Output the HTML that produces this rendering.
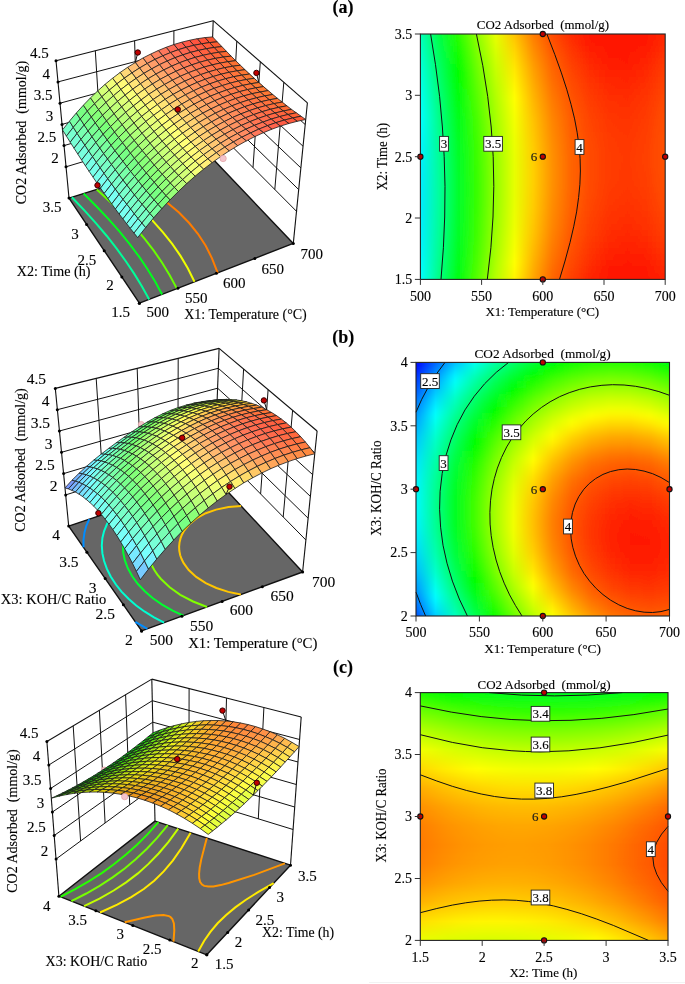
<!DOCTYPE html>
<html><head><meta charset="utf-8"><title>CO2 Adsorbed response surfaces</title>
<style>html,body{margin:0;padding:0;background:#fff}svg{display:block}text{stroke:#000;stroke-width:0.22px;stroke-opacity:0.55}</style></head>
<body><svg width="685" height="984" viewBox="0 0 685 984" font-family="'Liberation Serif', 'Times New Roman', serif" fill="#000">
<defs><clipPath id="clipa"><rect x="420.4" y="34.0" width="244.8" height="245.4"/></clipPath><clipPath id="clipb"><rect x="416.0" y="362.4" width="253.5" height="253.6"/></clipPath><clipPath id="clipc"><rect x="420.3" y="692.6" width="247.7" height="247.8"/></clipPath><filter id="blurr" x="-5%" y="-20%" width="110%" height="140%"><feGaussianBlur stdDeviation="0 3"/></filter><filter id="blurc" x="-20%" y="-5%" width="140%" height="110%"><feGaussianBlur stdDeviation="3 0"/></filter><linearGradient id="ga0"><stop offset="0" stop-color="#00ffaf"/><stop offset="0.077" stop-color="#00ff3a"/><stop offset="0.154" stop-color="#34ff00"/><stop offset="0.231" stop-color="#9aff00"/><stop offset="0.308" stop-color="#f3ff00"/><stop offset="0.385" stop-color="#ffb700"/><stop offset="0.462" stop-color="#ff7000"/><stop offset="0.538" stop-color="#ff4300"/><stop offset="0.615" stop-color="#ff2100"/><stop offset="0.692" stop-color="#ff1600"/><stop offset="0.769" stop-color="#ff1400"/><stop offset="0.846" stop-color="#ff1400"/><stop offset="0.923" stop-color="#ff1600"/><stop offset="1" stop-color="#ff1d00"/></linearGradient><linearGradient id="ga1"><stop offset="0" stop-color="#00ffb6"/><stop offset="0.077" stop-color="#00ff41"/><stop offset="0.154" stop-color="#2dff00"/><stop offset="0.231" stop-color="#93ff00"/><stop offset="0.308" stop-color="#ecff00"/><stop offset="0.385" stop-color="#ffbf00"/><stop offset="0.462" stop-color="#ff7800"/><stop offset="0.538" stop-color="#ff4900"/><stop offset="0.615" stop-color="#ff2700"/><stop offset="0.692" stop-color="#ff1800"/><stop offset="0.769" stop-color="#ff1500"/><stop offset="0.846" stop-color="#ff1500"/><stop offset="0.923" stop-color="#ff1700"/><stop offset="1" stop-color="#ff2200"/></linearGradient><linearGradient id="ga2"><stop offset="0" stop-color="#00ffbd"/><stop offset="0.077" stop-color="#00ff47"/><stop offset="0.154" stop-color="#26ff00"/><stop offset="0.231" stop-color="#8cff00"/><stop offset="0.308" stop-color="#e5ff00"/><stop offset="0.385" stop-color="#ffc600"/><stop offset="0.462" stop-color="#ff7f00"/><stop offset="0.538" stop-color="#ff4e00"/><stop offset="0.615" stop-color="#ff2c00"/><stop offset="0.692" stop-color="#ff1900"/><stop offset="0.769" stop-color="#ff1600"/><stop offset="0.846" stop-color="#ff1600"/><stop offset="0.923" stop-color="#ff1800"/><stop offset="1" stop-color="#ff2700"/></linearGradient><linearGradient id="ga3"><stop offset="0" stop-color="#00ffc3"/><stop offset="0.077" stop-color="#00ff4e"/><stop offset="0.154" stop-color="#1fff00"/><stop offset="0.231" stop-color="#85ff00"/><stop offset="0.308" stop-color="#dfff00"/><stop offset="0.385" stop-color="#ffcd00"/><stop offset="0.462" stop-color="#ff8600"/><stop offset="0.538" stop-color="#ff5300"/><stop offset="0.615" stop-color="#ff3100"/><stop offset="0.692" stop-color="#ff1a00"/><stop offset="0.769" stop-color="#ff1700"/><stop offset="0.846" stop-color="#ff1700"/><stop offset="0.923" stop-color="#ff1900"/><stop offset="1" stop-color="#ff2b00"/></linearGradient><linearGradient id="ga4"><stop offset="0" stop-color="#00ffc9"/><stop offset="0.077" stop-color="#00ff54"/><stop offset="0.154" stop-color="#18ff00"/><stop offset="0.231" stop-color="#7fff00"/><stop offset="0.308" stop-color="#d9ff00"/><stop offset="0.385" stop-color="#ffd400"/><stop offset="0.462" stop-color="#ff8c00"/><stop offset="0.538" stop-color="#ff5800"/><stop offset="0.615" stop-color="#ff3600"/><stop offset="0.692" stop-color="#ff1f00"/><stop offset="0.769" stop-color="#ff1800"/><stop offset="0.846" stop-color="#ff1800"/><stop offset="0.923" stop-color="#ff1b00"/><stop offset="1" stop-color="#ff2f00"/></linearGradient><linearGradient id="ga5"><stop offset="0" stop-color="#00ffcf"/><stop offset="0.077" stop-color="#00ff59"/><stop offset="0.154" stop-color="#12ff00"/><stop offset="0.231" stop-color="#79ff00"/><stop offset="0.308" stop-color="#d3ff00"/><stop offset="0.385" stop-color="#ffda00"/><stop offset="0.462" stop-color="#ff9200"/><stop offset="0.538" stop-color="#ff5d00"/><stop offset="0.615" stop-color="#ff3b00"/><stop offset="0.692" stop-color="#ff2300"/><stop offset="0.769" stop-color="#ff1900"/><stop offset="0.846" stop-color="#ff1900"/><stop offset="0.923" stop-color="#ff1f00"/><stop offset="1" stop-color="#ff3300"/></linearGradient><linearGradient id="ga6"><stop offset="0" stop-color="#00ffd5"/><stop offset="0.077" stop-color="#00ff5f"/><stop offset="0.154" stop-color="#0cff00"/><stop offset="0.231" stop-color="#73ff00"/><stop offset="0.308" stop-color="#cdff00"/><stop offset="0.385" stop-color="#ffe000"/><stop offset="0.462" stop-color="#ff9800"/><stop offset="0.538" stop-color="#ff6200"/><stop offset="0.615" stop-color="#ff3f00"/><stop offset="0.692" stop-color="#ff2700"/><stop offset="0.769" stop-color="#ff1b00"/><stop offset="0.846" stop-color="#ff1900"/><stop offset="0.923" stop-color="#ff2300"/><stop offset="1" stop-color="#ff3700"/></linearGradient><linearGradient id="ga7"><stop offset="0" stop-color="#00ffdb"/><stop offset="0.077" stop-color="#00ff64"/><stop offset="0.154" stop-color="#07ff00"/><stop offset="0.231" stop-color="#6eff00"/><stop offset="0.308" stop-color="#c8ff00"/><stop offset="0.385" stop-color="#ffe600"/><stop offset="0.462" stop-color="#ff9e00"/><stop offset="0.538" stop-color="#ff6600"/><stop offset="0.615" stop-color="#ff4300"/><stop offset="0.692" stop-color="#ff2b00"/><stop offset="0.769" stop-color="#ff1f00"/><stop offset="0.846" stop-color="#ff1d00"/><stop offset="0.923" stop-color="#ff2600"/><stop offset="1" stop-color="#ff3a00"/></linearGradient><linearGradient id="ga8"><stop offset="0" stop-color="#00ffe0"/><stop offset="0.077" stop-color="#00ff6a"/><stop offset="0.154" stop-color="#01ff00"/><stop offset="0.231" stop-color="#68ff00"/><stop offset="0.308" stop-color="#c3ff00"/><stop offset="0.385" stop-color="#ffeb00"/><stop offset="0.462" stop-color="#ffa300"/><stop offset="0.538" stop-color="#ff6a00"/><stop offset="0.615" stop-color="#ff4700"/><stop offset="0.692" stop-color="#ff2f00"/><stop offset="0.769" stop-color="#ff2200"/><stop offset="0.846" stop-color="#ff2000"/><stop offset="0.923" stop-color="#ff2a00"/><stop offset="1" stop-color="#ff3e00"/></linearGradient><linearGradient id="ga9"><stop offset="0" stop-color="#00ffe5"/><stop offset="0.077" stop-color="#00ff6e"/><stop offset="0.154" stop-color="#00ff04"/><stop offset="0.231" stop-color="#63ff00"/><stop offset="0.308" stop-color="#beff00"/><stop offset="0.385" stop-color="#fff100"/><stop offset="0.462" stop-color="#ffa800"/><stop offset="0.538" stop-color="#ff6e00"/><stop offset="0.615" stop-color="#ff4b00"/><stop offset="0.692" stop-color="#ff3300"/><stop offset="0.769" stop-color="#ff2600"/><stop offset="0.846" stop-color="#ff2400"/><stop offset="0.923" stop-color="#ff2d00"/><stop offset="1" stop-color="#ff4100"/></linearGradient><linearGradient id="ga10"><stop offset="0" stop-color="#00ffea"/><stop offset="0.077" stop-color="#00ff73"/><stop offset="0.154" stop-color="#00ff08"/><stop offset="0.231" stop-color="#5fff00"/><stop offset="0.308" stop-color="#b9ff00"/><stop offset="0.385" stop-color="#fff500"/><stop offset="0.462" stop-color="#ffad00"/><stop offset="0.538" stop-color="#ff7200"/><stop offset="0.615" stop-color="#ff4e00"/><stop offset="0.692" stop-color="#ff3600"/><stop offset="0.769" stop-color="#ff2900"/><stop offset="0.846" stop-color="#ff2700"/><stop offset="0.923" stop-color="#ff3000"/><stop offset="1" stop-color="#ff4300"/></linearGradient><linearGradient id="ga11"><stop offset="0" stop-color="#00ffee"/><stop offset="0.077" stop-color="#00ff77"/><stop offset="0.154" stop-color="#00ff0c"/><stop offset="0.231" stop-color="#5aff00"/><stop offset="0.308" stop-color="#b5ff00"/><stop offset="0.385" stop-color="#fffa00"/><stop offset="0.462" stop-color="#ffb100"/><stop offset="0.538" stop-color="#ff7600"/><stop offset="0.615" stop-color="#ff5100"/><stop offset="0.692" stop-color="#ff3900"/><stop offset="0.769" stop-color="#ff2c00"/><stop offset="0.846" stop-color="#ff2a00"/><stop offset="0.923" stop-color="#ff3200"/><stop offset="1" stop-color="#ff4600"/></linearGradient><linearGradient id="ga12"><stop offset="0" stop-color="#00fff2"/><stop offset="0.077" stop-color="#00ff7b"/><stop offset="0.154" stop-color="#00ff10"/><stop offset="0.231" stop-color="#56ff00"/><stop offset="0.308" stop-color="#b1ff00"/><stop offset="0.385" stop-color="#fffe00"/><stop offset="0.462" stop-color="#ffb500"/><stop offset="0.538" stop-color="#ff7a00"/><stop offset="0.615" stop-color="#ff5400"/><stop offset="0.692" stop-color="#ff3c00"/><stop offset="0.769" stop-color="#ff2f00"/><stop offset="0.846" stop-color="#ff2c00"/><stop offset="0.923" stop-color="#ff3500"/><stop offset="1" stop-color="#ff4800"/></linearGradient><linearGradient id="ga13"><stop offset="0" stop-color="#00fff6"/><stop offset="0.077" stop-color="#00ff7f"/><stop offset="0.154" stop-color="#00ff14"/><stop offset="0.231" stop-color="#52ff00"/><stop offset="0.308" stop-color="#adff00"/><stop offset="0.385" stop-color="#fcff00"/><stop offset="0.462" stop-color="#ffb900"/><stop offset="0.538" stop-color="#ff7e00"/><stop offset="0.615" stop-color="#ff5700"/><stop offset="0.692" stop-color="#ff3e00"/><stop offset="0.769" stop-color="#ff3100"/><stop offset="0.846" stop-color="#ff2e00"/><stop offset="0.923" stop-color="#ff3700"/><stop offset="1" stop-color="#ff4a00"/></linearGradient><linearGradient id="ga14"><stop offset="0" stop-color="#00fffa"/><stop offset="0.077" stop-color="#00ff83"/><stop offset="0.154" stop-color="#00ff17"/><stop offset="0.231" stop-color="#4fff00"/><stop offset="0.308" stop-color="#aaff00"/><stop offset="0.385" stop-color="#f9ff00"/><stop offset="0.462" stop-color="#ffbc00"/><stop offset="0.538" stop-color="#ff8100"/><stop offset="0.615" stop-color="#ff5900"/><stop offset="0.692" stop-color="#ff4100"/><stop offset="0.769" stop-color="#ff3300"/><stop offset="0.846" stop-color="#ff3000"/><stop offset="0.923" stop-color="#ff3900"/><stop offset="1" stop-color="#ff4c00"/></linearGradient><linearGradient id="ga15"><stop offset="0" stop-color="#00fffd"/><stop offset="0.077" stop-color="#00ff86"/><stop offset="0.154" stop-color="#00ff1b"/><stop offset="0.231" stop-color="#4bff00"/><stop offset="0.308" stop-color="#a7ff00"/><stop offset="0.385" stop-color="#f6ff00"/><stop offset="0.462" stop-color="#ffc000"/><stop offset="0.538" stop-color="#ff8400"/><stop offset="0.615" stop-color="#ff5c00"/><stop offset="0.692" stop-color="#ff4300"/><stop offset="0.769" stop-color="#ff3500"/><stop offset="0.846" stop-color="#ff3200"/><stop offset="0.923" stop-color="#ff3a00"/><stop offset="1" stop-color="#ff4e00"/></linearGradient><linearGradient id="ga16"><stop offset="0" stop-color="#00fdff"/><stop offset="0.077" stop-color="#00ff89"/><stop offset="0.154" stop-color="#00ff1e"/><stop offset="0.231" stop-color="#48ff00"/><stop offset="0.308" stop-color="#a4ff00"/><stop offset="0.385" stop-color="#f3ff00"/><stop offset="0.462" stop-color="#ffc300"/><stop offset="0.538" stop-color="#ff8700"/><stop offset="0.615" stop-color="#ff5e00"/><stop offset="0.692" stop-color="#ff4500"/><stop offset="0.769" stop-color="#ff3700"/><stop offset="0.846" stop-color="#ff3400"/><stop offset="0.923" stop-color="#ff3c00"/><stop offset="1" stop-color="#ff4f00"/></linearGradient><linearGradient id="ga17"><stop offset="0" stop-color="#00fbff"/><stop offset="0.077" stop-color="#00ff8c"/><stop offset="0.154" stop-color="#00ff20"/><stop offset="0.231" stop-color="#45ff00"/><stop offset="0.308" stop-color="#a1ff00"/><stop offset="0.385" stop-color="#f1ff00"/><stop offset="0.462" stop-color="#ffc500"/><stop offset="0.538" stop-color="#ff8900"/><stop offset="0.615" stop-color="#ff5f00"/><stop offset="0.692" stop-color="#ff4600"/><stop offset="0.769" stop-color="#ff3800"/><stop offset="0.846" stop-color="#ff3500"/><stop offset="0.923" stop-color="#ff3d00"/><stop offset="1" stop-color="#ff5000"/></linearGradient><linearGradient id="ga18"><stop offset="0" stop-color="#00f8ff"/><stop offset="0.077" stop-color="#00ff8f"/><stop offset="0.154" stop-color="#00ff23"/><stop offset="0.231" stop-color="#43ff00"/><stop offset="0.308" stop-color="#9fff00"/><stop offset="0.385" stop-color="#eeff00"/><stop offset="0.462" stop-color="#ffc700"/><stop offset="0.538" stop-color="#ff8b00"/><stop offset="0.615" stop-color="#ff6100"/><stop offset="0.692" stop-color="#ff4800"/><stop offset="0.769" stop-color="#ff3a00"/><stop offset="0.846" stop-color="#ff3600"/><stop offset="0.923" stop-color="#ff3e00"/><stop offset="1" stop-color="#ff5100"/></linearGradient><linearGradient id="ga19"><stop offset="0" stop-color="#00f6ff"/><stop offset="0.077" stop-color="#00ff91"/><stop offset="0.154" stop-color="#00ff25"/><stop offset="0.231" stop-color="#41ff00"/><stop offset="0.308" stop-color="#9dff00"/><stop offset="0.385" stop-color="#ecff00"/><stop offset="0.462" stop-color="#ffc900"/><stop offset="0.538" stop-color="#ff8d00"/><stop offset="0.615" stop-color="#ff6200"/><stop offset="0.692" stop-color="#ff4900"/><stop offset="0.769" stop-color="#ff3b00"/><stop offset="0.846" stop-color="#ff3700"/><stop offset="0.923" stop-color="#ff3f00"/><stop offset="1" stop-color="#ff5200"/></linearGradient><linearGradient id="ga20"><stop offset="0" stop-color="#00f3ff"/><stop offset="0.077" stop-color="#00ff93"/><stop offset="0.154" stop-color="#00ff27"/><stop offset="0.231" stop-color="#3fff00"/><stop offset="0.308" stop-color="#9bff00"/><stop offset="0.385" stop-color="#ebff00"/><stop offset="0.462" stop-color="#ffcb00"/><stop offset="0.538" stop-color="#ff8f00"/><stop offset="0.615" stop-color="#ff6300"/><stop offset="0.692" stop-color="#ff4a00"/><stop offset="0.769" stop-color="#ff3b00"/><stop offset="0.846" stop-color="#ff3800"/><stop offset="0.923" stop-color="#ff3f00"/><stop offset="1" stop-color="#ff5200"/></linearGradient><linearGradient id="ga21"><stop offset="0" stop-color="#00f2ff"/><stop offset="0.077" stop-color="#00ff95"/><stop offset="0.154" stop-color="#00ff28"/><stop offset="0.231" stop-color="#3dff00"/><stop offset="0.308" stop-color="#9aff00"/><stop offset="0.385" stop-color="#e9ff00"/><stop offset="0.462" stop-color="#ffcc00"/><stop offset="0.538" stop-color="#ff9000"/><stop offset="0.615" stop-color="#ff6400"/><stop offset="0.692" stop-color="#ff4b00"/><stop offset="0.769" stop-color="#ff3c00"/><stop offset="0.846" stop-color="#ff3800"/><stop offset="0.923" stop-color="#ff4000"/><stop offset="1" stop-color="#ff5200"/></linearGradient><linearGradient id="ga22"><stop offset="0" stop-color="#00f0ff"/><stop offset="0.077" stop-color="#00ff97"/><stop offset="0.154" stop-color="#00ff2a"/><stop offset="0.231" stop-color="#3cff00"/><stop offset="0.308" stop-color="#98ff00"/><stop offset="0.385" stop-color="#e8ff00"/><stop offset="0.462" stop-color="#ffcd00"/><stop offset="0.538" stop-color="#ff9100"/><stop offset="0.615" stop-color="#ff6500"/><stop offset="0.692" stop-color="#ff4b00"/><stop offset="0.769" stop-color="#ff3c00"/><stop offset="0.846" stop-color="#ff3900"/><stop offset="0.923" stop-color="#ff4000"/><stop offset="1" stop-color="#ff5200"/></linearGradient><linearGradient id="ga23"><stop offset="0" stop-color="#00eeff"/><stop offset="0.077" stop-color="#00ff98"/><stop offset="0.154" stop-color="#00ff2b"/><stop offset="0.231" stop-color="#3bff00"/><stop offset="0.308" stop-color="#97ff00"/><stop offset="0.385" stop-color="#e7ff00"/><stop offset="0.462" stop-color="#ffce00"/><stop offset="0.538" stop-color="#ff9100"/><stop offset="0.615" stop-color="#ff6500"/><stop offset="0.692" stop-color="#ff4b00"/><stop offset="0.769" stop-color="#ff3c00"/><stop offset="0.846" stop-color="#ff3800"/><stop offset="0.923" stop-color="#ff4000"/><stop offset="1" stop-color="#ff5200"/></linearGradient><linearGradient id="ga24"><stop offset="0" stop-color="#00edff"/><stop offset="0.077" stop-color="#00ff99"/><stop offset="0.154" stop-color="#00ff2c"/><stop offset="0.231" stop-color="#3aff00"/><stop offset="0.308" stop-color="#97ff00"/><stop offset="0.385" stop-color="#e7ff00"/><stop offset="0.462" stop-color="#ffcf00"/><stop offset="0.538" stop-color="#ff9200"/><stop offset="0.615" stop-color="#ff6500"/><stop offset="0.692" stop-color="#ff4b00"/><stop offset="0.769" stop-color="#ff3c00"/><stop offset="0.846" stop-color="#ff3800"/><stop offset="0.923" stop-color="#ff3f00"/><stop offset="1" stop-color="#ff5100"/></linearGradient><linearGradient id="ga25"><stop offset="0" stop-color="#00ecff"/><stop offset="0.077" stop-color="#00ff9a"/><stop offset="0.154" stop-color="#00ff2d"/><stop offset="0.231" stop-color="#39ff00"/><stop offset="0.308" stop-color="#96ff00"/><stop offset="0.385" stop-color="#e7ff00"/><stop offset="0.462" stop-color="#ffcf00"/><stop offset="0.538" stop-color="#ff9200"/><stop offset="0.615" stop-color="#ff6500"/><stop offset="0.692" stop-color="#ff4b00"/><stop offset="0.769" stop-color="#ff3c00"/><stop offset="0.846" stop-color="#ff3800"/><stop offset="0.923" stop-color="#ff3e00"/><stop offset="1" stop-color="#ff5000"/></linearGradient><linearGradient id="ga26"><stop offset="0" stop-color="#00ecff"/><stop offset="0.077" stop-color="#00ff9a"/><stop offset="0.154" stop-color="#00ff2d"/><stop offset="0.231" stop-color="#39ff00"/><stop offset="0.308" stop-color="#96ff00"/><stop offset="0.385" stop-color="#e7ff00"/><stop offset="0.462" stop-color="#ffcf00"/><stop offset="0.538" stop-color="#ff9100"/><stop offset="0.615" stop-color="#ff6500"/><stop offset="0.692" stop-color="#ff4a00"/><stop offset="0.769" stop-color="#ff3b00"/><stop offset="0.846" stop-color="#ff3700"/><stop offset="0.923" stop-color="#ff3e00"/><stop offset="1" stop-color="#ff4f00"/></linearGradient><linearGradient id="ga27"><stop offset="0" stop-color="#00ebff"/><stop offset="0.077" stop-color="#00ff9b"/><stop offset="0.154" stop-color="#00ff2d"/><stop offset="0.231" stop-color="#39ff00"/><stop offset="0.308" stop-color="#96ff00"/><stop offset="0.385" stop-color="#e7ff00"/><stop offset="0.462" stop-color="#ffce00"/><stop offset="0.538" stop-color="#ff9100"/><stop offset="0.615" stop-color="#ff6400"/><stop offset="0.692" stop-color="#ff4a00"/><stop offset="0.769" stop-color="#ff3a00"/><stop offset="0.846" stop-color="#ff3600"/><stop offset="0.923" stop-color="#ff3c00"/><stop offset="1" stop-color="#ff4e00"/></linearGradient><linearGradient id="ga28"><stop offset="0" stop-color="#00ebff"/><stop offset="0.077" stop-color="#00ff9b"/><stop offset="0.154" stop-color="#00ff2d"/><stop offset="0.231" stop-color="#39ff00"/><stop offset="0.308" stop-color="#96ff00"/><stop offset="0.385" stop-color="#e7ff00"/><stop offset="0.462" stop-color="#ffcd00"/><stop offset="0.538" stop-color="#ff9000"/><stop offset="0.615" stop-color="#ff6300"/><stop offset="0.692" stop-color="#ff4900"/><stop offset="0.769" stop-color="#ff3900"/><stop offset="0.846" stop-color="#ff3500"/><stop offset="0.923" stop-color="#ff3b00"/><stop offset="1" stop-color="#ff4c00"/></linearGradient><linearGradient id="ga29"><stop offset="0" stop-color="#00ebff"/><stop offset="0.077" stop-color="#00ff9b"/><stop offset="0.154" stop-color="#00ff2d"/><stop offset="0.231" stop-color="#39ff00"/><stop offset="0.308" stop-color="#97ff00"/><stop offset="0.385" stop-color="#e8ff00"/><stop offset="0.462" stop-color="#ffcc00"/><stop offset="0.538" stop-color="#ff8e00"/><stop offset="0.615" stop-color="#ff6200"/><stop offset="0.692" stop-color="#ff4700"/><stop offset="0.769" stop-color="#ff3800"/><stop offset="0.846" stop-color="#ff3300"/><stop offset="0.923" stop-color="#ff3900"/><stop offset="1" stop-color="#ff4b00"/></linearGradient><linearGradient id="ga30"><stop offset="0" stop-color="#00ebff"/><stop offset="0.077" stop-color="#00ff9a"/><stop offset="0.154" stop-color="#00ff2c"/><stop offset="0.231" stop-color="#3aff00"/><stop offset="0.308" stop-color="#98ff00"/><stop offset="0.385" stop-color="#e9ff00"/><stop offset="0.462" stop-color="#ffcb00"/><stop offset="0.538" stop-color="#ff8d00"/><stop offset="0.615" stop-color="#ff6100"/><stop offset="0.692" stop-color="#ff4600"/><stop offset="0.769" stop-color="#ff3600"/><stop offset="0.846" stop-color="#ff3100"/><stop offset="0.923" stop-color="#ff3800"/><stop offset="1" stop-color="#ff4900"/></linearGradient><linearGradient id="ga31"><stop offset="0" stop-color="#00ecff"/><stop offset="0.077" stop-color="#00ff99"/><stop offset="0.154" stop-color="#00ff2c"/><stop offset="0.231" stop-color="#3bff00"/><stop offset="0.308" stop-color="#99ff00"/><stop offset="0.385" stop-color="#ebff00"/><stop offset="0.462" stop-color="#ffc900"/><stop offset="0.538" stop-color="#ff8b00"/><stop offset="0.615" stop-color="#ff5f00"/><stop offset="0.692" stop-color="#ff4400"/><stop offset="0.769" stop-color="#ff3400"/><stop offset="0.846" stop-color="#ff2f00"/><stop offset="0.923" stop-color="#ff3500"/><stop offset="1" stop-color="#ff4600"/></linearGradient><linearGradient id="ga32"><stop offset="0" stop-color="#00edff"/><stop offset="0.077" stop-color="#00ff98"/><stop offset="0.154" stop-color="#00ff2a"/><stop offset="0.231" stop-color="#3dff00"/><stop offset="0.308" stop-color="#9bff00"/><stop offset="0.385" stop-color="#ecff00"/><stop offset="0.462" stop-color="#ffc700"/><stop offset="0.538" stop-color="#ff8900"/><stop offset="0.615" stop-color="#ff5d00"/><stop offset="0.692" stop-color="#ff4200"/><stop offset="0.769" stop-color="#ff3200"/><stop offset="0.846" stop-color="#ff2d00"/><stop offset="0.923" stop-color="#ff3300"/><stop offset="1" stop-color="#ff4400"/></linearGradient><linearGradient id="ga33"><stop offset="0" stop-color="#00eeff"/><stop offset="0.077" stop-color="#00ff97"/><stop offset="0.154" stop-color="#00ff29"/><stop offset="0.231" stop-color="#3eff00"/><stop offset="0.308" stop-color="#9cff00"/><stop offset="0.385" stop-color="#eeff00"/><stop offset="0.462" stop-color="#ffc500"/><stop offset="0.538" stop-color="#ff8700"/><stop offset="0.615" stop-color="#ff5b00"/><stop offset="0.692" stop-color="#ff4000"/><stop offset="0.769" stop-color="#ff3000"/><stop offset="0.846" stop-color="#ff2b00"/><stop offset="0.923" stop-color="#ff3100"/><stop offset="1" stop-color="#ff4100"/></linearGradient><linearGradient id="ga34"><stop offset="0" stop-color="#00efff"/><stop offset="0.077" stop-color="#00ff96"/><stop offset="0.154" stop-color="#00ff28"/><stop offset="0.231" stop-color="#40ff00"/><stop offset="0.308" stop-color="#9fff00"/><stop offset="0.385" stop-color="#f0ff00"/><stop offset="0.462" stop-color="#ffc300"/><stop offset="0.538" stop-color="#ff8400"/><stop offset="0.615" stop-color="#ff5900"/><stop offset="0.692" stop-color="#ff3e00"/><stop offset="0.769" stop-color="#ff2d00"/><stop offset="0.846" stop-color="#ff2800"/><stop offset="0.923" stop-color="#ff2e00"/><stop offset="1" stop-color="#ff3e00"/></linearGradient><linearGradient id="ga35"><stop offset="0" stop-color="#00f0ff"/><stop offset="0.077" stop-color="#00ff94"/><stop offset="0.154" stop-color="#00ff26"/><stop offset="0.231" stop-color="#42ff00"/><stop offset="0.308" stop-color="#a1ff00"/><stop offset="0.385" stop-color="#f3ff00"/><stop offset="0.462" stop-color="#ffc000"/><stop offset="0.538" stop-color="#ff8100"/><stop offset="0.615" stop-color="#ff5600"/><stop offset="0.692" stop-color="#ff3b00"/><stop offset="0.769" stop-color="#ff2b00"/><stop offset="0.846" stop-color="#ff2500"/><stop offset="0.923" stop-color="#ff2b00"/><stop offset="1" stop-color="#ff3b00"/></linearGradient><linearGradient id="ga36"><stop offset="0" stop-color="#00f2ff"/><stop offset="0.077" stop-color="#00ff92"/><stop offset="0.154" stop-color="#00ff24"/><stop offset="0.231" stop-color="#45ff00"/><stop offset="0.308" stop-color="#a3ff00"/><stop offset="0.385" stop-color="#f5ff00"/><stop offset="0.462" stop-color="#ffbc00"/><stop offset="0.538" stop-color="#ff7d00"/><stop offset="0.615" stop-color="#ff5400"/><stop offset="0.692" stop-color="#ff3800"/><stop offset="0.769" stop-color="#ff2800"/><stop offset="0.846" stop-color="#ff2200"/><stop offset="0.923" stop-color="#ff2700"/><stop offset="1" stop-color="#ff3800"/></linearGradient><linearGradient id="ga37"><stop offset="0" stop-color="#00f4ff"/><stop offset="0.077" stop-color="#00ff90"/><stop offset="0.154" stop-color="#00ff21"/><stop offset="0.231" stop-color="#47ff00"/><stop offset="0.308" stop-color="#a6ff00"/><stop offset="0.385" stop-color="#f8ff00"/><stop offset="0.462" stop-color="#ffb900"/><stop offset="0.538" stop-color="#ff7a00"/><stop offset="0.615" stop-color="#ff5100"/><stop offset="0.692" stop-color="#ff3500"/><stop offset="0.769" stop-color="#ff2400"/><stop offset="0.846" stop-color="#ff1f00"/><stop offset="0.923" stop-color="#ff2400"/><stop offset="1" stop-color="#ff3400"/></linearGradient><linearGradient id="ga38"><stop offset="0" stop-color="#00f6ff"/><stop offset="0.077" stop-color="#00ff8e"/><stop offset="0.154" stop-color="#00ff1f"/><stop offset="0.231" stop-color="#4aff00"/><stop offset="0.308" stop-color="#a9ff00"/><stop offset="0.385" stop-color="#fcff00"/><stop offset="0.462" stop-color="#ffb500"/><stop offset="0.538" stop-color="#ff7600"/><stop offset="0.615" stop-color="#ff4d00"/><stop offset="0.692" stop-color="#ff3200"/><stop offset="0.769" stop-color="#ff2100"/><stop offset="0.846" stop-color="#ff1b00"/><stop offset="0.923" stop-color="#ff2000"/><stop offset="1" stop-color="#ff3000"/></linearGradient><linearGradient id="ga39"><stop offset="0" stop-color="#00f9ff"/><stop offset="0.077" stop-color="#00ff8b"/><stop offset="0.154" stop-color="#00ff1c"/><stop offset="0.231" stop-color="#4eff00"/><stop offset="0.308" stop-color="#adff00"/><stop offset="0.385" stop-color="#ffff00"/><stop offset="0.462" stop-color="#ffb100"/><stop offset="0.538" stop-color="#ff7200"/><stop offset="0.615" stop-color="#ff4a00"/><stop offset="0.692" stop-color="#ff2e00"/><stop offset="0.769" stop-color="#ff1d00"/><stop offset="0.846" stop-color="#ff1900"/><stop offset="0.923" stop-color="#ff1c00"/><stop offset="1" stop-color="#ff2c00"/></linearGradient><linearGradient id="ga40"><stop offset="0" stop-color="#00fcff"/><stop offset="0.077" stop-color="#00ff88"/><stop offset="0.154" stop-color="#00ff19"/><stop offset="0.231" stop-color="#51ff00"/><stop offset="0.308" stop-color="#b0ff00"/><stop offset="0.385" stop-color="#fffb00"/><stop offset="0.462" stop-color="#ffad00"/><stop offset="0.538" stop-color="#ff6d00"/><stop offset="0.615" stop-color="#ff4600"/><stop offset="0.692" stop-color="#ff2a00"/><stop offset="0.769" stop-color="#ff1900"/><stop offset="0.846" stop-color="#ff1800"/><stop offset="0.923" stop-color="#ff1900"/><stop offset="1" stop-color="#ff2800"/></linearGradient><linearGradient id="ga41"><stop offset="0" stop-color="#00feff"/><stop offset="0.077" stop-color="#00ff85"/><stop offset="0.154" stop-color="#00ff15"/><stop offset="0.231" stop-color="#55ff00"/><stop offset="0.308" stop-color="#b4ff00"/><stop offset="0.385" stop-color="#fff600"/><stop offset="0.462" stop-color="#ffa800"/><stop offset="0.538" stop-color="#ff6900"/><stop offset="0.615" stop-color="#ff4200"/><stop offset="0.692" stop-color="#ff2600"/><stop offset="0.769" stop-color="#ff1900"/><stop offset="0.846" stop-color="#ff1700"/><stop offset="0.923" stop-color="#ff1800"/><stop offset="1" stop-color="#ff2300"/></linearGradient><linearGradient id="ga42"><stop offset="0" stop-color="#00fffc"/><stop offset="0.077" stop-color="#00ff81"/><stop offset="0.154" stop-color="#00ff12"/><stop offset="0.231" stop-color="#59ff00"/><stop offset="0.308" stop-color="#b8ff00"/><stop offset="0.385" stop-color="#fff100"/><stop offset="0.462" stop-color="#ffa300"/><stop offset="0.538" stop-color="#ff6500"/><stop offset="0.615" stop-color="#ff3e00"/><stop offset="0.692" stop-color="#ff2200"/><stop offset="0.769" stop-color="#ff1800"/><stop offset="0.846" stop-color="#ff1600"/><stop offset="0.923" stop-color="#ff1700"/><stop offset="1" stop-color="#ff1e00"/></linearGradient><linearGradient id="ga43"><stop offset="0" stop-color="#00fff9"/><stop offset="0.077" stop-color="#00ff7e"/><stop offset="0.154" stop-color="#00ff0e"/><stop offset="0.231" stop-color="#5dff00"/><stop offset="0.308" stop-color="#bdff00"/><stop offset="0.385" stop-color="#ffec00"/><stop offset="0.462" stop-color="#ff9e00"/><stop offset="0.538" stop-color="#ff6100"/><stop offset="0.615" stop-color="#ff3a00"/><stop offset="0.692" stop-color="#ff1d00"/><stop offset="0.769" stop-color="#ff1700"/><stop offset="0.846" stop-color="#ff1500"/><stop offset="0.923" stop-color="#ff1600"/><stop offset="1" stop-color="#ff1900"/></linearGradient><linearGradient id="gb0"><stop offset="0" stop-color="#0800ff"/><stop offset="0.077" stop-color="#0041ff"/><stop offset="0.154" stop-color="#009bff"/><stop offset="0.231" stop-color="#00ebff"/><stop offset="0.308" stop-color="#00ffcc"/><stop offset="0.385" stop-color="#00ff90"/><stop offset="0.462" stop-color="#00ff5f"/><stop offset="0.538" stop-color="#00ff39"/><stop offset="0.615" stop-color="#00ff1e"/><stop offset="0.692" stop-color="#00ff0e"/><stop offset="0.769" stop-color="#00ff09"/><stop offset="0.846" stop-color="#00ff0f"/><stop offset="0.923" stop-color="#00ff21"/><stop offset="1" stop-color="#00ff3e"/></linearGradient><linearGradient id="gb1"><stop offset="0" stop-color="#0300ff"/><stop offset="0.077" stop-color="#0059ff"/><stop offset="0.154" stop-color="#00b4ff"/><stop offset="0.231" stop-color="#00fffa"/><stop offset="0.308" stop-color="#00ffb1"/><stop offset="0.385" stop-color="#00ff74"/><stop offset="0.462" stop-color="#00ff43"/><stop offset="0.538" stop-color="#00ff1c"/><stop offset="0.615" stop-color="#00ff00"/><stop offset="0.692" stop-color="#11ff00"/><stop offset="0.769" stop-color="#17ff00"/><stop offset="0.846" stop-color="#11ff00"/><stop offset="0.923" stop-color="#00ff02"/><stop offset="1" stop-color="#00ff1e"/></linearGradient><linearGradient id="gb2"><stop offset="0" stop-color="#000bff"/><stop offset="0.077" stop-color="#0071ff"/><stop offset="0.154" stop-color="#00ccff"/><stop offset="0.231" stop-color="#00ffe0"/><stop offset="0.308" stop-color="#00ff98"/><stop offset="0.385" stop-color="#00ff5a"/><stop offset="0.462" stop-color="#00ff28"/><stop offset="0.538" stop-color="#00ff01"/><stop offset="0.615" stop-color="#1eff00"/><stop offset="0.692" stop-color="#30ff00"/><stop offset="0.769" stop-color="#37ff00"/><stop offset="0.846" stop-color="#31ff00"/><stop offset="0.923" stop-color="#1fff00"/><stop offset="1" stop-color="#01ff00"/></linearGradient><linearGradient id="gb3"><stop offset="0" stop-color="#0020ff"/><stop offset="0.077" stop-color="#0087ff"/><stop offset="0.154" stop-color="#00e3ff"/><stop offset="0.231" stop-color="#00ffc8"/><stop offset="0.308" stop-color="#00ff7f"/><stop offset="0.385" stop-color="#00ff41"/><stop offset="0.462" stop-color="#00ff0e"/><stop offset="0.538" stop-color="#1cff00"/><stop offset="0.615" stop-color="#3bff00"/><stop offset="0.692" stop-color="#4eff00"/><stop offset="0.769" stop-color="#55ff00"/><stop offset="0.846" stop-color="#50ff00"/><stop offset="0.923" stop-color="#3fff00"/><stop offset="1" stop-color="#22ff00"/></linearGradient><linearGradient id="gb4"><stop offset="0" stop-color="#0035ff"/><stop offset="0.077" stop-color="#009cff"/><stop offset="0.154" stop-color="#00f8ff"/><stop offset="0.231" stop-color="#00ffb1"/><stop offset="0.308" stop-color="#00ff67"/><stop offset="0.385" stop-color="#00ff29"/><stop offset="0.462" stop-color="#0cff00"/><stop offset="0.538" stop-color="#38ff00"/><stop offset="0.615" stop-color="#57ff00"/><stop offset="0.692" stop-color="#6bff00"/><stop offset="0.769" stop-color="#73ff00"/><stop offset="0.846" stop-color="#6eff00"/><stop offset="0.923" stop-color="#5dff00"/><stop offset="1" stop-color="#41ff00"/></linearGradient><linearGradient id="gb5"><stop offset="0" stop-color="#0048ff"/><stop offset="0.077" stop-color="#00b0ff"/><stop offset="0.154" stop-color="#00fff1"/><stop offset="0.231" stop-color="#00ff9b"/><stop offset="0.308" stop-color="#00ff51"/><stop offset="0.385" stop-color="#00ff12"/><stop offset="0.462" stop-color="#25ff00"/><stop offset="0.538" stop-color="#52ff00"/><stop offset="0.615" stop-color="#72ff00"/><stop offset="0.692" stop-color="#87ff00"/><stop offset="0.769" stop-color="#8fff00"/><stop offset="0.846" stop-color="#8bff00"/><stop offset="0.923" stop-color="#7bff00"/><stop offset="1" stop-color="#5fff00"/></linearGradient><linearGradient id="gb6"><stop offset="0" stop-color="#005bff"/><stop offset="0.077" stop-color="#00c3ff"/><stop offset="0.154" stop-color="#00ffdc"/><stop offset="0.231" stop-color="#00ff86"/><stop offset="0.308" stop-color="#00ff3b"/><stop offset="0.385" stop-color="#05ff00"/><stop offset="0.462" stop-color="#3eff00"/><stop offset="0.538" stop-color="#6bff00"/><stop offset="0.615" stop-color="#8cff00"/><stop offset="0.692" stop-color="#a1ff00"/><stop offset="0.769" stop-color="#aaff00"/><stop offset="0.846" stop-color="#a7ff00"/><stop offset="0.923" stop-color="#97ff00"/><stop offset="1" stop-color="#7cff00"/></linearGradient><linearGradient id="gb7"><stop offset="0" stop-color="#006cff"/><stop offset="0.077" stop-color="#00d5ff"/><stop offset="0.154" stop-color="#00ffc9"/><stop offset="0.231" stop-color="#00ff72"/><stop offset="0.308" stop-color="#00ff27"/><stop offset="0.385" stop-color="#1cff00"/><stop offset="0.462" stop-color="#55ff00"/><stop offset="0.538" stop-color="#83ff00"/><stop offset="0.615" stop-color="#a5ff00"/><stop offset="0.692" stop-color="#baff00"/><stop offset="0.769" stop-color="#c4ff00"/><stop offset="0.846" stop-color="#c1ff00"/><stop offset="0.923" stop-color="#b2ff00"/><stop offset="1" stop-color="#97ff00"/></linearGradient><linearGradient id="gb8"><stop offset="0" stop-color="#007dff"/><stop offset="0.077" stop-color="#00e6ff"/><stop offset="0.154" stop-color="#00ffb7"/><stop offset="0.231" stop-color="#00ff60"/><stop offset="0.308" stop-color="#00ff13"/><stop offset="0.385" stop-color="#31ff00"/><stop offset="0.462" stop-color="#6cff00"/><stop offset="0.538" stop-color="#9aff00"/><stop offset="0.615" stop-color="#bcff00"/><stop offset="0.692" stop-color="#d2ff00"/><stop offset="0.769" stop-color="#dcff00"/><stop offset="0.846" stop-color="#daff00"/><stop offset="0.923" stop-color="#ccff00"/><stop offset="1" stop-color="#b2ff00"/></linearGradient><linearGradient id="gb9"><stop offset="0" stop-color="#008cff"/><stop offset="0.077" stop-color="#00f6ff"/><stop offset="0.154" stop-color="#00ffa6"/><stop offset="0.231" stop-color="#00ff4e"/><stop offset="0.308" stop-color="#00ff01"/><stop offset="0.385" stop-color="#46ff00"/><stop offset="0.462" stop-color="#81ff00"/><stop offset="0.538" stop-color="#b0ff00"/><stop offset="0.615" stop-color="#d3ff00"/><stop offset="0.692" stop-color="#e9ff00"/><stop offset="0.769" stop-color="#f4ff00"/><stop offset="0.846" stop-color="#f3ff00"/><stop offset="0.923" stop-color="#e5ff00"/><stop offset="1" stop-color="#cbff00"/></linearGradient><linearGradient id="gb10"><stop offset="0" stop-color="#009aff"/><stop offset="0.077" stop-color="#00fff9"/><stop offset="0.154" stop-color="#00ff95"/><stop offset="0.231" stop-color="#00ff3d"/><stop offset="0.308" stop-color="#11ff00"/><stop offset="0.385" stop-color="#59ff00"/><stop offset="0.462" stop-color="#95ff00"/><stop offset="0.538" stop-color="#c4ff00"/><stop offset="0.615" stop-color="#e8ff00"/><stop offset="0.692" stop-color="#ffff00"/><stop offset="0.769" stop-color="#fff200"/><stop offset="0.846" stop-color="#fff300"/><stop offset="0.923" stop-color="#fdff00"/><stop offset="1" stop-color="#e4ff00"/></linearGradient><linearGradient id="gb11"><stop offset="0" stop-color="#00a8ff"/><stop offset="0.077" stop-color="#00ffea"/><stop offset="0.154" stop-color="#00ff86"/><stop offset="0.231" stop-color="#00ff2d"/><stop offset="0.308" stop-color="#23ff00"/><stop offset="0.385" stop-color="#6bff00"/><stop offset="0.462" stop-color="#a8ff00"/><stop offset="0.538" stop-color="#d8ff00"/><stop offset="0.615" stop-color="#fcff00"/><stop offset="0.692" stop-color="#ffe800"/><stop offset="0.769" stop-color="#ffdb00"/><stop offset="0.846" stop-color="#ffdb00"/><stop offset="0.923" stop-color="#ffe900"/><stop offset="1" stop-color="#fbff00"/></linearGradient><linearGradient id="gb12"><stop offset="0" stop-color="#00b4ff"/><stop offset="0.077" stop-color="#00ffdd"/><stop offset="0.154" stop-color="#00ff78"/><stop offset="0.231" stop-color="#00ff1f"/><stop offset="0.308" stop-color="#33ff00"/><stop offset="0.385" stop-color="#7cff00"/><stop offset="0.462" stop-color="#b9ff00"/><stop offset="0.538" stop-color="#eaff00"/><stop offset="0.615" stop-color="#ffee00"/><stop offset="0.692" stop-color="#ffd200"/><stop offset="0.769" stop-color="#ffc400"/><stop offset="0.846" stop-color="#ffc400"/><stop offset="0.923" stop-color="#ffd100"/><stop offset="1" stop-color="#ffeb00"/></linearGradient><linearGradient id="gb13"><stop offset="0" stop-color="#00c0ff"/><stop offset="0.077" stop-color="#00ffd1"/><stop offset="0.154" stop-color="#00ff6c"/><stop offset="0.231" stop-color="#00ff11"/><stop offset="0.308" stop-color="#43ff00"/><stop offset="0.385" stop-color="#8cff00"/><stop offset="0.462" stop-color="#caff00"/><stop offset="0.538" stop-color="#fbff00"/><stop offset="0.615" stop-color="#ffda00"/><stop offset="0.692" stop-color="#ffbe00"/><stop offset="0.769" stop-color="#ffaf00"/><stop offset="0.846" stop-color="#ffae00"/><stop offset="0.923" stop-color="#ffba00"/><stop offset="1" stop-color="#ffd400"/></linearGradient><linearGradient id="gb14"><stop offset="0" stop-color="#00caff"/><stop offset="0.077" stop-color="#00ffc5"/><stop offset="0.154" stop-color="#00ff60"/><stop offset="0.231" stop-color="#00ff05"/><stop offset="0.308" stop-color="#51ff00"/><stop offset="0.385" stop-color="#9bff00"/><stop offset="0.462" stop-color="#d9ff00"/><stop offset="0.538" stop-color="#fff200"/><stop offset="0.615" stop-color="#ffc800"/><stop offset="0.692" stop-color="#ffab00"/><stop offset="0.769" stop-color="#ff9c00"/><stop offset="0.846" stop-color="#ff9a00"/><stop offset="0.923" stop-color="#ffa500"/><stop offset="1" stop-color="#ffbe00"/></linearGradient><linearGradient id="gb15"><stop offset="0" stop-color="#00d3ff"/><stop offset="0.077" stop-color="#00ffbb"/><stop offset="0.154" stop-color="#00ff55"/><stop offset="0.231" stop-color="#07ff00"/><stop offset="0.308" stop-color="#5eff00"/><stop offset="0.385" stop-color="#a8ff00"/><stop offset="0.462" stop-color="#e7ff00"/><stop offset="0.538" stop-color="#ffe100"/><stop offset="0.615" stop-color="#ffb700"/><stop offset="0.692" stop-color="#ff9900"/><stop offset="0.769" stop-color="#ff8900"/><stop offset="0.846" stop-color="#ff8700"/><stop offset="0.923" stop-color="#ff9200"/><stop offset="1" stop-color="#ffaa00"/></linearGradient><linearGradient id="gb16"><stop offset="0" stop-color="#00dbff"/><stop offset="0.077" stop-color="#00ffb2"/><stop offset="0.154" stop-color="#00ff4b"/><stop offset="0.231" stop-color="#12ff00"/><stop offset="0.308" stop-color="#69ff00"/><stop offset="0.385" stop-color="#b5ff00"/><stop offset="0.462" stop-color="#f4ff00"/><stop offset="0.538" stop-color="#ffd200"/><stop offset="0.615" stop-color="#ffa700"/><stop offset="0.692" stop-color="#ff8900"/><stop offset="0.769" stop-color="#ff7800"/><stop offset="0.846" stop-color="#ff7500"/><stop offset="0.923" stop-color="#ff7f00"/><stop offset="1" stop-color="#ff9700"/></linearGradient><linearGradient id="gb17"><stop offset="0" stop-color="#00e3ff"/><stop offset="0.077" stop-color="#00ffaa"/><stop offset="0.154" stop-color="#00ff43"/><stop offset="0.231" stop-color="#1cff00"/><stop offset="0.308" stop-color="#74ff00"/><stop offset="0.385" stop-color="#c0ff00"/><stop offset="0.462" stop-color="#fffe00"/><stop offset="0.538" stop-color="#ffc400"/><stop offset="0.615" stop-color="#ff9800"/><stop offset="0.692" stop-color="#ff7900"/><stop offset="0.769" stop-color="#ff6a00"/><stop offset="0.846" stop-color="#ff6600"/><stop offset="0.923" stop-color="#ff6e00"/><stop offset="1" stop-color="#ff8500"/></linearGradient><linearGradient id="gb18"><stop offset="0" stop-color="#00e9ff"/><stop offset="0.077" stop-color="#00ffa3"/><stop offset="0.154" stop-color="#00ff3b"/><stop offset="0.231" stop-color="#25ff00"/><stop offset="0.308" stop-color="#7eff00"/><stop offset="0.385" stop-color="#caff00"/><stop offset="0.462" stop-color="#fff200"/><stop offset="0.538" stop-color="#ffb800"/><stop offset="0.615" stop-color="#ff8b00"/><stop offset="0.692" stop-color="#ff6c00"/><stop offset="0.769" stop-color="#ff5e00"/><stop offset="0.846" stop-color="#ff5a00"/><stop offset="0.923" stop-color="#ff6100"/><stop offset="1" stop-color="#ff7400"/></linearGradient><linearGradient id="gb19"><stop offset="0" stop-color="#00eeff"/><stop offset="0.077" stop-color="#00ff9d"/><stop offset="0.154" stop-color="#00ff34"/><stop offset="0.231" stop-color="#2dff00"/><stop offset="0.308" stop-color="#86ff00"/><stop offset="0.385" stop-color="#d3ff00"/><stop offset="0.462" stop-color="#ffe700"/><stop offset="0.538" stop-color="#ffac00"/><stop offset="0.615" stop-color="#ff7f00"/><stop offset="0.692" stop-color="#ff6200"/><stop offset="0.769" stop-color="#ff5400"/><stop offset="0.846" stop-color="#ff4f00"/><stop offset="0.923" stop-color="#ff5600"/><stop offset="1" stop-color="#ff6700"/></linearGradient><linearGradient id="gb20"><stop offset="0" stop-color="#00f2ff"/><stop offset="0.077" stop-color="#00ff98"/><stop offset="0.154" stop-color="#00ff2f"/><stop offset="0.231" stop-color="#33ff00"/><stop offset="0.308" stop-color="#8dff00"/><stop offset="0.385" stop-color="#dbff00"/><stop offset="0.462" stop-color="#ffde00"/><stop offset="0.538" stop-color="#ffa200"/><stop offset="0.615" stop-color="#ff7400"/><stop offset="0.692" stop-color="#ff5900"/><stop offset="0.769" stop-color="#ff4a00"/><stop offset="0.846" stop-color="#ff4500"/><stop offset="0.923" stop-color="#ff4b00"/><stop offset="1" stop-color="#ff5c00"/></linearGradient><linearGradient id="gb21"><stop offset="0" stop-color="#00f5ff"/><stop offset="0.077" stop-color="#00ff94"/><stop offset="0.154" stop-color="#00ff2b"/><stop offset="0.231" stop-color="#38ff00"/><stop offset="0.308" stop-color="#93ff00"/><stop offset="0.385" stop-color="#e2ff00"/><stop offset="0.462" stop-color="#ffd600"/><stop offset="0.538" stop-color="#ff9a00"/><stop offset="0.615" stop-color="#ff6c00"/><stop offset="0.692" stop-color="#ff5100"/><stop offset="0.769" stop-color="#ff4200"/><stop offset="0.846" stop-color="#ff3c00"/><stop offset="0.923" stop-color="#ff4200"/><stop offset="1" stop-color="#ff5200"/></linearGradient><linearGradient id="gb22"><stop offset="0" stop-color="#00f7ff"/><stop offset="0.077" stop-color="#00ff91"/><stop offset="0.154" stop-color="#00ff27"/><stop offset="0.231" stop-color="#3dff00"/><stop offset="0.308" stop-color="#98ff00"/><stop offset="0.385" stop-color="#e7ff00"/><stop offset="0.462" stop-color="#ffcf00"/><stop offset="0.538" stop-color="#ff9200"/><stop offset="0.615" stop-color="#ff6500"/><stop offset="0.692" stop-color="#ff4a00"/><stop offset="0.769" stop-color="#ff3a00"/><stop offset="0.846" stop-color="#ff3400"/><stop offset="0.923" stop-color="#ff3900"/><stop offset="1" stop-color="#ff4800"/></linearGradient><linearGradient id="gb23"><stop offset="0" stop-color="#00f8ff"/><stop offset="0.077" stop-color="#00ff90"/><stop offset="0.154" stop-color="#00ff25"/><stop offset="0.231" stop-color="#40ff00"/><stop offset="0.308" stop-color="#9cff00"/><stop offset="0.385" stop-color="#ebff00"/><stop offset="0.462" stop-color="#ffca00"/><stop offset="0.538" stop-color="#ff8c00"/><stop offset="0.615" stop-color="#ff6000"/><stop offset="0.692" stop-color="#ff4500"/><stop offset="0.769" stop-color="#ff3400"/><stop offset="0.846" stop-color="#ff2d00"/><stop offset="0.923" stop-color="#ff3200"/><stop offset="1" stop-color="#ff4000"/></linearGradient><linearGradient id="gb24"><stop offset="0" stop-color="#00f9ff"/><stop offset="0.077" stop-color="#00ff8f"/><stop offset="0.154" stop-color="#00ff24"/><stop offset="0.231" stop-color="#42ff00"/><stop offset="0.308" stop-color="#9eff00"/><stop offset="0.385" stop-color="#eeff00"/><stop offset="0.462" stop-color="#ffc600"/><stop offset="0.538" stop-color="#ff8700"/><stop offset="0.615" stop-color="#ff5c00"/><stop offset="0.692" stop-color="#ff4000"/><stop offset="0.769" stop-color="#ff2e00"/><stop offset="0.846" stop-color="#ff2800"/><stop offset="0.923" stop-color="#ff2b00"/><stop offset="1" stop-color="#ff3900"/></linearGradient><linearGradient id="gb25"><stop offset="0" stop-color="#00f8ff"/><stop offset="0.077" stop-color="#00ff90"/><stop offset="0.154" stop-color="#00ff24"/><stop offset="0.231" stop-color="#42ff00"/><stop offset="0.308" stop-color="#a0ff00"/><stop offset="0.385" stop-color="#f0ff00"/><stop offset="0.462" stop-color="#ffc300"/><stop offset="0.538" stop-color="#ff8400"/><stop offset="0.615" stop-color="#ff5800"/><stop offset="0.692" stop-color="#ff3c00"/><stop offset="0.769" stop-color="#ff2a00"/><stop offset="0.846" stop-color="#ff2300"/><stop offset="0.923" stop-color="#ff2600"/><stop offset="1" stop-color="#ff3300"/></linearGradient><linearGradient id="gb26"><stop offset="0" stop-color="#00f6ff"/><stop offset="0.077" stop-color="#00ff91"/><stop offset="0.154" stop-color="#00ff25"/><stop offset="0.231" stop-color="#42ff00"/><stop offset="0.308" stop-color="#a0ff00"/><stop offset="0.385" stop-color="#f1ff00"/><stop offset="0.462" stop-color="#ffc100"/><stop offset="0.538" stop-color="#ff8100"/><stop offset="0.615" stop-color="#ff5600"/><stop offset="0.692" stop-color="#ff3900"/><stop offset="0.769" stop-color="#ff2700"/><stop offset="0.846" stop-color="#ff1f00"/><stop offset="0.923" stop-color="#ff2100"/><stop offset="1" stop-color="#ff2e00"/></linearGradient><linearGradient id="gb27"><stop offset="0" stop-color="#00f3ff"/><stop offset="0.077" stop-color="#00ff94"/><stop offset="0.154" stop-color="#00ff27"/><stop offset="0.231" stop-color="#41ff00"/><stop offset="0.308" stop-color="#9fff00"/><stop offset="0.385" stop-color="#f1ff00"/><stop offset="0.462" stop-color="#ffc100"/><stop offset="0.538" stop-color="#ff8000"/><stop offset="0.615" stop-color="#ff5500"/><stop offset="0.692" stop-color="#ff3700"/><stop offset="0.769" stop-color="#ff2400"/><stop offset="0.846" stop-color="#ff1c00"/><stop offset="0.923" stop-color="#ff1e00"/><stop offset="1" stop-color="#ff2a00"/></linearGradient><linearGradient id="gb28"><stop offset="0" stop-color="#00efff"/><stop offset="0.077" stop-color="#00ff97"/><stop offset="0.154" stop-color="#00ff2a"/><stop offset="0.231" stop-color="#3eff00"/><stop offset="0.308" stop-color="#9dff00"/><stop offset="0.385" stop-color="#f0ff00"/><stop offset="0.462" stop-color="#ffc200"/><stop offset="0.538" stop-color="#ff8100"/><stop offset="0.615" stop-color="#ff5400"/><stop offset="0.692" stop-color="#ff3600"/><stop offset="0.769" stop-color="#ff2300"/><stop offset="0.846" stop-color="#ff1a00"/><stop offset="0.923" stop-color="#ff1b00"/><stop offset="1" stop-color="#ff2700"/></linearGradient><linearGradient id="gb29"><stop offset="0" stop-color="#00e9ff"/><stop offset="0.077" stop-color="#00ff9c"/><stop offset="0.154" stop-color="#00ff2e"/><stop offset="0.231" stop-color="#3aff00"/><stop offset="0.308" stop-color="#99ff00"/><stop offset="0.385" stop-color="#edff00"/><stop offset="0.462" stop-color="#ffc400"/><stop offset="0.538" stop-color="#ff8200"/><stop offset="0.615" stop-color="#ff5500"/><stop offset="0.692" stop-color="#ff3600"/><stop offset="0.769" stop-color="#ff2200"/><stop offset="0.846" stop-color="#ff1900"/><stop offset="0.923" stop-color="#ff1a00"/><stop offset="1" stop-color="#ff2500"/></linearGradient><linearGradient id="gb30"><stop offset="0" stop-color="#00e3ff"/><stop offset="0.077" stop-color="#00ffa2"/><stop offset="0.154" stop-color="#00ff33"/><stop offset="0.231" stop-color="#35ff00"/><stop offset="0.308" stop-color="#95ff00"/><stop offset="0.385" stop-color="#e9ff00"/><stop offset="0.462" stop-color="#ffc700"/><stop offset="0.538" stop-color="#ff8500"/><stop offset="0.615" stop-color="#ff5700"/><stop offset="0.692" stop-color="#ff3700"/><stop offset="0.769" stop-color="#ff2300"/><stop offset="0.846" stop-color="#ff1900"/><stop offset="0.923" stop-color="#ff1900"/><stop offset="1" stop-color="#ff2400"/></linearGradient><linearGradient id="gb31"><stop offset="0" stop-color="#00dcff"/><stop offset="0.077" stop-color="#00ffa9"/><stop offset="0.154" stop-color="#00ff39"/><stop offset="0.231" stop-color="#2fff00"/><stop offset="0.308" stop-color="#90ff00"/><stop offset="0.385" stop-color="#e4ff00"/><stop offset="0.462" stop-color="#ffcc00"/><stop offset="0.538" stop-color="#ff8900"/><stop offset="0.615" stop-color="#ff5900"/><stop offset="0.692" stop-color="#ff3a00"/><stop offset="0.769" stop-color="#ff2400"/><stop offset="0.846" stop-color="#ff1a00"/><stop offset="0.923" stop-color="#ff1a00"/><stop offset="1" stop-color="#ff2400"/></linearGradient><linearGradient id="gb32"><stop offset="0" stop-color="#00d4ff"/><stop offset="0.077" stop-color="#00ffb0"/><stop offset="0.154" stop-color="#00ff40"/><stop offset="0.231" stop-color="#27ff00"/><stop offset="0.308" stop-color="#89ff00"/><stop offset="0.385" stop-color="#deff00"/><stop offset="0.462" stop-color="#ffd200"/><stop offset="0.538" stop-color="#ff8e00"/><stop offset="0.615" stop-color="#ff5d00"/><stop offset="0.692" stop-color="#ff3d00"/><stop offset="0.769" stop-color="#ff2700"/><stop offset="0.846" stop-color="#ff1c00"/><stop offset="0.923" stop-color="#ff1b00"/><stop offset="1" stop-color="#ff2500"/></linearGradient><linearGradient id="gb33"><stop offset="0" stop-color="#00cbff"/><stop offset="0.077" stop-color="#00ffb9"/><stop offset="0.154" stop-color="#00ff49"/><stop offset="0.231" stop-color="#1fff00"/><stop offset="0.308" stop-color="#81ff00"/><stop offset="0.385" stop-color="#d7ff00"/><stop offset="0.462" stop-color="#ffda00"/><stop offset="0.538" stop-color="#ff9500"/><stop offset="0.615" stop-color="#ff6200"/><stop offset="0.692" stop-color="#ff4100"/><stop offset="0.769" stop-color="#ff2b00"/><stop offset="0.846" stop-color="#ff1f00"/><stop offset="0.923" stop-color="#ff1e00"/><stop offset="1" stop-color="#ff2700"/></linearGradient><linearGradient id="gb34"><stop offset="0" stop-color="#00c1ff"/><stop offset="0.077" stop-color="#00ffc3"/><stop offset="0.154" stop-color="#00ff52"/><stop offset="0.231" stop-color="#15ff00"/><stop offset="0.308" stop-color="#78ff00"/><stop offset="0.385" stop-color="#ceff00"/><stop offset="0.462" stop-color="#ffe200"/><stop offset="0.538" stop-color="#ff9d00"/><stop offset="0.615" stop-color="#ff6700"/><stop offset="0.692" stop-color="#ff4600"/><stop offset="0.769" stop-color="#ff2f00"/><stop offset="0.846" stop-color="#ff2300"/><stop offset="0.923" stop-color="#ff2100"/><stop offset="1" stop-color="#ff2a00"/></linearGradient><linearGradient id="gb35"><stop offset="0" stop-color="#00b6ff"/><stop offset="0.077" stop-color="#00ffce"/><stop offset="0.154" stop-color="#00ff5d"/><stop offset="0.231" stop-color="#0bff00"/><stop offset="0.308" stop-color="#6eff00"/><stop offset="0.385" stop-color="#c5ff00"/><stop offset="0.462" stop-color="#ffec00"/><stop offset="0.538" stop-color="#ffa600"/><stop offset="0.615" stop-color="#ff6e00"/><stop offset="0.692" stop-color="#ff4c00"/><stop offset="0.769" stop-color="#ff3500"/><stop offset="0.846" stop-color="#ff2800"/><stop offset="0.923" stop-color="#ff2600"/><stop offset="1" stop-color="#ff2e00"/></linearGradient><linearGradient id="gb36"><stop offset="0" stop-color="#00a9ff"/><stop offset="0.077" stop-color="#00ffdb"/><stop offset="0.154" stop-color="#00ff68"/><stop offset="0.231" stop-color="#00ff01"/><stop offset="0.308" stop-color="#62ff00"/><stop offset="0.385" stop-color="#baff00"/><stop offset="0.462" stop-color="#fff700"/><stop offset="0.538" stop-color="#ffb100"/><stop offset="0.615" stop-color="#ff7800"/><stop offset="0.692" stop-color="#ff5300"/><stop offset="0.769" stop-color="#ff3c00"/><stop offset="0.846" stop-color="#ff2e00"/><stop offset="0.923" stop-color="#ff2c00"/><stop offset="1" stop-color="#ff3300"/></linearGradient><linearGradient id="gb37"><stop offset="0" stop-color="#009cff"/><stop offset="0.077" stop-color="#00ffe8"/><stop offset="0.154" stop-color="#00ff75"/><stop offset="0.231" stop-color="#00ff0d"/><stop offset="0.308" stop-color="#56ff00"/><stop offset="0.385" stop-color="#aeff00"/><stop offset="0.462" stop-color="#fbff00"/><stop offset="0.538" stop-color="#ffbd00"/><stop offset="0.615" stop-color="#ff8300"/><stop offset="0.692" stop-color="#ff5c00"/><stop offset="0.769" stop-color="#ff4300"/><stop offset="0.846" stop-color="#ff3500"/><stop offset="0.923" stop-color="#ff3200"/><stop offset="1" stop-color="#ff3900"/></linearGradient><linearGradient id="gb38"><stop offset="0" stop-color="#008eff"/><stop offset="0.077" stop-color="#00fff6"/><stop offset="0.154" stop-color="#00ff83"/><stop offset="0.231" stop-color="#00ff1a"/><stop offset="0.308" stop-color="#48ff00"/><stop offset="0.385" stop-color="#a1ff00"/><stop offset="0.462" stop-color="#eeff00"/><stop offset="0.538" stop-color="#ffca00"/><stop offset="0.615" stop-color="#ff8f00"/><stop offset="0.692" stop-color="#ff6500"/><stop offset="0.769" stop-color="#ff4c00"/><stop offset="0.846" stop-color="#ff3e00"/><stop offset="0.923" stop-color="#ff3a00"/><stop offset="1" stop-color="#ff4000"/></linearGradient><linearGradient id="gb39"><stop offset="0" stop-color="#007eff"/><stop offset="0.077" stop-color="#00f9ff"/><stop offset="0.154" stop-color="#00ff92"/><stop offset="0.231" stop-color="#00ff29"/><stop offset="0.308" stop-color="#3aff00"/><stop offset="0.385" stop-color="#93ff00"/><stop offset="0.462" stop-color="#e1ff00"/><stop offset="0.538" stop-color="#ffd800"/><stop offset="0.615" stop-color="#ff9d00"/><stop offset="0.692" stop-color="#ff6f00"/><stop offset="0.769" stop-color="#ff5600"/><stop offset="0.846" stop-color="#ff4700"/><stop offset="0.923" stop-color="#ff4200"/><stop offset="1" stop-color="#ff4800"/></linearGradient><linearGradient id="gb40"><stop offset="0" stop-color="#006eff"/><stop offset="0.077" stop-color="#00e9ff"/><stop offset="0.154" stop-color="#00ffa1"/><stop offset="0.231" stop-color="#00ff38"/><stop offset="0.308" stop-color="#2aff00"/><stop offset="0.385" stop-color="#84ff00"/><stop offset="0.462" stop-color="#d2ff00"/><stop offset="0.538" stop-color="#ffe800"/><stop offset="0.615" stop-color="#ffac00"/><stop offset="0.692" stop-color="#ff7d00"/><stop offset="0.769" stop-color="#ff6000"/><stop offset="0.846" stop-color="#ff5100"/><stop offset="0.923" stop-color="#ff4c00"/><stop offset="1" stop-color="#ff5100"/></linearGradient><linearGradient id="gb41"><stop offset="0" stop-color="#005dff"/><stop offset="0.077" stop-color="#00d8ff"/><stop offset="0.154" stop-color="#00ffb2"/><stop offset="0.231" stop-color="#00ff48"/><stop offset="0.308" stop-color="#18ff00"/><stop offset="0.385" stop-color="#73ff00"/><stop offset="0.462" stop-color="#c2ff00"/><stop offset="0.538" stop-color="#fff900"/><stop offset="0.615" stop-color="#ffbc00"/><stop offset="0.692" stop-color="#ff8d00"/><stop offset="0.769" stop-color="#ff6c00"/><stop offset="0.846" stop-color="#ff5c00"/><stop offset="0.923" stop-color="#ff5600"/><stop offset="1" stop-color="#ff5b00"/></linearGradient><linearGradient id="gb42"><stop offset="0" stop-color="#004aff"/><stop offset="0.077" stop-color="#00c6ff"/><stop offset="0.154" stop-color="#00ffc4"/><stop offset="0.231" stop-color="#00ff5a"/><stop offset="0.308" stop-color="#06ff00"/><stop offset="0.385" stop-color="#62ff00"/><stop offset="0.462" stop-color="#b1ff00"/><stop offset="0.538" stop-color="#f4ff00"/><stop offset="0.615" stop-color="#ffce00"/><stop offset="0.692" stop-color="#ff9e00"/><stop offset="0.769" stop-color="#ff7b00"/><stop offset="0.846" stop-color="#ff6800"/><stop offset="0.923" stop-color="#ff6200"/><stop offset="1" stop-color="#ff6700"/></linearGradient><linearGradient id="gb43"><stop offset="0" stop-color="#0037ff"/><stop offset="0.077" stop-color="#00b3ff"/><stop offset="0.154" stop-color="#00ffd7"/><stop offset="0.231" stop-color="#00ff6c"/><stop offset="0.308" stop-color="#00ff0c"/><stop offset="0.385" stop-color="#4fff00"/><stop offset="0.462" stop-color="#9fff00"/><stop offset="0.538" stop-color="#e3ff00"/><stop offset="0.615" stop-color="#ffe000"/><stop offset="0.692" stop-color="#ffb000"/><stop offset="0.769" stop-color="#ff8d00"/><stop offset="0.846" stop-color="#ff7700"/><stop offset="0.923" stop-color="#ff6f00"/><stop offset="1" stop-color="#ff7400"/></linearGradient><linearGradient id="gc0" x2="0" y2="1"><stop offset="0" stop-color="#25ff00"/><stop offset="0.077" stop-color="#77ff00"/><stop offset="0.154" stop-color="#beff00"/><stop offset="0.231" stop-color="#faff00"/><stop offset="0.308" stop-color="#ffcf00"/><stop offset="0.385" stop-color="#ffa500"/><stop offset="0.462" stop-color="#ff8800"/><stop offset="0.538" stop-color="#ff7600"/><stop offset="0.615" stop-color="#ff7100"/><stop offset="0.692" stop-color="#ff7900"/><stop offset="0.769" stop-color="#ff8c00"/><stop offset="0.846" stop-color="#ffac00"/><stop offset="0.923" stop-color="#ffd800"/><stop offset="1" stop-color="#efff00"/></linearGradient><linearGradient id="gc1" x2="0" y2="1"><stop offset="0" stop-color="#1fff00"/><stop offset="0.077" stop-color="#71ff00"/><stop offset="0.154" stop-color="#b8ff00"/><stop offset="0.231" stop-color="#f4ff00"/><stop offset="0.308" stop-color="#ffd500"/><stop offset="0.385" stop-color="#ffab00"/><stop offset="0.462" stop-color="#ff8d00"/><stop offset="0.538" stop-color="#ff7c00"/><stop offset="0.615" stop-color="#ff7600"/><stop offset="0.692" stop-color="#ff7e00"/><stop offset="0.769" stop-color="#ff9100"/><stop offset="0.846" stop-color="#ffb100"/><stop offset="0.923" stop-color="#ffdd00"/><stop offset="1" stop-color="#ebff00"/></linearGradient><linearGradient id="gc2" x2="0" y2="1"><stop offset="0" stop-color="#19ff00"/><stop offset="0.077" stop-color="#6bff00"/><stop offset="0.154" stop-color="#b3ff00"/><stop offset="0.231" stop-color="#efff00"/><stop offset="0.308" stop-color="#ffda00"/><stop offset="0.385" stop-color="#ffb000"/><stop offset="0.462" stop-color="#ff9200"/><stop offset="0.538" stop-color="#ff8100"/><stop offset="0.615" stop-color="#ff7b00"/><stop offset="0.692" stop-color="#ff8200"/><stop offset="0.769" stop-color="#ff9500"/><stop offset="0.846" stop-color="#ffb500"/><stop offset="0.923" stop-color="#ffe000"/><stop offset="1" stop-color="#e8ff00"/></linearGradient><linearGradient id="gc3" x2="0" y2="1"><stop offset="0" stop-color="#13ff00"/><stop offset="0.077" stop-color="#66ff00"/><stop offset="0.154" stop-color="#adff00"/><stop offset="0.231" stop-color="#eaff00"/><stop offset="0.308" stop-color="#ffe000"/><stop offset="0.385" stop-color="#ffb500"/><stop offset="0.462" stop-color="#ff9700"/><stop offset="0.538" stop-color="#ff8500"/><stop offset="0.615" stop-color="#ff8000"/><stop offset="0.692" stop-color="#ff8600"/><stop offset="0.769" stop-color="#ff9900"/><stop offset="0.846" stop-color="#ffb800"/><stop offset="0.923" stop-color="#ffe400"/><stop offset="1" stop-color="#e5ff00"/></linearGradient><linearGradient id="gc4" x2="0" y2="1"><stop offset="0" stop-color="#0eff00"/><stop offset="0.077" stop-color="#61ff00"/><stop offset="0.154" stop-color="#a8ff00"/><stop offset="0.231" stop-color="#e5ff00"/><stop offset="0.308" stop-color="#ffe500"/><stop offset="0.385" stop-color="#ffba00"/><stop offset="0.462" stop-color="#ff9c00"/><stop offset="0.538" stop-color="#ff8a00"/><stop offset="0.615" stop-color="#ff8400"/><stop offset="0.692" stop-color="#ff8a00"/><stop offset="0.769" stop-color="#ff9d00"/><stop offset="0.846" stop-color="#ffbc00"/><stop offset="0.923" stop-color="#ffe700"/><stop offset="1" stop-color="#e3ff00"/></linearGradient><linearGradient id="gc5" x2="0" y2="1"><stop offset="0" stop-color="#09ff00"/><stop offset="0.077" stop-color="#5cff00"/><stop offset="0.154" stop-color="#a4ff00"/><stop offset="0.231" stop-color="#e0ff00"/><stop offset="0.308" stop-color="#ffea00"/><stop offset="0.385" stop-color="#ffbf00"/><stop offset="0.462" stop-color="#ffa000"/><stop offset="0.538" stop-color="#ff8e00"/><stop offset="0.615" stop-color="#ff8800"/><stop offset="0.692" stop-color="#ff8e00"/><stop offset="0.769" stop-color="#ffa000"/><stop offset="0.846" stop-color="#ffbf00"/><stop offset="0.923" stop-color="#ffea00"/><stop offset="1" stop-color="#e0ff00"/></linearGradient><linearGradient id="gc6" x2="0" y2="1"><stop offset="0" stop-color="#04ff00"/><stop offset="0.077" stop-color="#57ff00"/><stop offset="0.154" stop-color="#9fff00"/><stop offset="0.231" stop-color="#dcff00"/><stop offset="0.308" stop-color="#ffee00"/><stop offset="0.385" stop-color="#ffc300"/><stop offset="0.462" stop-color="#ffa400"/><stop offset="0.538" stop-color="#ff9200"/><stop offset="0.615" stop-color="#ff8b00"/><stop offset="0.692" stop-color="#ff9100"/><stop offset="0.769" stop-color="#ffa300"/><stop offset="0.846" stop-color="#ffc200"/><stop offset="0.923" stop-color="#ffec00"/><stop offset="1" stop-color="#deff00"/></linearGradient><linearGradient id="gc7" x2="0" y2="1"><stop offset="0" stop-color="#00ff01"/><stop offset="0.077" stop-color="#53ff00"/><stop offset="0.154" stop-color="#9bff00"/><stop offset="0.231" stop-color="#d8ff00"/><stop offset="0.308" stop-color="#fff200"/><stop offset="0.385" stop-color="#ffc700"/><stop offset="0.462" stop-color="#ffa800"/><stop offset="0.538" stop-color="#ff9500"/><stop offset="0.615" stop-color="#ff8e00"/><stop offset="0.692" stop-color="#ff9400"/><stop offset="0.769" stop-color="#ffa600"/><stop offset="0.846" stop-color="#ffc400"/><stop offset="0.923" stop-color="#ffef00"/><stop offset="1" stop-color="#dcff00"/></linearGradient><linearGradient id="gc8" x2="0" y2="1"><stop offset="0" stop-color="#00ff05"/><stop offset="0.077" stop-color="#4eff00"/><stop offset="0.154" stop-color="#97ff00"/><stop offset="0.231" stop-color="#d4ff00"/><stop offset="0.308" stop-color="#fff600"/><stop offset="0.385" stop-color="#ffcb00"/><stop offset="0.462" stop-color="#ffab00"/><stop offset="0.538" stop-color="#ff9800"/><stop offset="0.615" stop-color="#ff9100"/><stop offset="0.692" stop-color="#ff9700"/><stop offset="0.769" stop-color="#ffa800"/><stop offset="0.846" stop-color="#ffc600"/><stop offset="0.923" stop-color="#fff100"/><stop offset="1" stop-color="#dbff00"/></linearGradient><linearGradient id="gc9" x2="0" y2="1"><stop offset="0" stop-color="#00ff09"/><stop offset="0.077" stop-color="#4bff00"/><stop offset="0.154" stop-color="#93ff00"/><stop offset="0.231" stop-color="#d1ff00"/><stop offset="0.308" stop-color="#fffa00"/><stop offset="0.385" stop-color="#ffce00"/><stop offset="0.462" stop-color="#ffae00"/><stop offset="0.538" stop-color="#ff9b00"/><stop offset="0.615" stop-color="#ff9400"/><stop offset="0.692" stop-color="#ff9900"/><stop offset="0.769" stop-color="#ffaa00"/><stop offset="0.846" stop-color="#ffc800"/><stop offset="0.923" stop-color="#fff200"/><stop offset="1" stop-color="#daff00"/></linearGradient><linearGradient id="gc10" x2="0" y2="1"><stop offset="0" stop-color="#00ff0c"/><stop offset="0.077" stop-color="#47ff00"/><stop offset="0.154" stop-color="#90ff00"/><stop offset="0.231" stop-color="#ceff00"/><stop offset="0.308" stop-color="#fffd00"/><stop offset="0.385" stop-color="#ffd100"/><stop offset="0.462" stop-color="#ffb100"/><stop offset="0.538" stop-color="#ff9d00"/><stop offset="0.615" stop-color="#ff9600"/><stop offset="0.692" stop-color="#ff9b00"/><stop offset="0.769" stop-color="#ffac00"/><stop offset="0.846" stop-color="#ffca00"/><stop offset="0.923" stop-color="#fff400"/><stop offset="1" stop-color="#d9ff00"/></linearGradient><linearGradient id="gc11" x2="0" y2="1"><stop offset="0" stop-color="#00ff0f"/><stop offset="0.077" stop-color="#44ff00"/><stop offset="0.154" stop-color="#8dff00"/><stop offset="0.231" stop-color="#cbff00"/><stop offset="0.308" stop-color="#feff00"/><stop offset="0.385" stop-color="#ffd400"/><stop offset="0.462" stop-color="#ffb400"/><stop offset="0.538" stop-color="#ffa000"/><stop offset="0.615" stop-color="#ff9800"/><stop offset="0.692" stop-color="#ff9d00"/><stop offset="0.769" stop-color="#ffae00"/><stop offset="0.846" stop-color="#ffcb00"/><stop offset="0.923" stop-color="#fff500"/><stop offset="1" stop-color="#d8ff00"/></linearGradient><linearGradient id="gc12" x2="0" y2="1"><stop offset="0" stop-color="#00ff12"/><stop offset="0.077" stop-color="#41ff00"/><stop offset="0.154" stop-color="#8aff00"/><stop offset="0.231" stop-color="#c8ff00"/><stop offset="0.308" stop-color="#fcff00"/><stop offset="0.385" stop-color="#ffd600"/><stop offset="0.462" stop-color="#ffb600"/><stop offset="0.538" stop-color="#ffa200"/><stop offset="0.615" stop-color="#ff9a00"/><stop offset="0.692" stop-color="#ff9e00"/><stop offset="0.769" stop-color="#ffaf00"/><stop offset="0.846" stop-color="#ffcc00"/><stop offset="0.923" stop-color="#fff500"/><stop offset="1" stop-color="#d8ff00"/></linearGradient><linearGradient id="gc13" x2="0" y2="1"><stop offset="0" stop-color="#00ff15"/><stop offset="0.077" stop-color="#3eff00"/><stop offset="0.154" stop-color="#87ff00"/><stop offset="0.231" stop-color="#c6ff00"/><stop offset="0.308" stop-color="#f9ff00"/><stop offset="0.385" stop-color="#ffd800"/><stop offset="0.462" stop-color="#ffb800"/><stop offset="0.538" stop-color="#ffa300"/><stop offset="0.615" stop-color="#ff9b00"/><stop offset="0.692" stop-color="#ff9f00"/><stop offset="0.769" stop-color="#ffb000"/><stop offset="0.846" stop-color="#ffcd00"/><stop offset="0.923" stop-color="#fff600"/><stop offset="1" stop-color="#d7ff00"/></linearGradient><linearGradient id="gc14" x2="0" y2="1"><stop offset="0" stop-color="#00ff18"/><stop offset="0.077" stop-color="#3bff00"/><stop offset="0.154" stop-color="#85ff00"/><stop offset="0.231" stop-color="#c4ff00"/><stop offset="0.308" stop-color="#f8ff00"/><stop offset="0.385" stop-color="#ffda00"/><stop offset="0.462" stop-color="#ffb900"/><stop offset="0.538" stop-color="#ffa500"/><stop offset="0.615" stop-color="#ff9c00"/><stop offset="0.692" stop-color="#ffa000"/><stop offset="0.769" stop-color="#ffb000"/><stop offset="0.846" stop-color="#ffcd00"/><stop offset="0.923" stop-color="#fff600"/><stop offset="1" stop-color="#d8ff00"/></linearGradient><linearGradient id="gc15" x2="0" y2="1"><stop offset="0" stop-color="#00ff1a"/><stop offset="0.077" stop-color="#39ff00"/><stop offset="0.154" stop-color="#83ff00"/><stop offset="0.231" stop-color="#c2ff00"/><stop offset="0.308" stop-color="#f6ff00"/><stop offset="0.385" stop-color="#ffdc00"/><stop offset="0.462" stop-color="#ffba00"/><stop offset="0.538" stop-color="#ffa600"/><stop offset="0.615" stop-color="#ff9d00"/><stop offset="0.692" stop-color="#ffa100"/><stop offset="0.769" stop-color="#ffb100"/><stop offset="0.846" stop-color="#ffcd00"/><stop offset="0.923" stop-color="#fff600"/><stop offset="1" stop-color="#d8ff00"/></linearGradient><linearGradient id="gc16" x2="0" y2="1"><stop offset="0" stop-color="#00ff1c"/><stop offset="0.077" stop-color="#37ff00"/><stop offset="0.154" stop-color="#81ff00"/><stop offset="0.231" stop-color="#c1ff00"/><stop offset="0.308" stop-color="#f5ff00"/><stop offset="0.385" stop-color="#ffdd00"/><stop offset="0.462" stop-color="#ffbb00"/><stop offset="0.538" stop-color="#ffa600"/><stop offset="0.615" stop-color="#ff9e00"/><stop offset="0.692" stop-color="#ffa100"/><stop offset="0.769" stop-color="#ffb100"/><stop offset="0.846" stop-color="#ffcd00"/><stop offset="0.923" stop-color="#fff500"/><stop offset="1" stop-color="#d9ff00"/></linearGradient><linearGradient id="gc17" x2="0" y2="1"><stop offset="0" stop-color="#00ff1e"/><stop offset="0.077" stop-color="#35ff00"/><stop offset="0.154" stop-color="#80ff00"/><stop offset="0.231" stop-color="#bfff00"/><stop offset="0.308" stop-color="#f4ff00"/><stop offset="0.385" stop-color="#ffde00"/><stop offset="0.462" stop-color="#ffbc00"/><stop offset="0.538" stop-color="#ffa700"/><stop offset="0.615" stop-color="#ff9e00"/><stop offset="0.692" stop-color="#ffa100"/><stop offset="0.769" stop-color="#ffb000"/><stop offset="0.846" stop-color="#ffcc00"/><stop offset="0.923" stop-color="#fff400"/><stop offset="1" stop-color="#daff00"/></linearGradient><linearGradient id="gc18" x2="0" y2="1"><stop offset="0" stop-color="#00ff1f"/><stop offset="0.077" stop-color="#34ff00"/><stop offset="0.154" stop-color="#7fff00"/><stop offset="0.231" stop-color="#beff00"/><stop offset="0.308" stop-color="#f3ff00"/><stop offset="0.385" stop-color="#ffde00"/><stop offset="0.462" stop-color="#ffbc00"/><stop offset="0.538" stop-color="#ffa700"/><stop offset="0.615" stop-color="#ff9e00"/><stop offset="0.692" stop-color="#ffa100"/><stop offset="0.769" stop-color="#ffb000"/><stop offset="0.846" stop-color="#ffcb00"/><stop offset="0.923" stop-color="#fff300"/><stop offset="1" stop-color="#dbff00"/></linearGradient><linearGradient id="gc19" x2="0" y2="1"><stop offset="0" stop-color="#00ff20"/><stop offset="0.077" stop-color="#33ff00"/><stop offset="0.154" stop-color="#7eff00"/><stop offset="0.231" stop-color="#beff00"/><stop offset="0.308" stop-color="#f3ff00"/><stop offset="0.385" stop-color="#ffde00"/><stop offset="0.462" stop-color="#ffbc00"/><stop offset="0.538" stop-color="#ffa700"/><stop offset="0.615" stop-color="#ff9d00"/><stop offset="0.692" stop-color="#ffa000"/><stop offset="0.769" stop-color="#ffaf00"/><stop offset="0.846" stop-color="#ffca00"/><stop offset="0.923" stop-color="#fff200"/><stop offset="1" stop-color="#dcff00"/></linearGradient><linearGradient id="gc20" x2="0" y2="1"><stop offset="0" stop-color="#00ff21"/><stop offset="0.077" stop-color="#32ff00"/><stop offset="0.154" stop-color="#7dff00"/><stop offset="0.231" stop-color="#bdff00"/><stop offset="0.308" stop-color="#f2ff00"/><stop offset="0.385" stop-color="#ffde00"/><stop offset="0.462" stop-color="#ffbc00"/><stop offset="0.538" stop-color="#ffa600"/><stop offset="0.615" stop-color="#ff9c00"/><stop offset="0.692" stop-color="#ff9f00"/><stop offset="0.769" stop-color="#ffae00"/><stop offset="0.846" stop-color="#ffc900"/><stop offset="0.923" stop-color="#fff000"/><stop offset="1" stop-color="#deff00"/></linearGradient><linearGradient id="gc21" x2="0" y2="1"><stop offset="0" stop-color="#00ff22"/><stop offset="0.077" stop-color="#32ff00"/><stop offset="0.154" stop-color="#7dff00"/><stop offset="0.231" stop-color="#bdff00"/><stop offset="0.308" stop-color="#f2ff00"/><stop offset="0.385" stop-color="#ffde00"/><stop offset="0.462" stop-color="#ffbc00"/><stop offset="0.538" stop-color="#ffa500"/><stop offset="0.615" stop-color="#ff9b00"/><stop offset="0.692" stop-color="#ff9e00"/><stop offset="0.769" stop-color="#ffac00"/><stop offset="0.846" stop-color="#ffc700"/><stop offset="0.923" stop-color="#ffee00"/><stop offset="1" stop-color="#e0ff00"/></linearGradient><linearGradient id="gc22" x2="0" y2="1"><stop offset="0" stop-color="#00ff22"/><stop offset="0.077" stop-color="#31ff00"/><stop offset="0.154" stop-color="#7dff00"/><stop offset="0.231" stop-color="#bdff00"/><stop offset="0.308" stop-color="#f3ff00"/><stop offset="0.385" stop-color="#ffdd00"/><stop offset="0.462" stop-color="#ffbb00"/><stop offset="0.538" stop-color="#ffa400"/><stop offset="0.615" stop-color="#ff9a00"/><stop offset="0.692" stop-color="#ff9c00"/><stop offset="0.769" stop-color="#ffaa00"/><stop offset="0.846" stop-color="#ffc500"/><stop offset="0.923" stop-color="#ffec00"/><stop offset="1" stop-color="#e2ff00"/></linearGradient><linearGradient id="gc23" x2="0" y2="1"><stop offset="0" stop-color="#00ff23"/><stop offset="0.077" stop-color="#31ff00"/><stop offset="0.154" stop-color="#7dff00"/><stop offset="0.231" stop-color="#beff00"/><stop offset="0.308" stop-color="#f3ff00"/><stop offset="0.385" stop-color="#ffdd00"/><stop offset="0.462" stop-color="#ffb900"/><stop offset="0.538" stop-color="#ffa300"/><stop offset="0.615" stop-color="#ff9800"/><stop offset="0.692" stop-color="#ff9a00"/><stop offset="0.769" stop-color="#ffa800"/><stop offset="0.846" stop-color="#ffc200"/><stop offset="0.923" stop-color="#ffe900"/><stop offset="1" stop-color="#e5ff00"/></linearGradient><linearGradient id="gc24" x2="0" y2="1"><stop offset="0" stop-color="#00ff23"/><stop offset="0.077" stop-color="#31ff00"/><stop offset="0.154" stop-color="#7dff00"/><stop offset="0.231" stop-color="#beff00"/><stop offset="0.308" stop-color="#f4ff00"/><stop offset="0.385" stop-color="#ffdb00"/><stop offset="0.462" stop-color="#ffb800"/><stop offset="0.538" stop-color="#ffa100"/><stop offset="0.615" stop-color="#ff9600"/><stop offset="0.692" stop-color="#ff9800"/><stop offset="0.769" stop-color="#ffa600"/><stop offset="0.846" stop-color="#ffc000"/><stop offset="0.923" stop-color="#ffe600"/><stop offset="1" stop-color="#e8ff00"/></linearGradient><linearGradient id="gc25" x2="0" y2="1"><stop offset="0" stop-color="#00ff22"/><stop offset="0.077" stop-color="#32ff00"/><stop offset="0.154" stop-color="#7eff00"/><stop offset="0.231" stop-color="#bfff00"/><stop offset="0.308" stop-color="#f6ff00"/><stop offset="0.385" stop-color="#ffda00"/><stop offset="0.462" stop-color="#ffb600"/><stop offset="0.538" stop-color="#ff9f00"/><stop offset="0.615" stop-color="#ff9400"/><stop offset="0.692" stop-color="#ff9500"/><stop offset="0.769" stop-color="#ffa300"/><stop offset="0.846" stop-color="#ffbd00"/><stop offset="0.923" stop-color="#ffe300"/><stop offset="1" stop-color="#ebff00"/></linearGradient><linearGradient id="gc26" x2="0" y2="1"><stop offset="0" stop-color="#00ff22"/><stop offset="0.077" stop-color="#33ff00"/><stop offset="0.154" stop-color="#7fff00"/><stop offset="0.231" stop-color="#c1ff00"/><stop offset="0.308" stop-color="#f7ff00"/><stop offset="0.385" stop-color="#ffd800"/><stop offset="0.462" stop-color="#ffb400"/><stop offset="0.538" stop-color="#ff9d00"/><stop offset="0.615" stop-color="#ff9100"/><stop offset="0.692" stop-color="#ff9200"/><stop offset="0.769" stop-color="#ffa000"/><stop offset="0.846" stop-color="#ffb900"/><stop offset="0.923" stop-color="#ffdf00"/><stop offset="1" stop-color="#eeff00"/></linearGradient><linearGradient id="gc27" x2="0" y2="1"><stop offset="0" stop-color="#00ff21"/><stop offset="0.077" stop-color="#34ff00"/><stop offset="0.154" stop-color="#81ff00"/><stop offset="0.231" stop-color="#c2ff00"/><stop offset="0.308" stop-color="#f9ff00"/><stop offset="0.385" stop-color="#ffd600"/><stop offset="0.462" stop-color="#ffb200"/><stop offset="0.538" stop-color="#ff9a00"/><stop offset="0.615" stop-color="#ff8e00"/><stop offset="0.692" stop-color="#ff8f00"/><stop offset="0.769" stop-color="#ff9c00"/><stop offset="0.846" stop-color="#ffb600"/><stop offset="0.923" stop-color="#ffdb00"/><stop offset="1" stop-color="#f2ff00"/></linearGradient><linearGradient id="gc28" x2="0" y2="1"><stop offset="0" stop-color="#00ff20"/><stop offset="0.077" stop-color="#35ff00"/><stop offset="0.154" stop-color="#82ff00"/><stop offset="0.231" stop-color="#c4ff00"/><stop offset="0.308" stop-color="#fbff00"/><stop offset="0.385" stop-color="#ffd300"/><stop offset="0.462" stop-color="#ffaf00"/><stop offset="0.538" stop-color="#ff9700"/><stop offset="0.615" stop-color="#ff8b00"/><stop offset="0.692" stop-color="#ff8c00"/><stop offset="0.769" stop-color="#ff9900"/><stop offset="0.846" stop-color="#ffb200"/><stop offset="0.923" stop-color="#ffd700"/><stop offset="1" stop-color="#f6ff00"/></linearGradient><linearGradient id="gc29" x2="0" y2="1"><stop offset="0" stop-color="#00ff1f"/><stop offset="0.077" stop-color="#37ff00"/><stop offset="0.154" stop-color="#84ff00"/><stop offset="0.231" stop-color="#c6ff00"/><stop offset="0.308" stop-color="#fdff00"/><stop offset="0.385" stop-color="#ffd000"/><stop offset="0.462" stop-color="#ffac00"/><stop offset="0.538" stop-color="#ff9400"/><stop offset="0.615" stop-color="#ff8800"/><stop offset="0.692" stop-color="#ff8800"/><stop offset="0.769" stop-color="#ff9500"/><stop offset="0.846" stop-color="#ffae00"/><stop offset="0.923" stop-color="#ffd300"/><stop offset="1" stop-color="#faff00"/></linearGradient><linearGradient id="gc30" x2="0" y2="1"><stop offset="0" stop-color="#00ff1d"/><stop offset="0.077" stop-color="#39ff00"/><stop offset="0.154" stop-color="#86ff00"/><stop offset="0.231" stop-color="#c8ff00"/><stop offset="0.308" stop-color="#fffe00"/><stop offset="0.385" stop-color="#ffcd00"/><stop offset="0.462" stop-color="#ffa900"/><stop offset="0.538" stop-color="#ff9000"/><stop offset="0.615" stop-color="#ff8400"/><stop offset="0.692" stop-color="#ff8400"/><stop offset="0.769" stop-color="#ff9000"/><stop offset="0.846" stop-color="#ffa900"/><stop offset="0.923" stop-color="#ffce00"/><stop offset="1" stop-color="#ffff00"/></linearGradient><linearGradient id="gc31" x2="0" y2="1"><stop offset="0" stop-color="#00ff1b"/><stop offset="0.077" stop-color="#3bff00"/><stop offset="0.154" stop-color="#88ff00"/><stop offset="0.231" stop-color="#cbff00"/><stop offset="0.308" stop-color="#fffb00"/><stop offset="0.385" stop-color="#ffca00"/><stop offset="0.462" stop-color="#ffa500"/><stop offset="0.538" stop-color="#ff8c00"/><stop offset="0.615" stop-color="#ff8000"/><stop offset="0.692" stop-color="#ff8000"/><stop offset="0.769" stop-color="#ff8c00"/><stop offset="0.846" stop-color="#ffa400"/><stop offset="0.923" stop-color="#ffc900"/><stop offset="1" stop-color="#fffa00"/></linearGradient><linearGradient id="gc32" x2="0" y2="1"><stop offset="0" stop-color="#00ff19"/><stop offset="0.077" stop-color="#3dff00"/><stop offset="0.154" stop-color="#8bff00"/><stop offset="0.231" stop-color="#ceff00"/><stop offset="0.308" stop-color="#fff800"/><stop offset="0.385" stop-color="#ffc600"/><stop offset="0.462" stop-color="#ffa100"/><stop offset="0.538" stop-color="#ff8800"/><stop offset="0.615" stop-color="#ff7b00"/><stop offset="0.692" stop-color="#ff7b00"/><stop offset="0.769" stop-color="#ff8700"/><stop offset="0.846" stop-color="#ff9f00"/><stop offset="0.923" stop-color="#ffc300"/><stop offset="1" stop-color="#fff400"/></linearGradient><linearGradient id="gc33" x2="0" y2="1"><stop offset="0" stop-color="#00ff17"/><stop offset="0.077" stop-color="#40ff00"/><stop offset="0.154" stop-color="#8eff00"/><stop offset="0.231" stop-color="#d1ff00"/><stop offset="0.308" stop-color="#fff400"/><stop offset="0.385" stop-color="#ffc200"/><stop offset="0.462" stop-color="#ff9d00"/><stop offset="0.538" stop-color="#ff8400"/><stop offset="0.615" stop-color="#ff7700"/><stop offset="0.692" stop-color="#ff7600"/><stop offset="0.769" stop-color="#ff8200"/><stop offset="0.846" stop-color="#ff9a00"/><stop offset="0.923" stop-color="#ffbe00"/><stop offset="1" stop-color="#ffee00"/></linearGradient><linearGradient id="gc34" x2="0" y2="1"><stop offset="0" stop-color="#00ff14"/><stop offset="0.077" stop-color="#43ff00"/><stop offset="0.154" stop-color="#91ff00"/><stop offset="0.231" stop-color="#d4ff00"/><stop offset="0.308" stop-color="#fff000"/><stop offset="0.385" stop-color="#ffbe00"/><stop offset="0.462" stop-color="#ff9800"/><stop offset="0.538" stop-color="#ff7f00"/><stop offset="0.615" stop-color="#ff7200"/><stop offset="0.692" stop-color="#ff7100"/><stop offset="0.769" stop-color="#ff7c00"/><stop offset="0.846" stop-color="#ff9400"/><stop offset="0.923" stop-color="#ffb800"/><stop offset="1" stop-color="#ffe800"/></linearGradient><linearGradient id="gc35" x2="0" y2="1"><stop offset="0" stop-color="#00ff12"/><stop offset="0.077" stop-color="#46ff00"/><stop offset="0.154" stop-color="#95ff00"/><stop offset="0.231" stop-color="#d8ff00"/><stop offset="0.308" stop-color="#ffec00"/><stop offset="0.385" stop-color="#ffb900"/><stop offset="0.462" stop-color="#ff9300"/><stop offset="0.538" stop-color="#ff7a00"/><stop offset="0.615" stop-color="#ff6d00"/><stop offset="0.692" stop-color="#ff6c00"/><stop offset="0.769" stop-color="#ff7600"/><stop offset="0.846" stop-color="#ff8e00"/><stop offset="0.923" stop-color="#ffb100"/><stop offset="1" stop-color="#ffe100"/></linearGradient><linearGradient id="gc36" x2="0" y2="1"><stop offset="0" stop-color="#00ff0f"/><stop offset="0.077" stop-color="#4aff00"/><stop offset="0.154" stop-color="#99ff00"/><stop offset="0.231" stop-color="#dcff00"/><stop offset="0.308" stop-color="#ffe700"/><stop offset="0.385" stop-color="#ffb400"/><stop offset="0.462" stop-color="#ff8e00"/><stop offset="0.538" stop-color="#ff7400"/><stop offset="0.615" stop-color="#ff6800"/><stop offset="0.692" stop-color="#ff6700"/><stop offset="0.769" stop-color="#ff7000"/><stop offset="0.846" stop-color="#ff8700"/><stop offset="0.923" stop-color="#ffab00"/><stop offset="1" stop-color="#ffdb00"/></linearGradient><linearGradient id="gc37" x2="0" y2="1"><stop offset="0" stop-color="#00ff0b"/><stop offset="0.077" stop-color="#4eff00"/><stop offset="0.154" stop-color="#9dff00"/><stop offset="0.231" stop-color="#e0ff00"/><stop offset="0.308" stop-color="#ffe200"/><stop offset="0.385" stop-color="#ffaf00"/><stop offset="0.462" stop-color="#ff8900"/><stop offset="0.538" stop-color="#ff6f00"/><stop offset="0.615" stop-color="#ff6400"/><stop offset="0.692" stop-color="#ff6200"/><stop offset="0.769" stop-color="#ff6b00"/><stop offset="0.846" stop-color="#ff8100"/><stop offset="0.923" stop-color="#ffa400"/><stop offset="1" stop-color="#ffd300"/></linearGradient><linearGradient id="gc38" x2="0" y2="1"><stop offset="0" stop-color="#00ff08"/><stop offset="0.077" stop-color="#52ff00"/><stop offset="0.154" stop-color="#a1ff00"/><stop offset="0.231" stop-color="#e5ff00"/><stop offset="0.308" stop-color="#ffdd00"/><stop offset="0.385" stop-color="#ffaa00"/><stop offset="0.462" stop-color="#ff8300"/><stop offset="0.538" stop-color="#ff6a00"/><stop offset="0.615" stop-color="#ff5f00"/><stop offset="0.692" stop-color="#ff5d00"/><stop offset="0.769" stop-color="#ff6600"/><stop offset="0.846" stop-color="#ff7a00"/><stop offset="0.923" stop-color="#ff9d00"/><stop offset="1" stop-color="#ffcc00"/></linearGradient><linearGradient id="gc39" x2="0" y2="1"><stop offset="0" stop-color="#00ff04"/><stop offset="0.077" stop-color="#56ff00"/><stop offset="0.154" stop-color="#a6ff00"/><stop offset="0.231" stop-color="#eaff00"/><stop offset="0.308" stop-color="#ffd700"/><stop offset="0.385" stop-color="#ffa400"/><stop offset="0.462" stop-color="#ff7d00"/><stop offset="0.538" stop-color="#ff6500"/><stop offset="0.615" stop-color="#ff5a00"/><stop offset="0.692" stop-color="#ff5800"/><stop offset="0.769" stop-color="#ff6000"/><stop offset="0.846" stop-color="#ff7200"/><stop offset="0.923" stop-color="#ff9500"/><stop offset="1" stop-color="#ffc400"/></linearGradient><linearGradient id="gc40" x2="0" y2="1"><stop offset="0" stop-color="#00ff00"/><stop offset="0.077" stop-color="#5bff00"/><stop offset="0.154" stop-color="#aaff00"/><stop offset="0.231" stop-color="#efff00"/><stop offset="0.308" stop-color="#ffd100"/><stop offset="0.385" stop-color="#ff9e00"/><stop offset="0.462" stop-color="#ff7700"/><stop offset="0.538" stop-color="#ff6000"/><stop offset="0.615" stop-color="#ff5400"/><stop offset="0.692" stop-color="#ff5200"/><stop offset="0.769" stop-color="#ff5a00"/><stop offset="0.846" stop-color="#ff6c00"/><stop offset="0.923" stop-color="#ff8d00"/><stop offset="1" stop-color="#ffbc00"/></linearGradient><linearGradient id="gc41" x2="0" y2="1"><stop offset="0" stop-color="#05ff00"/><stop offset="0.077" stop-color="#60ff00"/><stop offset="0.154" stop-color="#b0ff00"/><stop offset="0.231" stop-color="#f4ff00"/><stop offset="0.308" stop-color="#ffcb00"/><stop offset="0.385" stop-color="#ff9700"/><stop offset="0.462" stop-color="#ff7000"/><stop offset="0.538" stop-color="#ff5a00"/><stop offset="0.615" stop-color="#ff4f00"/><stop offset="0.692" stop-color="#ff4d00"/><stop offset="0.769" stop-color="#ff5400"/><stop offset="0.846" stop-color="#ff6500"/><stop offset="0.923" stop-color="#ff8500"/><stop offset="1" stop-color="#ffb400"/></linearGradient><linearGradient id="gc42" x2="0" y2="1"><stop offset="0" stop-color="#0aff00"/><stop offset="0.077" stop-color="#65ff00"/><stop offset="0.154" stop-color="#b5ff00"/><stop offset="0.231" stop-color="#faff00"/><stop offset="0.308" stop-color="#ffc400"/><stop offset="0.385" stop-color="#ff9100"/><stop offset="0.462" stop-color="#ff6a00"/><stop offset="0.538" stop-color="#ff5500"/><stop offset="0.615" stop-color="#ff4900"/><stop offset="0.692" stop-color="#ff4700"/><stop offset="0.769" stop-color="#ff4e00"/><stop offset="0.846" stop-color="#ff5f00"/><stop offset="0.923" stop-color="#ff7d00"/><stop offset="1" stop-color="#ffab00"/></linearGradient><linearGradient id="gc43" x2="0" y2="1"><stop offset="0" stop-color="#0fff00"/><stop offset="0.077" stop-color="#6bff00"/><stop offset="0.154" stop-color="#bbff00"/><stop offset="0.231" stop-color="#fffe00"/><stop offset="0.308" stop-color="#ffbe00"/><stop offset="0.385" stop-color="#ff8a00"/><stop offset="0.462" stop-color="#ff6400"/><stop offset="0.538" stop-color="#ff4f00"/><stop offset="0.615" stop-color="#ff4300"/><stop offset="0.692" stop-color="#ff4000"/><stop offset="0.769" stop-color="#ff4800"/><stop offset="0.846" stop-color="#ff5800"/><stop offset="0.923" stop-color="#ff7400"/><stop offset="1" stop-color="#ffa200"/></linearGradient></defs>
<line x1="66.0" y1="166.8" x2="209.5" y2="123.8" stroke="#111" stroke-width="1.00"/>
<line x1="209.5" y1="123.8" x2="296.5" y2="211.3" stroke="#111" stroke-width="1.00"/>
<line x1="64.0" y1="145.6" x2="210.2" y2="103.2" stroke="#111" stroke-width="1.00"/>
<line x1="210.2" y1="103.2" x2="298.7" y2="189.6" stroke="#111" stroke-width="1.00"/>
<line x1="62.0" y1="124.4" x2="211.0" y2="82.6" stroke="#111" stroke-width="1.00"/>
<line x1="211.0" y1="82.6" x2="300.9" y2="167.9" stroke="#111" stroke-width="1.00"/>
<line x1="60.0" y1="103.2" x2="211.7" y2="61.9" stroke="#111" stroke-width="1.00"/>
<line x1="211.7" y1="61.9" x2="303.0" y2="146.2" stroke="#111" stroke-width="1.00"/>
<line x1="58.0" y1="81.9" x2="212.5" y2="41.3" stroke="#111" stroke-width="1.00"/>
<line x1="212.5" y1="41.3" x2="305.2" y2="124.5" stroke="#111" stroke-width="1.00"/>
<line x1="101.9" y1="156.0" x2="95.3" y2="50.7" stroke="#111" stroke-width="1.00"/>
<line x1="274.8" y1="189.5" x2="283.8" y2="82.3" stroke="#111" stroke-width="1.00"/>
<line x1="137.7" y1="145.3" x2="134.6" y2="40.7" stroke="#111" stroke-width="1.00"/>
<line x1="253.0" y1="167.6" x2="260.3" y2="61.8" stroke="#111" stroke-width="1.00"/>
<line x1="173.6" y1="134.6" x2="173.9" y2="30.7" stroke="#111" stroke-width="1.00"/>
<line x1="231.2" y1="145.7" x2="236.8" y2="41.2" stroke="#111" stroke-width="1.00"/>
<line x1="56.0" y1="60.7" x2="213.2" y2="20.7" stroke="#111" stroke-width="1.10"/>
<line x1="213.2" y1="20.7" x2="307.4" y2="102.8" stroke="#111" stroke-width="1.10"/>
<line x1="69.0" y1="198.1" x2="56.0" y2="60.7" stroke="#111" stroke-width="1.10"/>
<line x1="208.4" y1="154.3" x2="213.2" y2="20.7" stroke="#111" stroke-width="1.10"/>
<line x1="293.3" y1="243.4" x2="307.4" y2="102.8" stroke="#111" stroke-width="1.10"/>
<polygon points="139.4 303.2 293.3 243.4 208.4 154.3 69.0 198.1" fill="#666" stroke="#111" stroke-width="1.4" stroke-linejoin="round"/>
<path d="M71.9 197.2 84.6 210.6 96.3 223.6 106.8 236 116.7 248.7 126 261.5 134.3 273.9 142 286.6 149.2 299.4" fill="none" stroke="#00ff98" stroke-width="2"/>
<path d="M83.6 193.5 96.8 206.7 108.8 219.4 119.6 231.6 129.7 244.1 139.1 256.7 147.4 269 155.1 281.6 162.1 294.4" fill="none" stroke="#00ff1c" stroke-width="2"/>
<path d="M96.8 189.4 110.6 202.2 123.1 214.5 134.3 226.5 144.7 238.8 153.8 250.6 162.1 262.8 169.7 275.2 176.9 288.6" fill="none" stroke="#68ff00" stroke-width="2"/>
<path d="M112.6 184.4 128 197.3 141.2 209.3 152.8 220.9 163 232.3 172.2 243.9 180.5 255.9 187.8 268.3 194.5 281.8" fill="none" stroke="#eeff00" stroke-width="2"/>
<path d="M133.1 178 152 191 166.8 202.2 179 212.6 189.2 223 197.9 233.8 205.7 245.8 212 258.3 217.7 272.8" fill="none" stroke="#ff7c00" stroke-width="2"/>
<circle cx="139.4" cy="303.2" r="1.5" fill="#000"/>
<circle cx="139.4" cy="303.2" r="1.5" fill="#000"/>
<circle cx="177.9" cy="288.3" r="1.5" fill="#000"/>
<circle cx="121.8" cy="276.9" r="1.5" fill="#000"/>
<circle cx="216.4" cy="273.3" r="1.5" fill="#000"/>
<circle cx="104.2" cy="250.7" r="1.5" fill="#000"/>
<circle cx="254.8" cy="258.4" r="1.5" fill="#000"/>
<circle cx="86.6" cy="224.4" r="1.5" fill="#000"/>
<circle cx="293.3" cy="243.4" r="1.5" fill="#000"/>
<circle cx="69.0" cy="198.1" r="1.5" fill="#000"/>
<circle cx="66.0" cy="166.8" r="1.5" fill="#000"/>
<circle cx="64.0" cy="145.6" r="1.5" fill="#000"/>
<circle cx="62.0" cy="124.4" r="1.5" fill="#000"/>
<circle cx="60.0" cy="103.2" r="1.5" fill="#000"/>
<circle cx="58.0" cy="81.9" r="1.5" fill="#000"/>
<circle cx="56.0" cy="60.7" r="1.5" fill="#000"/>
<g stroke="#1c1c1c" stroke-width="0.8" stroke-linejoin="round">
<polygon points="209.5 42.6 217.2 41.8 212.6 36.9 204.9 37.6" fill="#fb552f"/>
<polygon points="201.7 43.8 209.5 42.6 204.9 37.6 197.2 38.7" fill="#ff5338"/>
<polygon points="214.1 47.5 221.9 46.6 217.2 41.8 209.5 42.6" fill="#fb5c2f"/>
<polygon points="193.9 45.3 201.7 43.8 197.2 38.7 189.4 40.3" fill="#ff543f"/>
<polygon points="206.3 48.7 214.1 47.5 209.5 42.6 201.7 43.8" fill="#ff5a38"/>
<polygon points="218.7 52.3 226.5 51.4 221.9 46.6 214.1 47.5" fill="#fc6230"/>
<polygon points="186.1 47.3 193.9 45.3 189.4 40.3 181.6 42.2" fill="#ff5947"/>
<polygon points="198.5 50.4 206.3 48.7 201.7 43.8 193.9 45.3" fill="#ff5b40"/>
<polygon points="210.9 53.6 218.7 52.3 214.1 47.5 206.3 48.7" fill="#ff6038"/>
<polygon points="178.3 49.7 186.1 47.3 181.6 42.2 173.9 44.5" fill="#ff604f"/>
<polygon points="223.3 57 231.1 56.1 226.5 51.4 218.7 52.3" fill="#fc6830"/>
<polygon points="190.6 52.4 198.5 50.4 193.9 45.3 186.1 47.3" fill="#ff5f47"/>
<polygon points="170.5 52.6 178.3 49.7 173.9 44.5 166.1 47.3" fill="#ff6b56"/>
<polygon points="203 55.3 210.9 53.6 206.3 48.7 198.5 50.4" fill="#ff6140"/>
<polygon points="215.4 58.4 223.3 57 218.7 52.3 210.9 53.6" fill="#ff6639"/>
<polygon points="182.8 54.9 190.6 52.4 186.1 47.3 178.3 49.7" fill="#ff674f"/>
<polygon points="227.9 61.7 235.7 60.7 231.1 56.1 223.3 57" fill="#fc6d31"/>
<polygon points="162.8 55.8 170.5 52.6 166.1 47.3 158.3 50.5" fill="#ff775c"/>
<polygon points="195.1 57.4 203 55.3 198.5 50.4 190.6 52.4" fill="#ff6548"/>
<polygon points="175 57.7 182.8 54.9 178.3 49.7 170.5 52.6" fill="#ff7156"/>
<polygon points="155 59.4 162.8 55.8 158.3 50.5 150.6 54.1" fill="#ff8663"/>
<polygon points="207.5 60.1 215.4 58.4 210.9 53.6 203 55.3" fill="#ff6640"/>
<polygon points="220 63.1 227.9 61.7 223.3 57 215.4 58.4" fill="#ff6b39"/>
<polygon points="147.2 63.5 155 59.4 150.6 54.1 142.9 58" fill="#ff9769"/>
<polygon points="187.3 59.9 195.1 57.4 190.6 52.4 182.8 54.9" fill="#ff6d4f"/>
<polygon points="167.2 61 175 57.7 170.5 52.6 162.8 55.8" fill="#ff7e5d"/>
<polygon points="232.5 66.3 240.3 65.2 235.7 60.7 227.9 61.7" fill="#fc7131"/>
<polygon points="66.4 136.1 73.3 127.3 69.4 121.2 62.5 129.9" fill="#78ffc9"/>
<polygon points="139.5 68 147.2 63.5 142.9 58 135.3 62.5" fill="#ffa86e"/>
<polygon points="199.6 62.3 207.5 60.1 203 55.3 195.1 57.4" fill="#ff6b48"/>
<polygon points="73.3 127.3 80.3 119 76.3 113 69.4 121.2" fill="#78ffa4"/>
<polygon points="159.4 64.7 167.2 61 162.8 55.8 155 59.4" fill="#ff8c63"/>
<polygon points="179.4 62.8 187.3 59.9 182.8 54.9 175 57.7" fill="#ff7756"/>
<polygon points="131.9 72.9 139.5 68 135.3 62.5 127.6 67.3" fill="#ffbf73"/>
<polygon points="212.1 64.9 220 63.1 215.4 58.4 207.5 60.1" fill="#ff6b41"/>
<polygon points="80.3 119 87.4 111.1 83.4 105.2 76.3 113" fill="#78ff82"/>
<polygon points="124.3 78.2 131.9 72.9 127.6 67.3 120.1 72.5" fill="#ffd878"/>
<polygon points="87.4 111.1 94.6 103.7 90.5 97.8 83.4 105.2" fill="#91ff78"/>
<polygon points="116.8 83.9 124.3 78.2 120.1 72.5 112.6 78.2" fill="#fff278"/>
<polygon points="224.5 67.7 232.5 66.3 227.9 61.7 220 63.1" fill="#ff6f39"/>
<polygon points="151.6 68.9 159.4 64.7 155 59.4 147.2 63.5" fill="#ff9d69"/>
<polygon points="191.7 64.9 199.6 62.3 195.1 57.4 187.3 59.9" fill="#ff7250"/>
<polygon points="94.6 103.7 101.9 96.7 97.8 90.8 90.5 97.8" fill="#b4ff78"/>
<polygon points="109.3 90.1 116.8 83.9 112.6 78.2 105.1 84.3" fill="#f1ff78"/>
<polygon points="101.9 96.7 109.3 90.1 105.1 84.3 97.8 90.8" fill="#d4ff78"/>
<polygon points="171.6 66.2 179.4 62.8 175 57.7 167.2 61" fill="#ff845d"/>
<polygon points="70.2 142.2 77.1 133.4 73.3 127.3 66.4 136.1" fill="#78ffcf"/>
<polygon points="237.1 70.8 245 69.7 240.3 65.2 232.5 66.3" fill="#fd7431"/>
<polygon points="143.8 73.4 151.6 68.9 147.2 63.5 139.5 68" fill="#ffaf6f"/>
<polygon points="204.1 67.1 212.1 64.9 207.5 60.1 199.6 62.3" fill="#ff6f48"/>
<polygon points="77.1 133.4 84.2 125 80.3 119 73.3 127.3" fill="#78ffaa"/>
<polygon points="163.7 70 171.6 66.2 167.2 61 159.4 64.7" fill="#ff9264"/>
<polygon points="136.1 78.4 143.8 73.4 139.5 68 131.9 72.9" fill="#ffc674"/>
<polygon points="183.8 67.9 191.7 64.9 187.3 59.9 179.4 62.8" fill="#ff7c57"/>
<polygon points="84.2 125 91.4 117 87.4 111.1 80.3 119" fill="#78ff88"/>
<polygon points="216.6 69.6 224.5 67.7 220 63.1 212.1 64.9" fill="#ff6f41"/>
<polygon points="128.5 83.7 136.1 78.4 131.9 72.9 124.3 78.2" fill="#ffdf78"/>
<polygon points="91.4 117 98.6 109.5 94.6 103.7 87.4 111.1" fill="#8aff78"/>
<polygon points="120.9 89.5 128.5 83.7 124.3 78.2 116.8 83.9" fill="#fff978"/>
<polygon points="155.9 74.1 163.7 70 159.4 64.7 151.6 68.9" fill="#ffa269"/>
<polygon points="98.6 109.5 106 102.4 101.9 96.7 94.6 103.7" fill="#adff78"/>
<polygon points="113.4 95.8 120.9 89.5 116.8 83.9 109.3 90.1" fill="#eaff78"/>
<polygon points="229.1 72.3 237.1 70.8 232.5 66.3 224.5 67.7" fill="#ff723a"/>
<polygon points="106 102.4 113.4 95.8 109.3 90.1 101.9 96.7" fill="#cdff78"/>
<polygon points="196.2 69.8 204.1 67.1 199.6 62.3 191.7 64.9" fill="#ff7750"/>
<polygon points="175.9 71.3 183.8 67.9 179.4 62.8 171.6 66.2" fill="#ff895e"/>
<polygon points="74 148.2 81 139.3 77.1 133.4 70.2 142.2" fill="#78ffd5"/>
<polygon points="241.7 75.2 249.6 74 245 69.7 237.1 70.8" fill="#fd7732"/>
<polygon points="148.1 78.7 155.9 74.1 151.6 68.9 143.8 73.4" fill="#ffb56f"/>
<polygon points="208.6 71.9 216.6 69.6 212.1 64.9 204.1 67.1" fill="#ff7349"/>
<polygon points="81 139.3 88.1 130.9 84.2 125 77.1 133.4" fill="#78ffb0"/>
<polygon points="140.4 83.8 148.1 78.7 143.8 73.4 136.1 78.4" fill="#ffcc74"/>
<polygon points="168.1 75.1 175.9 71.3 171.6 66.2 163.7 70" fill="#ff9764"/>
<polygon points="188.3 72.8 196.2 69.8 191.7 64.9 183.8 67.9" fill="#ff8157"/>
<polygon points="88.1 130.9 95.3 122.8 91.4 117 84.2 125" fill="#78ff8d"/>
<polygon points="132.7 89.2 140.4 83.8 136.1 78.4 128.5 83.7" fill="#ffe578"/>
<polygon points="221.1 74.2 229.1 72.3 224.5 67.7 216.6 69.6" fill="#ff7241"/>
<polygon points="95.3 122.8 102.6 115.2 98.6 109.5 91.4 117" fill="#84ff78"/>
<polygon points="125.1 95.1 132.7 89.2 128.5 83.7 120.9 89.5" fill="#ffff78"/>
<polygon points="102.6 115.2 110 108.1 106 102.4 98.6 109.5" fill="#a7ff78"/>
<polygon points="160.2 79.3 168.1 75.1 163.7 70 155.9 74.1" fill="#ffa76a"/>
<polygon points="117.5 101.4 125.1 95.1 120.9 89.5 113.4 95.8" fill="#e4ff78"/>
<polygon points="110 108.1 117.5 101.4 113.4 95.8 106 102.4" fill="#c7ff78"/>
<polygon points="200.7 74.6 208.6 71.9 204.1 67.1 196.2 69.8" fill="#ff7b50"/>
<polygon points="233.7 76.7 241.7 75.2 237.1 70.8 229.1 72.3" fill="#ff743a"/>
<polygon points="77.8 154.1 84.9 145.2 81 139.3 74 148.2" fill="#78ffda"/>
<polygon points="180.3 76.3 188.3 72.8 183.8 67.9 175.9 71.3" fill="#ff8d5e"/>
<polygon points="152.4 84 160.2 79.3 155.9 74.1 148.1 78.7" fill="#ffbb6f"/>
<polygon points="246.3 79.5 254.2 78.3 249.6 74 241.7 75.2" fill="#fd7932"/>
<polygon points="84.9 145.2 92 136.7 88.1 130.9 81 139.3" fill="#78ffb5"/>
<polygon points="213.1 76.5 221.1 74.2 216.6 69.6 208.6 71.9" fill="#ff7749"/>
<polygon points="144.6 89.1 152.4 84 148.1 78.7 140.4 83.8" fill="#ffd274"/>
<polygon points="172.4 80.2 180.3 76.3 175.9 71.3 168.1 75.1" fill="#ff9b64"/>
<polygon points="192.7 77.7 200.7 74.6 196.2 69.8 188.3 72.8" fill="#ff8557"/>
<polygon points="92 136.7 99.3 128.6 95.3 122.8 88.1 130.9" fill="#78ff92"/>
<polygon points="136.9 94.6 144.6 89.1 140.4 83.8 132.7 89.2" fill="#ffeb78"/>
<polygon points="99.3 128.6 106.6 120.9 102.6 115.2 95.3 122.8" fill="#7eff78"/>
<polygon points="225.7 78.7 233.7 76.7 229.1 72.3 221.1 74.2" fill="#ff7542"/>
<polygon points="129.2 100.5 136.9 94.6 132.7 89.2 125.1 95.1" fill="#f9ff78"/>
<polygon points="106.6 120.9 114.1 113.7 110 108.1 102.6 115.2" fill="#a1ff78"/>
<polygon points="164.5 84.5 172.4 80.2 168.1 75.1 160.2 79.3" fill="#ffab6a"/>
<polygon points="121.6 106.9 129.2 100.5 125.1 95.1 117.5 101.4" fill="#dfff78"/>
<polygon points="114.1 113.7 121.6 106.9 117.5 101.4 110 108.1" fill="#c1ff78"/>
<polygon points="81.6 160 88.7 151 84.9 145.2 77.8 154.1" fill="#78ffde"/>
<polygon points="205.1 79.3 213.1 76.5 208.6 71.9 200.7 74.6" fill="#ff7e51"/>
<polygon points="184.7 81.2 192.7 77.7 188.3 72.8 180.3 76.3" fill="#ff915e"/>
<polygon points="238.2 81.1 246.3 79.5 241.7 75.2 233.7 76.7" fill="#ff763a"/>
<polygon points="156.7 89.2 164.5 84.5 160.2 79.3 152.4 84" fill="#ffc170"/>
<polygon points="88.7 151 95.9 142.4 92 136.7 84.9 145.2" fill="#78ffb9"/>
<polygon points="250.9 83.7 258.9 82.5 254.2 78.3 246.3 79.5" fill="#fe7a32"/>
<polygon points="217.6 81.1 225.7 78.7 221.1 74.2 213.1 76.5" fill="#ff7949"/>
<polygon points="148.8 94.3 156.7 89.2 152.4 84 144.6 89.1" fill="#ffd774"/>
<polygon points="176.8 85.1 184.7 81.2 180.3 76.3 172.4 80.2" fill="#ff9f65"/>
<polygon points="95.9 142.4 103.2 134.2 99.3 128.6 92 136.7" fill="#78ff97"/>
<polygon points="197.1 82.4 205.1 79.3 200.7 74.6 192.7 77.7" fill="#ff8858"/>
<polygon points="141.1 99.9 148.8 94.3 144.6 89.1 136.9 94.6" fill="#fff078"/>
<polygon points="103.2 134.2 110.6 126.5 106.6 120.9 99.3 128.6" fill="#79ff78"/>
<polygon points="133.4 105.9 141.1 99.9 136.9 94.6 129.2 100.5" fill="#f5ff78"/>
<polygon points="230.2 83.1 238.2 81.1 233.7 76.7 225.7 78.7" fill="#ff7742"/>
<polygon points="110.6 126.5 118.1 119.2 114.1 113.7 106.6 120.9" fill="#9cff78"/>
<polygon points="125.7 112.3 133.4 105.9 129.2 100.5 121.6 106.9" fill="#daff78"/>
<polygon points="118.1 119.2 125.7 112.3 121.6 106.9 114.1 113.7" fill="#bcff78"/>
<polygon points="168.8 89.5 176.8 85.1 172.4 80.2 164.5 84.5" fill="#ffb06a"/>
<polygon points="85.4 165.8 92.6 156.7 88.7 151 81.6 160" fill="#78ffe2"/>
<polygon points="209.6 83.9 217.6 81.1 213.1 76.5 205.1 79.3" fill="#ff8051"/>
<polygon points="189.1 86 197.1 82.4 192.7 77.7 184.7 81.2" fill="#ff945e"/>
<polygon points="242.8 85.4 250.9 83.7 246.3 79.5 238.2 81.1" fill="#ff773b"/>
<polygon points="160.9 94.3 168.8 89.5 164.5 84.5 156.7 89.2" fill="#ffc570"/>
<polygon points="92.6 156.7 99.8 148 95.9 142.4 88.7 151" fill="#78ffbd"/>
<polygon points="255.5 87.9 263.5 86.6 258.9 82.5 250.9 83.7" fill="#fe7a33"/>
<polygon points="153.1 99.5 160.9 94.3 156.7 89.2 148.8 94.3" fill="#ffdc75"/>
<polygon points="222.1 85.6 230.2 83.1 225.7 78.7 217.6 81.1" fill="#ff7b4a"/>
<polygon points="181.1 90 189.1 86 184.7 81.2 176.8 85.1" fill="#ffa265"/>
<polygon points="99.8 148 107.2 139.8 103.2 134.2 95.9 142.4" fill="#78ff9b"/>
<polygon points="201.5 87.1 209.6 83.9 205.1 79.3 197.1 82.4" fill="#ff8a58"/>
<polygon points="145.3 105.1 153.1 99.5 148.8 94.3 141.1 99.9" fill="#fff478"/>
<polygon points="107.2 139.8 114.6 132 110.6 126.5 103.2 134.2" fill="#78ff7a"/>
<polygon points="137.5 111.2 145.3 105.1 141.1 99.9 133.4 105.9" fill="#f1ff78"/>
<polygon points="114.6 132 122.2 124.6 118.1 119.2 110.6 126.5" fill="#98ff78"/>
<polygon points="129.8 117.7 137.5 111.2 133.4 105.9 125.7 112.3" fill="#d6ff78"/>
<polygon points="122.2 124.6 129.8 117.7 125.7 112.3 118.1 119.2" fill="#b8ff78"/>
<polygon points="234.7 87.5 242.8 85.4 238.2 81.1 230.2 83.1" fill="#ff7842"/>
<polygon points="173.1 94.4 181.1 90 176.8 85.1 168.8 89.5" fill="#ffb46b"/>
<polygon points="89.2 171.5 96.4 162.3 92.6 156.7 85.4 165.8" fill="#78ffe6"/>
<polygon points="214 88.4 222.1 85.6 217.6 81.1 209.6 83.9" fill="#ff8251"/>
<polygon points="193.5 90.8 201.5 87.1 197.1 82.4 189.1 86" fill="#ff975f"/>
<polygon points="165.2 99.3 173.1 94.4 168.8 89.5 160.9 94.3" fill="#ffc970"/>
<polygon points="247.4 89.6 255.5 87.9 250.9 83.7 242.8 85.4" fill="#ff773b"/>
<polygon points="96.4 162.3 103.7 153.6 99.8 148 92.6 156.7" fill="#78ffc1"/>
<polygon points="157.3 104.6 165.2 99.3 160.9 94.3 153.1 99.5" fill="#ffe075"/>
<polygon points="103.7 153.6 111.1 145.3 107.2 139.8 99.8 148" fill="#78ff9e"/>
<polygon points="260.1 92 268.2 90.6 263.5 86.6 255.5 87.9" fill="#fe7933"/>
<polygon points="185.4 94.8 193.5 90.8 189.1 86 181.1 90" fill="#ffa565"/>
<polygon points="226.6 90 234.7 87.5 230.2 83.1 222.1 85.6" fill="#ff7c4a"/>
<polygon points="149.4 110.3 157.3 104.6 153.1 99.5 145.3 105.1" fill="#fff878"/>
<polygon points="205.9 91.7 214 88.4 209.6 83.9 201.5 87.1" fill="#ff8c58"/>
<polygon points="111.1 145.3 118.6 137.4 114.6 132 107.2 139.8" fill="#78ff7e"/>
<polygon points="141.6 116.4 149.4 110.3 145.3 105.1 137.5 111.2" fill="#edff78"/>
<polygon points="118.6 137.4 126.2 130 122.2 124.6 114.6 132" fill="#94ff78"/>
<polygon points="133.9 123 141.6 116.4 137.5 111.2 129.8 117.7" fill="#d2ff78"/>
<polygon points="126.2 130 133.9 123 129.8 117.7 122.2 124.6" fill="#b4ff78"/>
<polygon points="177.4 99.3 185.4 94.8 181.1 90 173.1 94.4" fill="#ffb76b"/>
<polygon points="239.3 91.7 247.4 89.6 242.8 85.4 234.7 87.5" fill="#ff7843"/>
<polygon points="93 177.1 100.2 167.8 96.4 162.3 89.2 171.5" fill="#78ffe9"/>
<polygon points="197.9 95.4 205.9 91.7 201.5 87.1 193.5 90.8" fill="#ff995f"/>
<polygon points="218.5 92.9 226.6 90 222.1 85.6 214 88.4" fill="#ff8451"/>
<polygon points="169.4 104.2 177.4 99.3 173.1 94.4 165.2 99.3" fill="#ffcc70"/>
<polygon points="100.2 167.8 107.6 159 103.7 153.6 96.4 162.3" fill="#78ffc4"/>
<polygon points="252 93.7 260.1 92 255.5 87.9 247.4 89.6" fill="#ff773b"/>
<polygon points="161.5 109.6 169.4 104.2 165.2 99.3 157.3 104.6" fill="#ffe375"/>
<polygon points="107.6 159 115 150.7 111.1 145.3 103.7 153.6" fill="#78ffa1"/>
<polygon points="189.8 99.5 197.9 95.4 193.5 90.8 185.4 94.8" fill="#ffa765"/>
<polygon points="231.1 94.3 239.3 91.7 234.7 87.5 226.6 90" fill="#ff7d4a"/>
<polygon points="264.7 95.9 272.8 94.5 268.2 90.6 260.1 92" fill="#fe7833"/>
<polygon points="153.6 115.3 161.5 109.6 157.3 104.6 149.4 110.3" fill="#fffb78"/>
<polygon points="115 150.7 122.6 142.7 118.6 137.4 111.1 145.3" fill="#78ff80"/>
<polygon points="210.4 96.2 218.5 92.9 214 88.4 205.9 91.7" fill="#ff8e59"/>
<polygon points="145.8 121.5 153.6 115.3 149.4 110.3 141.6 116.4" fill="#eaff78"/>
<polygon points="122.6 142.7 130.2 135.2 126.2 130 118.6 137.4" fill="#91ff78"/>
<polygon points="138 128.2 145.8 121.5 141.6 116.4 133.9 123" fill="#cfff78"/>
<polygon points="130.2 135.2 138 128.2 133.9 123 126.2 130" fill="#b1ff78"/>
<polygon points="181.7 104.1 189.8 99.5 185.4 94.8 177.4 99.3" fill="#ffba6b"/>
<polygon points="96.7 182.6 104 173.3 100.2 167.8 93 177.1" fill="#78ffec"/>
<polygon points="243.8 95.9 252 93.7 247.4 89.6 239.3 91.7" fill="#ff7843"/>
<polygon points="202.2 100 210.4 96.2 205.9 91.7 197.9 95.4" fill="#ff9a5f"/>
<polygon points="223 97.3 231.1 94.3 226.6 90 218.5 92.9" fill="#ff8452"/>
<polygon points="173.7 109.1 181.7 104.1 177.4 99.3 169.4 104.2" fill="#ffcf71"/>
<polygon points="104 173.3 111.5 164.4 107.6 159 100.2 167.8" fill="#78ffc6"/>
<polygon points="256.5 97.8 264.7 95.9 260.1 92 252 93.7" fill="#ff763b"/>
<polygon points="165.7 114.5 173.7 109.1 169.4 104.2 161.5 109.6" fill="#ffe575"/>
<polygon points="111.5 164.4 119 156 115 150.7 107.6 159" fill="#78ffa3"/>
<polygon points="194.1 104.2 202.2 100 197.9 95.4 189.8 99.5" fill="#ffa866"/>
<polygon points="157.8 120.3 165.7 114.5 161.5 109.6 153.6 115.3" fill="#fffe78"/>
<polygon points="235.6 98.5 243.8 95.9 239.3 91.7 231.1 94.3" fill="#ff7d4b"/>
<polygon points="119 156 126.6 148 122.6 142.7 115 150.7" fill="#78ff83"/>
<polygon points="269.3 99.8 277.5 98.4 272.8 94.5 264.7 95.9" fill="#ff7634"/>
<polygon points="214.8 100.7 223 97.3 218.5 92.9 210.4 96.2" fill="#ff8e59"/>
<polygon points="149.9 126.6 157.8 120.3 153.6 115.3 145.8 121.5" fill="#e8ff78"/>
<polygon points="126.6 148 134.3 140.4 130.2 135.2 122.6 142.7" fill="#8eff78"/>
<polygon points="142 133.3 149.9 126.6 145.8 121.5 138 128.2" fill="#cdff78"/>
<polygon points="134.3 140.4 142 133.3 138 128.2 130.2 135.2" fill="#afff78"/>
<polygon points="186 108.8 194.1 104.2 189.8 99.5 181.7 104.1" fill="#ffbb6b"/>
<polygon points="100.5 188.1 107.8 178.7 104 173.3 96.7 182.6" fill="#78ffee"/>
<polygon points="248.4 100 256.5 97.8 252 93.7 243.8 95.9" fill="#ff7743"/>
<polygon points="206.6 104.5 214.8 100.7 210.4 96.2 202.2 100" fill="#ff9b60"/>
<polygon points="178 113.8 186 108.8 181.7 104.1 173.7 109.1" fill="#ffd071"/>
<polygon points="107.8 178.7 115.3 169.7 111.5 164.4 104 173.3" fill="#78ffc8"/>
<polygon points="227.4 101.6 235.6 98.5 231.1 94.3 223 97.3" fill="#ff8452"/>
<polygon points="261.1 101.7 269.3 99.8 264.7 95.9 256.5 97.8" fill="#ff743c"/>
<polygon points="169.9 119.3 178 113.8 173.7 109.1 165.7 114.5" fill="#ffe776"/>
<polygon points="115.3 169.7 122.9 161.2 119 156 111.5 164.4" fill="#78ffa5"/>
<polygon points="198.5 108.7 206.6 104.5 202.2 100 194.1 104.2" fill="#ffa966"/>
<polygon points="161.9 125.2 169.9 119.3 165.7 114.5 157.8 120.3" fill="#ffff78"/>
<polygon points="122.9 161.2 130.5 153.1 126.6 148 119 156" fill="#78ff85"/>
<polygon points="240.1 102.7 248.4 100 243.8 95.9 235.6 98.5" fill="#ff7c4b"/>
<polygon points="154 131.5 161.9 125.2 157.8 120.3 149.9 126.6" fill="#e6ff78"/>
<polygon points="130.5 153.1 138.3 145.5 134.3 140.4 126.6 148" fill="#8cff78"/>
<polygon points="219.2 105 227.4 101.6 223 97.3 214.8 100.7" fill="#ff8e59"/>
<polygon points="274 103.6 282.2 102.1 277.5 98.4 269.3 99.8" fill="#ff7334"/>
<polygon points="146.1 138.3 154 131.5 149.9 126.6 142 133.3" fill="#cbff78"/>
<polygon points="138.3 145.5 146.1 138.3 142 133.3 134.3 140.4" fill="#adff78"/>
<polygon points="104.2 193.4 111.6 184 107.8 178.7 100.5 188.1" fill="#78ffef"/>
<polygon points="190.3 113.4 198.5 108.7 194.1 104.2 186 108.8" fill="#ffbc6c"/>
<polygon points="252.9 104 261.1 101.7 256.5 97.8 248.4 100" fill="#ff7543"/>
<polygon points="211 108.9 219.2 105 214.8 100.7 206.6 104.5" fill="#ff9b60"/>
<polygon points="111.6 184 119.2 174.9 115.3 169.7 107.8 178.7" fill="#78ffca"/>
<polygon points="182.2 118.5 190.3 113.4 186 108.8 178 113.8" fill="#ffd271"/>
<polygon points="231.9 105.8 240.1 102.7 235.6 98.5 227.4 101.6" fill="#ff8352"/>
<polygon points="119.2 174.9 126.8 166.3 122.9 161.2 115.3 169.7" fill="#78ffa7"/>
<polygon points="174.1 124 182.2 118.5 178 113.8 169.9 119.3" fill="#ffe876"/>
<polygon points="265.7 105.6 274 103.6 269.3 99.8 261.1 101.7" fill="#ff713c"/>
<polygon points="202.8 113.2 211 108.9 206.6 104.5 198.5 108.7" fill="#ffa966"/>
<polygon points="126.8 166.3 134.5 158.2 130.5 153.1 122.9 161.2" fill="#78ff86"/>
<polygon points="166.1 130 174.1 124 169.9 119.3 161.9 125.2" fill="#fdff78"/>
<polygon points="134.5 158.2 142.3 150.5 138.3 145.5 130.5 153.1" fill="#8aff78"/>
<polygon points="158.1 136.4 166.1 130 161.9 125.2 154 131.5" fill="#e5ff78"/>
<polygon points="244.6 106.7 252.9 104 248.4 100 240.1 102.7" fill="#ff7a4b"/>
<polygon points="223.6 109.3 231.9 105.8 227.4 101.6 219.2 105" fill="#ff8e59"/>
<polygon points="142.3 150.5 150.2 143.2 146.1 138.3 138.3 145.5" fill="#abff78"/>
<polygon points="150.2 143.2 158.1 136.4 154 131.5 146.1 138.3" fill="#caff78"/>
<polygon points="278.6 107.4 286.9 105.8 282.2 102.1 274 103.6" fill="#ff7034"/>
<polygon points="108 198.7 115.4 189.1 111.6 184 104.2 193.4" fill="#78fff1"/>
<polygon points="194.6 117.9 202.8 113.2 198.5 108.7 190.3 113.4" fill="#ffbd6c"/>
<polygon points="257.5 107.9 265.7 105.6 261.1 101.7 252.9 104" fill="#ff7344"/>
<polygon points="115.4 189.1 123 180 119.2 174.9 111.6 184" fill="#78ffcb"/>
<polygon points="186.5 123.1 194.6 117.9 190.3 113.4 182.2 118.5" fill="#ffd271"/>
<polygon points="215.4 113.2 223.6 109.3 219.2 105 211 108.9" fill="#ff9a60"/>
<polygon points="236.4 109.9 244.6 106.7 240.1 102.7 231.9 105.8" fill="#ff8253"/>
<polygon points="123 180 130.7 171.4 126.8 166.3 119.2 174.9" fill="#78ffa8"/>
<polygon points="178.3 128.7 186.5 123.1 182.2 118.5 174.1 124" fill="#ffe976"/>
<polygon points="270.4 109.3 278.6 107.4 274 103.6 265.7 105.6" fill="#ff6e3c"/>
<polygon points="130.7 171.4 138.5 163.2 134.5 158.2 126.8 166.3" fill="#78ff87"/>
<polygon points="170.2 134.7 178.3 128.7 174.1 124 166.1 130" fill="#fdff78"/>
<polygon points="207.2 117.6 215.4 113.2 211 108.9 202.8 113.2" fill="#ffa966"/>
<polygon points="138.5 163.2 146.3 155.4 142.3 150.5 134.5 158.2" fill="#89ff78"/>
<polygon points="162.2 141.2 170.2 134.7 166.1 130 158.1 136.4" fill="#e4ff78"/>
<polygon points="146.3 155.4 154.2 148.1 150.2 143.2 142.3 150.5" fill="#abff78"/>
<polygon points="154.2 148.1 162.2 141.2 158.1 136.4 150.2 143.2" fill="#c9ff78"/>
<polygon points="249.2 110.7 257.5 107.9 252.9 104 244.6 106.7" fill="#ff784b"/>
<polygon points="228.1 113.4 236.4 109.9 231.9 105.8 223.6 109.3" fill="#ff8d5a"/>
<polygon points="111.7 203.9 119.2 194.3 115.4 189.1 108 198.7" fill="#78fff1"/>
<polygon points="283.3 111 291.5 109.4 286.9 105.8 278.6 107.4" fill="#ff6b35"/>
<polygon points="198.9 122.4 207.2 117.6 202.8 113.2 194.6 117.9" fill="#ffbc6c"/>
<polygon points="119.2 194.3 126.9 185.1 123 180 115.4 189.1" fill="#78ffcb"/>
<polygon points="262 111.7 270.4 109.3 265.7 105.6 257.5 107.9" fill="#ff7044"/>
<polygon points="190.7 127.6 198.9 122.4 194.6 117.9 186.5 123.1" fill="#ffd271"/>
<polygon points="219.8 117.4 228.1 113.4 223.6 109.3 215.4 113.2" fill="#ff9960"/>
<polygon points="240.9 113.9 249.2 110.7 244.6 106.7 236.4 109.9" fill="#ff8053"/>
<polygon points="126.9 185.1 134.6 176.4 130.7 171.4 123 180" fill="#78ffa8"/>
<polygon points="182.5 133.2 190.7 127.6 186.5 123.1 178.3 128.7" fill="#ffe976"/>
<polygon points="134.6 176.4 142.4 168.1 138.5 163.2 130.7 171.4" fill="#78ff87"/>
<polygon points="174.4 139.3 182.5 133.2 178.3 128.7 170.2 134.7" fill="#fdff78"/>
<polygon points="275 113 283.3 111 278.6 107.4 270.4 109.3" fill="#ff693c"/>
<polygon points="211.5 121.9 219.8 117.4 215.4 113.2 207.2 117.6" fill="#ffa866"/>
<polygon points="142.4 168.1 150.3 160.2 146.3 155.4 138.5 163.2" fill="#89ff78"/>
<polygon points="166.3 145.9 174.4 139.3 170.2 134.7 162.2 141.2" fill="#e4ff78"/>
<polygon points="150.3 160.2 158.3 152.8 154.2 148.1 146.3 155.4" fill="#aaff78"/>
<polygon points="158.3 152.8 166.3 145.9 162.2 141.2 154.2 148.1" fill="#c9ff78"/>
<polygon points="253.7 114.6 262 111.7 257.5 107.9 249.2 110.7" fill="#ff754c"/>
<polygon points="232.5 117.5 240.9 113.9 236.4 109.9 228.1 113.4" fill="#ff8b5a"/>
<polygon points="115.4 209 123 199.3 119.2 194.3 111.7 203.9" fill="#78fff1"/>
<polygon points="203.2 126.7 211.5 121.9 207.2 117.6 198.9 122.4" fill="#ffbb6c"/>
<polygon points="288 114.5 296.3 112.8 291.5 109.4 283.3 111" fill="#ff6635"/>
<polygon points="123 199.3 130.7 190 126.9 185.1 119.2 194.3" fill="#78ffcc"/>
<polygon points="195 132 203.2 126.7 198.9 122.4 190.7 127.6" fill="#ffd172"/>
<polygon points="224.2 121.6 232.5 117.5 228.1 113.4 219.8 117.4" fill="#ff9860"/>
<polygon points="266.6 115.5 275 113 270.4 109.3 262 111.7" fill="#ff6c44"/>
<polygon points="245.3 117.8 253.7 114.6 249.2 110.7 240.9 113.9" fill="#ff7d53"/>
<polygon points="130.7 190 138.5 181.2 134.6 176.4 126.9 185.1" fill="#78ffa8"/>
<polygon points="186.8 137.7 195 132 190.7 127.6 182.5 133.2" fill="#ffe876"/>
<polygon points="138.5 181.2 146.4 172.9 142.4 168.1 134.6 176.4" fill="#78ff87"/>
<polygon points="178.6 143.9 186.8 137.7 182.5 133.2 174.4 139.3" fill="#feff78"/>
<polygon points="215.9 126.1 224.2 121.6 219.8 117.4 211.5 121.9" fill="#ffa667"/>
<polygon points="279.6 116.6 288 114.5 283.3 111 275 113" fill="#ff653d"/>
<polygon points="146.4 172.9 154.3 165 150.3 160.2 142.4 168.1" fill="#89ff78"/>
<polygon points="170.4 150.5 178.6 143.9 174.4 139.3 166.3 145.9" fill="#e5ff78"/>
<polygon points="154.3 165 162.3 157.5 158.3 152.8 150.3 160.2" fill="#abff78"/>
<polygon points="162.3 157.5 170.4 150.5 166.3 145.9 158.3 152.8" fill="#c9ff78"/>
<polygon points="237 121.5 245.3 117.8 240.9 113.9 232.5 117.5" fill="#ff885a"/>
<polygon points="119.1 214 126.8 204.2 123 199.3 115.4 209" fill="#78fff1"/>
<polygon points="258.2 118.4 266.6 115.5 262 111.7 253.7 114.6" fill="#ff714c"/>
<polygon points="207.5 131 215.9 126.1 211.5 121.9 203.2 126.7" fill="#ffb96c"/>
<polygon points="292.6 118 301 116.2 296.3 112.8 288 114.5" fill="#ff6035"/>
<polygon points="126.8 204.2 134.5 194.9 130.7 190 123 199.3" fill="#78ffcb"/>
<polygon points="199.2 136.3 207.5 131 203.2 126.7 195 132" fill="#ffcf72"/>
<polygon points="228.6 125.6 237 121.5 232.5 117.5 224.2 121.6" fill="#ff9561"/>
<polygon points="271.2 119.1 279.6 116.6 275 113 266.6 115.5" fill="#ff6744"/>
<polygon points="134.5 194.9 142.4 186 138.5 181.2 130.7 190" fill="#78ffa8"/>
<polygon points="249.8 121.7 258.2 118.4 253.7 114.6 245.3 117.8" fill="#ff7a53"/>
<polygon points="191 142.1 199.2 136.3 195 132 186.8 137.7" fill="#ffe676"/>
<polygon points="142.4 186 150.3 177.6 146.4 172.9 138.5 181.2" fill="#78ff86"/>
<polygon points="182.7 148.3 191 142.1 186.8 137.7 178.6 143.9" fill="#ffff78"/>
<polygon points="220.2 130.2 228.6 125.6 224.2 121.6 215.9 126.1" fill="#ffa467"/>
<polygon points="150.3 177.6 158.3 169.6 154.3 165 146.4 172.9" fill="#8aff78"/>
<polygon points="174.5 155 182.7 148.3 178.6 143.9 170.4 150.5" fill="#e6ff78"/>
<polygon points="158.3 169.6 166.4 162.1 162.3 157.5 154.3 165" fill="#acff78"/>
<polygon points="284.2 120.1 292.6 118 288 114.5 279.6 116.6" fill="#ff5f3d"/>
<polygon points="166.4 162.1 174.5 155 170.4 150.5 162.3 157.5" fill="#caff78"/>
<polygon points="122.9 218.9 130.6 209 126.8 204.2 119.1 214" fill="#78fff0"/>
<polygon points="241.4 125.4 249.8 121.7 245.3 117.8 237 121.5" fill="#ff855a"/>
<polygon points="262.8 122.1 271.2 119.1 266.6 115.5 258.2 118.4" fill="#ff6d4c"/>
<polygon points="211.8 135.2 220.2 130.2 215.9 126.1 207.5 131" fill="#ffb76d"/>
<polygon points="297.3 121.3 305.7 119.5 301 116.2 292.6 118" fill="#ff5935"/>
<polygon points="130.6 209 138.4 199.7 134.5 194.9 126.8 204.2" fill="#78ffca"/>
<polygon points="203.5 140.6 211.8 135.2 207.5 131 199.2 136.3" fill="#ffcd72"/>
<polygon points="233 129.6 241.4 125.4 237 121.5 228.6 125.6" fill="#ff9361"/>
<polygon points="138.4 199.7 146.3 190.7 142.4 186 134.5 194.9" fill="#78ffa7"/>
<polygon points="275.8 122.7 284.2 120.1 279.6 116.6 271.2 119.1" fill="#ff6245"/>
<polygon points="254.3 125.4 262.8 122.1 258.2 118.4 249.8 121.7" fill="#ff7653"/>
<polygon points="195.2 146.4 203.5 140.6 199.2 136.3 191 142.1" fill="#ffe477"/>
<polygon points="146.3 190.7 154.3 182.2 150.3 177.6 142.4 186" fill="#78ff85"/>
<polygon points="186.9 152.7 195.2 146.4 191 142.1 182.7 148.3" fill="#fffd78"/>
<polygon points="154.3 182.2 162.3 174.2 158.3 169.6 150.3 177.6" fill="#8bff78"/>
<polygon points="224.6 134.2 233 129.6 228.6 125.6 220.2 130.2" fill="#ffa267"/>
<polygon points="178.7 159.4 186.9 152.7 182.7 148.3 174.5 155" fill="#e8ff78"/>
<polygon points="162.3 174.2 170.5 166.6 166.4 162.1 158.3 169.6" fill="#adff78"/>
<polygon points="170.5 166.6 178.7 159.4 174.5 155 166.4 162.1" fill="#ccff78"/>
<polygon points="288.9 123.5 297.3 121.3 292.6 118 284.2 120.1" fill="#ff593d"/>
<polygon points="126.6 223.7 134.3 213.8 130.6 209 122.9 218.9" fill="#78ffef"/>
<polygon points="245.9 129.2 254.3 125.4 249.8 121.7 241.4 125.4" fill="#ff825a"/>
<polygon points="267.4 125.7 275.8 122.7 271.2 119.1 262.8 122.1" fill="#ff684c"/>
<polygon points="216.2 139.2 224.6 134.2 220.2 130.2 211.8 135.2" fill="#ffb46d"/>
<polygon points="134.3 213.8 142.2 204.3 138.4 199.7 130.6 209" fill="#78ffc9"/>
<polygon points="207.8 144.7 216.2 139.2 211.8 135.2 203.5 140.6" fill="#ffca72"/>
<polygon points="237.4 133.5 245.9 129.2 241.4 125.4 233 129.6" fill="#ff8f61"/>
<polygon points="142.2 204.3 150.2 195.3 146.3 190.7 138.4 199.7" fill="#78ffa5"/>
<polygon points="280.4 126.1 288.9 123.5 284.2 120.1 275.8 122.7" fill="#ff5c45"/>
<polygon points="199.4 150.6 207.8 144.7 203.5 140.6 195.2 146.4" fill="#ffe177"/>
<polygon points="258.9 129.1 267.4 125.7 262.8 122.1 254.3 125.4" fill="#ff7254"/>
<polygon points="150.2 195.3 158.2 186.8 154.3 182.2 146.3 190.7" fill="#78ff84"/>
<polygon points="191.1 157 199.4 150.6 195.2 146.4 186.9 152.7" fill="#fffa78"/>
<polygon points="158.2 186.8 166.3 178.6 162.3 174.2 154.3 182.2" fill="#8dff78"/>
<polygon points="182.8 163.7 191.1 157 186.9 152.7 178.7 159.4" fill="#eaff78"/>
<polygon points="228.9 138.1 237.4 133.5 233 129.6 224.6 134.2" fill="#ff9e67"/>
<polygon points="166.3 178.6 174.5 171 170.5 166.6 162.3 174.2" fill="#afff78"/>
<polygon points="174.5 171 182.8 163.7 178.7 159.4 170.5 166.6" fill="#ceff78"/>
<polygon points="130.3 228.4 138.1 218.5 134.3 213.8 126.6 223.7" fill="#78ffed"/>
<polygon points="250.4 133 258.9 129.1 254.3 125.4 245.9 129.2" fill="#ff7d5b"/>
<polygon points="271.9 129.2 280.4 126.1 275.8 122.7 267.4 125.7" fill="#ff634c"/>
<polygon points="220.5 143.2 228.9 138.1 224.6 134.2 216.2 139.2" fill="#ffb06d"/>
<polygon points="138.1 218.5 146.1 208.9 142.2 204.3 134.3 213.8" fill="#78ffc7"/>
<polygon points="212 148.8 220.5 143.2 216.2 139.2 207.8 144.7" fill="#ffc672"/>
<polygon points="146.1 208.9 154.1 199.8 150.2 195.3 142.2 204.3" fill="#78ffa3"/>
<polygon points="241.8 137.2 250.4 133 245.9 129.2 237.4 133.5" fill="#ff8b61"/>
<polygon points="203.6 154.7 212 148.8 207.8 144.7 199.4 150.6" fill="#ffde77"/>
<polygon points="263.4 132.7 271.9 129.2 267.4 125.7 258.9 129.1" fill="#ff6c54"/>
<polygon points="154.1 199.8 162.2 191.2 158.2 186.8 150.2 195.3" fill="#78ff82"/>
<polygon points="195.2 161.1 203.6 154.7 199.4 150.6 191.1 157" fill="#fff778"/>
<polygon points="162.2 191.2 170.4 183 166.3 178.6 158.2 186.8" fill="#90ff78"/>
<polygon points="186.9 168 195.2 161.1 191.1 157 182.8 163.7" fill="#edff78"/>
<polygon points="170.4 183 178.6 175.3 174.5 171 166.3 178.6" fill="#b2ff78"/>
<polygon points="233.3 142 241.8 137.2 237.4 133.5 228.9 138.1" fill="#ff9b67"/>
<polygon points="178.6 175.3 186.9 168 182.8 163.7 174.5 171" fill="#d1ff78"/>
<polygon points="134 233.1 141.9 223 138.1 218.5 130.3 228.4" fill="#78ffeb"/>
<polygon points="254.8 136.6 263.4 132.7 258.9 129.1 250.4 133" fill="#ff785b"/>
<polygon points="224.8 147.1 233.3 142 228.9 138.1 220.5 143.2" fill="#ffac6d"/>
<polygon points="141.9 223 149.9 213.4 146.1 208.9 138.1 218.5" fill="#78ffc5"/>
<polygon points="216.3 152.7 224.8 147.1 220.5 143.2 212 148.8" fill="#ffc272"/>
<polygon points="149.9 213.4 158 204.3 154.1 199.8 146.1 208.9" fill="#78ffa1"/>
<polygon points="246.3 140.9 254.8 136.6 250.4 133 241.8 137.2" fill="#ff8661"/>
<polygon points="207.8 158.8 216.3 152.7 212 148.8 203.6 154.7" fill="#ffda77"/>
<polygon points="158 204.3 166.1 195.6 162.2 191.2 154.1 199.8" fill="#78ff7f"/>
<polygon points="199.4 165.2 207.8 158.8 203.6 154.7 195.2 161.1" fill="#fff378"/>
<polygon points="166.1 195.6 174.4 187.3 170.4 183 162.2 191.2" fill="#93ff78"/>
<polygon points="191 172.1 199.4 165.2 195.2 161.1 186.9 168" fill="#f0ff78"/>
<polygon points="174.4 187.3 182.7 179.5 178.6 175.3 170.4 183" fill="#b5ff78"/>
<polygon points="182.7 179.5 191 172.1 186.9 168 178.6 175.3" fill="#d4ff78"/>
<polygon points="237.7 145.7 246.3 140.9 241.8 137.2 233.3 142" fill="#ff9667"/>
<polygon points="137.7 237.6 145.7 227.5 141.9 223 134 233.1" fill="#78ffe8"/>
<polygon points="229.2 150.9 237.7 145.7 233.3 142 224.8 147.1" fill="#ffa76d"/>
<polygon points="145.7 227.5 153.7 217.8 149.9 213.4 141.9 223" fill="#78ffc2"/>
<polygon points="220.6 156.6 229.2 150.9 224.8 147.1 216.3 152.7" fill="#ffbd72"/>
<polygon points="153.7 217.8 161.9 208.6 158 204.3 149.9 213.4" fill="#78ff9e"/>
<polygon points="212.1 162.7 220.6 156.6 216.3 152.7 207.8 158.8" fill="#ffd577"/>
<polygon points="161.9 208.6 170.1 199.8 166.1 195.6 158 204.3" fill="#78ff7c"/>
<polygon points="203.6 169.2 212.1 162.7 207.8 158.8 199.4 165.2" fill="#ffef78"/>
<polygon points="170.1 199.8 178.4 191.5 174.4 187.3 166.1 195.6" fill="#97ff78"/>
<polygon points="195.1 176.2 203.6 169.2 199.4 165.2 191 172.1" fill="#f4ff78"/>
<polygon points="178.4 191.5 186.7 183.6 182.7 179.5 174.4 187.3" fill="#b9ff78"/>
<polygon points="186.7 183.6 195.1 176.2 191 172.1 182.7 179.5" fill="#d8ff78"/>
</g>
<line x1="137.8" y1="52.5" x2="135.3" y2="62.5" stroke="#111" stroke-width="1.00"/>
<circle cx="137.8" cy="52.5" r="2.7" fill="#c00000" stroke="#300" stroke-width="1"/>
<line x1="256.4" y1="72.9" x2="258.9" y2="82.5" stroke="#111" stroke-width="1.00"/>
<circle cx="256.4" cy="72.9" r="2.7" fill="#c00000" stroke="#300" stroke-width="1"/>
<line x1="177.8" y1="109.4" x2="178.0" y2="113.8" stroke="#111" stroke-width="1.00"/>
<circle cx="177.8" cy="109.4" r="2.7" fill="#c00000" stroke="#300" stroke-width="1"/>
<circle cx="97.5" cy="185.3" r="2.7" fill="#c00000" stroke="#300" stroke-width="1"/>
<circle cx="223.1" cy="158.5" r="3.2" fill="#f4c4cc" stroke="#d99" stroke-width="0.6"/>
<text x="146.5" y="317.1" font-size="15">500</text>
<text x="185.1" y="302.7" font-size="15">550</text>
<text x="223.0" y="288.1" font-size="15">600</text>
<text x="261.6" y="273.8" font-size="15">650</text>
<text x="300.4" y="258.7" font-size="15">700</text>
<text x="130.1" y="317.1" font-size="15" text-anchor="end">1.5</text>
<text x="113.7" y="290.3" font-size="15" text-anchor="end">2</text>
<text x="96.2" y="264.6" font-size="15" text-anchor="end">2.5</text>
<text x="78.7" y="238.8" font-size="15" text-anchor="end">3</text>
<text x="61.6" y="212.0" font-size="15" text-anchor="end">3.5</text>
<text x="58.7" y="163.4" font-size="15" text-anchor="end">2</text>
<text x="56.2" y="142.3" font-size="15" text-anchor="end">2.5</text>
<text x="53.3" y="121.2" font-size="15" text-anchor="end">3</text>
<text x="52.5" y="100.1" font-size="15" text-anchor="end">3.5</text>
<text x="50.0" y="79.0" font-size="15" text-anchor="end">4</text>
<text x="48.8" y="58.1" font-size="15" text-anchor="end">4.5</text>
<text transform="translate(25.5 132.5) rotate(-90)" font-size="14" text-anchor="middle">CO2 Adsorbed&#160; (mmol/g)</text>
<text x="184.2" y="319.3" font-size="14" textLength="122.6" lengthAdjust="spacingAndGlyphs">X1: Temperature (°C)</text>
<text x="16.8" y="276.0" font-size="14" textLength="73.6" lengthAdjust="spacingAndGlyphs">X2: Time (h)</text>
<line x1="65.7" y1="494.9" x2="215.3" y2="447.9" stroke="#111" stroke-width="1.00"/>
<line x1="215.3" y1="447.9" x2="305.9" y2="540.0" stroke="#111" stroke-width="1.00"/>
<line x1="63.6" y1="473.6" x2="216.0" y2="428.0" stroke="#111" stroke-width="1.00"/>
<line x1="216.0" y1="428.0" x2="308.1" y2="518.2" stroke="#111" stroke-width="1.00"/>
<line x1="61.5" y1="452.3" x2="216.8" y2="408.1" stroke="#111" stroke-width="1.00"/>
<line x1="216.8" y1="408.1" x2="310.4" y2="496.4" stroke="#111" stroke-width="1.00"/>
<line x1="59.4" y1="431.0" x2="217.6" y2="388.2" stroke="#111" stroke-width="1.00"/>
<line x1="217.6" y1="388.2" x2="312.6" y2="474.6" stroke="#111" stroke-width="1.00"/>
<line x1="57.3" y1="409.7" x2="218.3" y2="368.3" stroke="#111" stroke-width="1.00"/>
<line x1="218.3" y1="368.3" x2="314.8" y2="452.8" stroke="#111" stroke-width="1.00"/>
<line x1="103.1" y1="483.1" x2="96.2" y2="378.4" stroke="#111" stroke-width="1.00"/>
<line x1="283.2" y1="517.0" x2="292.6" y2="410.4" stroke="#111" stroke-width="1.00"/>
<line x1="140.5" y1="471.4" x2="137.2" y2="368.4" stroke="#111" stroke-width="1.00"/>
<line x1="260.6" y1="494.0" x2="268.1" y2="389.7" stroke="#111" stroke-width="1.00"/>
<line x1="177.9" y1="459.7" x2="178.2" y2="358.4" stroke="#111" stroke-width="1.00"/>
<line x1="237.9" y1="471.0" x2="243.6" y2="369.1" stroke="#111" stroke-width="1.00"/>
<line x1="55.3" y1="388.4" x2="219.1" y2="348.4" stroke="#111" stroke-width="1.10"/>
<line x1="219.1" y1="348.4" x2="317.1" y2="431.0" stroke="#111" stroke-width="1.10"/>
<line x1="68.7" y1="526.1" x2="55.3" y2="388.4" stroke="#111" stroke-width="1.10"/>
<line x1="214.2" y1="477.1" x2="219.1" y2="348.4" stroke="#111" stroke-width="1.10"/>
<line x1="302.6" y1="572.0" x2="317.1" y2="431.0" stroke="#111" stroke-width="1.10"/>
<polygon points="141.6 630.9 302.6 572.0 214.2 477.1 68.7 526.1" fill="#666" stroke="#111" stroke-width="1.4" stroke-linejoin="round"/>
<path d="M135.3 621.8 147.3 628.8" fill="none" stroke="#008cff" stroke-width="2"/>
<path d="M89.3 519.1 86.4 525.6 84.5 532.4 83.5 539.7 83.5 547.3" fill="none" stroke="#008cff" stroke-width="2"/>
<path d="M116.3 510 111 517.1 107 524 104.1 531 102.4 538 101.8 545.5 102.4 553.4 104.1 561 106.9 568.9 110.7 576.5 115.9 584.5 121.5 591.6 128.5 598.8 136.2 605.5 144.8 611.7 154 617.4 164.1 622.7" fill="none" stroke="#00ffd2" stroke-width="2"/>
<path d="M149.9 498.7 142.6 505.9 135.9 513.8 130.3 522.1 126.4 529.8 124.1 537.1 123 544.7 123.2 552.7 124.8 560.2 127.7 568.1 132.2 576.3 137.9 584 144.8 591.3 152.9 598.2 162.1 604.6 172.6 610.6 183.4 615.6" fill="none" stroke="#00ff2e" stroke-width="2"/>
<path d="M224.7 488.4 209.5 490.3 195.7 493.6 189.3 495.8 183.3 498.4 173.3 504.3 168.7 507.7 164 512.1 159.7 516.8 156.3 521.4 153.4 526.2 151 531.2 149.1 536.4 148 541.6 147.6 546.6 147.8 551.4 148.5 556 149.7 560.5 151.7 565.3 154.3 570.1 157.4 574.6 161 579 169.7 587.3 180.3 594.8 193.1 601.5 207 607" fill="none" stroke="#81ff00" stroke-width="2"/>
<path d="M241.1 506.1 228.5 507.1 216.1 509.6 205.8 513.2 196.7 518.1 189.5 523.9 184 530.8 181.9 534.7 180.5 538.4 179.5 542.6 179.1 546.8 179.3 550.8 180.2 555.3 181.5 558.8 183.5 562.9 188.7 570 196.2 576.9 205.8 583.1 216.4 588 228.3 591.9 240.9 594.6" fill="none" stroke="#ffc600" stroke-width="2"/>
<circle cx="141.6" cy="630.9" r="1.5" fill="#000"/>
<circle cx="141.6" cy="630.9" r="1.5" fill="#000"/>
<circle cx="181.9" cy="616.2" r="1.5" fill="#000"/>
<circle cx="123.4" cy="604.7" r="1.5" fill="#000"/>
<circle cx="222.1" cy="601.4" r="1.5" fill="#000"/>
<circle cx="105.2" cy="578.5" r="1.5" fill="#000"/>
<circle cx="262.3" cy="586.7" r="1.5" fill="#000"/>
<circle cx="86.9" cy="552.3" r="1.5" fill="#000"/>
<circle cx="302.6" cy="572.0" r="1.5" fill="#000"/>
<circle cx="68.7" cy="526.1" r="1.5" fill="#000"/>
<circle cx="65.7" cy="494.9" r="1.5" fill="#000"/>
<circle cx="63.6" cy="473.6" r="1.5" fill="#000"/>
<circle cx="61.5" cy="452.3" r="1.5" fill="#000"/>
<circle cx="59.4" cy="431.0" r="1.5" fill="#000"/>
<circle cx="57.3" cy="409.7" r="1.5" fill="#000"/>
<circle cx="55.3" cy="388.4" r="1.5" fill="#000"/>
<circle cx="141.3" cy="424.4" r="3" fill="#f4c4cc" stroke="#d99" stroke-width="0.6"/>
<g stroke="#1c1c1c" stroke-width="0.8" stroke-linejoin="round">
<polygon points="214.2 400.3 222 399.5 217.1 400 209.4 400.7" fill="#29f123"/>
<polygon points="206.3 401.4 214.2 400.3 209.4 400.7 201.5 401.7" fill="#3ef72a"/>
<polygon points="198.4 402.9 206.3 401.4 201.5 401.7 193.7 403.2" fill="#4ffe32"/>
<polygon points="219.1 400.2 227 399.4 222 399.5 214.2 400.3" fill="#5df325"/>
<polygon points="190.5 404.9 198.4 402.9 193.7 403.2 185.9 405.2" fill="#5aff3a"/>
<polygon points="211.1 401.4 219.1 400.2 214.2 400.3 206.3 401.4" fill="#72f92c"/>
<polygon points="182.6 407.4 190.5 404.9 185.9 405.2 178 407.6" fill="#60ff41"/>
<polygon points="203.1 403 211.1 401.4 206.3 401.4 198.4 402.9" fill="#82ff34"/>
<polygon points="174.7 410.3 182.6 407.4 178 407.6 170.2 410.5" fill="#61ff49"/>
<polygon points="223.9 400.4 231.9 399.6 227 399.4 219.1 400.2" fill="#8df426"/>
<polygon points="166.8 413.8 174.7 410.3 170.2 410.5 162.3 414" fill="#5eff50"/>
<polygon points="195.2 405 203.1 403 198.4 402.9 190.5 404.9" fill="#8aff3c"/>
<polygon points="215.9 401.7 223.9 400.4 219.1 400.2 211.1 401.4" fill="#a1fa2e"/>
<polygon points="158.9 417.7 166.8 413.8 162.3 414 154.5 417.9" fill="#58ff56"/>
<polygon points="187.2 407.5 195.2 405 190.5 404.9 182.6 407.4" fill="#8eff43"/>
<polygon points="151 422 158.9 417.7 154.5 417.9 146.8 422.3" fill="#5bff68"/>
<polygon points="143.2 426.8 151 422 146.8 422.3 139.1 427" fill="#60ff7c"/>
<polygon points="207.9 403.3 215.9 401.7 211.1 401.4 203.1 403" fill="#b0ff36"/>
<polygon points="228.8 401 236.9 400 231.9 399.6 223.9 400.4" fill="#baf528"/>
<polygon points="135.5 431.8 143.2 426.8 139.1 427 131.4 432.1" fill="#63ff91"/>
<polygon points="179.2 410.4 187.2 407.5 182.6 407.4 174.7 410.3" fill="#8eff4a"/>
<polygon points="127.8 437.1 135.5 431.8 131.4 432.1 123.8 437.4" fill="#65ffa7"/>
<polygon points="120.1 442.6 127.8 437.1 123.8 437.4 116.2 442.8" fill="#67ffbd"/>
<polygon points="112.5 448.3 120.1 442.6 116.2 442.8 108.7 448.4" fill="#68ffd3"/>
<polygon points="171.2 413.9 179.2 410.4 174.7 410.3 166.8 413.8" fill="#89ff51"/>
<polygon points="199.8 405.4 207.9 403.3 203.1 403 195.2 405" fill="#b6ff3d"/>
<polygon points="68.4 488.9 75.5 481.1 72 480.2 65 487.9" fill="#7898ff"/>
<polygon points="104.9 454.2 112.5 448.3 108.7 448.4 101.2 454.1" fill="#6bffea"/>
<polygon points="97.4 460.4 104.9 454.2 101.2 454.1 93.8 460.1" fill="#6dfdff"/>
<polygon points="75.5 481.1 82.7 473.7 79.2 473.1 72 480.2" fill="#78b5ff"/>
<polygon points="90 466.8 97.4 460.4 93.8 460.1 86.4 466.4" fill="#71e6ff"/>
<polygon points="82.7 473.7 90 466.8 86.4 466.4 79.2 473.1" fill="#75ceff"/>
<polygon points="220.8 402.2 228.8 401 223.9 400.4 215.9 401.7" fill="#cdfc30"/>
<polygon points="163.2 417.8 171.2 413.9 166.8 413.8 158.9 417.7" fill="#80ff58"/>
<polygon points="191.8 407.9 199.8 405.4 195.2 405 187.2 407.5" fill="#b8ff45"/>
<polygon points="155.3 422.1 163.2 417.8 158.9 417.7 151 422" fill="#74ff5d"/>
<polygon points="147.4 426.9 155.3 422.1 151 422 143.2 426.8" fill="#66ff62"/>
<polygon points="212.7 404 220.8 402.2 215.9 401.7 207.9 403.3" fill="#d9ff38"/>
<polygon points="233.7 401.8 241.8 400.8 236.9 400 228.8 401" fill="#e3f72a"/>
<polygon points="183.7 410.9 191.8 407.9 187.2 407.5 179.2 410.4" fill="#b6ff4c"/>
<polygon points="139.6 432 147.4 426.9 143.2 426.8 135.5 431.8" fill="#65ff73"/>
<polygon points="131.8 437.3 139.6 432 135.5 431.8 127.8 437.1" fill="#67ff89"/>
<polygon points="124.1 442.9 131.8 437.3 127.8 437.1 120.1 442.6" fill="#6aff9f"/>
<polygon points="175.7 414.3 183.7 410.9 179.2 410.4 171.2 413.9" fill="#afff53"/>
<polygon points="204.5 406.1 212.7 404 207.9 403.3 199.8 405.4" fill="#ddff3f"/>
<polygon points="71.8 490.3 79 482.2 75.5 481.1 68.4 488.9" fill="#78aeff"/>
<polygon points="116.4 448.7 124.1 442.9 120.1 442.6 112.5 448.3" fill="#6cffb6"/>
<polygon points="108.7 454.7 116.4 448.7 112.5 448.3 104.9 454.2" fill="#6effce"/>
<polygon points="79 482.2 86.3 474.7 82.7 473.7 75.5 481.1" fill="#78cbff"/>
<polygon points="225.6 403.2 233.7 401.8 228.8 401 220.8 402.2" fill="#f5fd32"/>
<polygon points="101.2 461 108.7 454.7 104.9 454.2 97.4 460.4" fill="#71ffe6"/>
<polygon points="86.3 474.7 93.7 467.6 90 466.8 82.7 473.7" fill="#78e6ff"/>
<polygon points="93.7 467.6 101.2 461 97.4 460.4 90 466.8" fill="#75ffff"/>
<polygon points="167.6 418.3 175.7 414.3 171.2 413.9 163.2 417.8" fill="#a6ff59"/>
<polygon points="196.4 408.7 204.5 406.1 199.8 405.4 191.8 407.9" fill="#ddff47"/>
<polygon points="159.6 422.6 167.6 418.3 163.2 417.8 155.3 422.1" fill="#99ff5f"/>
<polygon points="217.4 404.9 225.6 403.2 220.8 402.2 212.7 404" fill="#feff3a"/>
<polygon points="238.6 403 246.8 401.9 241.8 400.8 233.7 401.8" fill="#f9e82c"/>
<polygon points="151.7 427.4 159.6 422.6 155.3 422.1 147.4 426.9" fill="#89ff63"/>
<polygon points="188.3 411.7 196.4 408.7 191.8 407.9 183.7 410.9" fill="#daff4e"/>
<polygon points="143.8 432.4 151.7 427.4 147.4 426.9 139.6 432" fill="#77ff67"/>
<polygon points="135.9 437.8 143.8 432.4 139.6 432 131.8 437.3" fill="#6aff6f"/>
<polygon points="209.2 407.1 217.4 404.9 212.7 404 204.5 406.1" fill="#fffe41"/>
<polygon points="75.4 492 82.6 483.8 79 482.2 71.8 490.3" fill="#78c1ff"/>
<polygon points="128.1 443.5 135.9 437.8 131.8 437.3 124.1 442.9" fill="#6cff86"/>
<polygon points="180.2 415.2 188.3 411.7 183.7 410.9 175.7 414.3" fill="#d2ff55"/>
<polygon points="120.3 449.4 128.1 443.5 124.1 442.9 116.4 448.7" fill="#6fff9d"/>
<polygon points="230.4 404.4 238.6 403 233.7 401.8 225.6 403.2" fill="#ffe334"/>
<polygon points="82.6 483.8 90 476.1 86.3 474.7 79 482.2" fill="#78e0ff"/>
<polygon points="112.6 455.5 120.3 449.4 116.4 448.7 108.7 454.7" fill="#71ffb6"/>
<polygon points="90 476.1 97.4 468.8 93.7 467.6 86.3 474.7" fill="#78fbff"/>
<polygon points="105 462 112.6 455.5 108.7 454.7 101.2 461" fill="#75ffcf"/>
<polygon points="97.4 468.8 105 462 101.2 461 93.7 467.6" fill="#78ffe8"/>
<polygon points="172.1 419.1 180.2 415.2 175.7 414.3 167.6 418.3" fill="#c7ff5b"/>
<polygon points="201.1 409.7 209.2 407.1 204.5 406.1 196.4 408.7" fill="#ffff49"/>
<polygon points="164 423.4 172.1 419.1 167.6 418.3 159.6 422.6" fill="#baff61"/>
<polygon points="222.2 406.2 230.4 404.4 225.6 403.2 217.4 404.9" fill="#ffdc3c"/>
<polygon points="243.6 404.5 251.8 403.4 246.8 401.9 238.6 403" fill="#fac72e"/>
<polygon points="156 428.2 164 423.4 159.6 422.6 151.7 427.4" fill="#a9ff65"/>
<polygon points="192.9 412.8 201.1 409.7 196.4 408.7 188.3 411.7" fill="#f9ff50"/>
<polygon points="148 433.3 156 428.2 151.7 427.4 143.8 432.4" fill="#97ff69"/>
<polygon points="140 438.8 148 433.3 143.8 432.4 135.9 437.8" fill="#83ff6c"/>
<polygon points="78.9 494.1 86.3 485.7 82.6 483.8 75.4 492" fill="#78d3ff"/>
<polygon points="214 408.5 222.2 406.2 217.4 404.9 209.2 407.1" fill="#ffdb43"/>
<polygon points="184.7 416.3 192.9 412.8 188.3 411.7 180.2 415.2" fill="#f1ff57"/>
<polygon points="132.1 444.5 140 438.8 135.9 437.8 128.1 443.5" fill="#6fff70"/>
<polygon points="235.3 406 243.6 404.5 238.6 403 230.4 404.4" fill="#ffc136"/>
<polygon points="86.3 485.7 93.7 477.8 90 476.1 82.6 483.8" fill="#78f2ff"/>
<polygon points="124.3 450.5 132.1 444.5 128.1 443.5 120.3 449.4" fill="#72ff88"/>
<polygon points="93.7 477.8 101.2 470.4 97.4 468.8 90 476.1" fill="#78ffef"/>
<polygon points="116.5 456.8 124.3 450.5 120.3 449.4 112.6 455.5" fill="#75ffa1"/>
<polygon points="101.2 470.4 108.8 463.4 105 462 97.4 468.8" fill="#78ffd4"/>
<polygon points="108.8 463.4 116.5 456.8 112.6 455.5 105 462" fill="#78ffbb"/>
<polygon points="176.5 420.3 184.7 416.3 180.2 415.2 172.1 419.1" fill="#e5ff5d"/>
<polygon points="205.7 411.2 214 408.5 209.2 407.1 201.1 409.7" fill="#ffdf4a"/>
<polygon points="248.5 406.3 256.7 405.1 251.8 403.4 243.6 404.5" fill="#fcaa30"/>
<polygon points="168.4 424.6 176.5 420.3 172.1 419.1 164 423.4" fill="#d6ff63"/>
<polygon points="227 407.9 235.3 406 230.4 404.4 222.2 406.2" fill="#ffbd3e"/>
<polygon points="160.3 429.4 168.4 424.6 164 423.4 156 428.2" fill="#c6ff67"/>
<polygon points="197.5 414.3 205.7 411.2 201.1 409.7 192.9 412.8" fill="#ffe652"/>
<polygon points="152.2 434.6 160.3 429.4 156 428.2 148 433.3" fill="#b3ff6b"/>
<polygon points="82.6 496.5 89.9 488 86.3 485.7 78.9 494.1" fill="#78e2ff"/>
<polygon points="218.7 410.2 227 407.9 222.2 406.2 214 408.5" fill="#ffbe45"/>
<polygon points="144.2 440.1 152.2 434.6 148 433.3 140 438.8" fill="#9fff6f"/>
<polygon points="240.2 407.9 248.5 406.3 243.6 404.5 235.3 406" fill="#ffa438"/>
<polygon points="189.2 417.8 197.5 414.3 192.9 412.8 184.7 416.3" fill="#fff159"/>
<polygon points="89.9 488 97.4 479.9 93.7 477.8 86.3 485.7" fill="#78fffc"/>
<polygon points="136.2 445.9 144.2 440.1 140 438.8 132.1 444.5" fill="#89ff72"/>
<polygon points="97.4 479.9 105 472.3 101.2 470.4 93.7 477.8" fill="#78ffde"/>
<polygon points="128.3 452 136.2 445.9 132.1 444.5 124.3 450.5" fill="#75ff76"/>
<polygon points="120.5 458.4 128.3 452 124.3 450.5 116.5 456.8" fill="#78ff90"/>
<polygon points="105 472.3 112.7 465.2 108.8 463.4 101.2 470.4" fill="#78ffc2"/>
<polygon points="112.7 465.2 120.5 458.4 116.5 456.8 108.8 463.4" fill="#78ffa8"/>
<polygon points="181 421.8 189.2 417.8 184.7 416.3 176.5 420.3" fill="#ffff5f"/>
<polygon points="210.4 412.9 218.7 410.2 214 408.5 205.7 411.2" fill="#ffc34c"/>
<polygon points="253.4 408.5 261.7 407.2 256.7 405.1 248.5 406.3" fill="#fd9132"/>
<polygon points="231.8 409.8 240.2 407.9 235.3 406 227 407.9" fill="#ffa23f"/>
<polygon points="172.8 426.2 181 421.8 176.5 420.3 168.4 424.6" fill="#efff64"/>
<polygon points="202.1 416.1 210.4 412.9 205.7 411.2 197.5 414.3" fill="#ffcb54"/>
<polygon points="164.6 431 172.8 426.2 168.4 424.6 160.3 429.4" fill="#deff69"/>
<polygon points="86.2 499.4 93.7 490.7 89.9 488 82.6 496.5" fill="#78efff"/>
<polygon points="156.5 436.2 164.6 431 160.3 429.4 152.2 434.6" fill="#cbff6e"/>
<polygon points="223.5 412.2 231.8 409.8 227 407.9 218.7 410.2" fill="#ffa447"/>
<polygon points="245 410.1 253.4 408.5 248.5 406.3 240.2 407.9" fill="#ff8d3a"/>
<polygon points="148.4 441.8 156.5 436.2 152.2 434.6 144.2 440.1" fill="#b6ff71"/>
<polygon points="193.8 419.7 202.1 416.1 197.5 414.3 189.2 417.8" fill="#ffd85a"/>
<polygon points="93.7 490.7 101.2 482.4 97.4 479.9 89.9 488" fill="#78ffee"/>
<polygon points="140.4 447.7 148.4 441.8 144.2 440.1 136.2 445.9" fill="#a0ff74"/>
<polygon points="101.2 482.4 108.9 474.7 105 472.3 97.4 479.9" fill="#78ffcf"/>
<polygon points="132.4 453.9 140.4 447.7 136.2 445.9 128.3 452" fill="#89ff77"/>
<polygon points="108.9 474.7 116.7 467.4 112.7 465.2 105 472.3" fill="#78ffb2"/>
<polygon points="124.5 460.4 132.4 453.9 128.3 452 120.5 458.4" fill="#78ff7f"/>
<polygon points="116.7 467.4 124.5 460.4 120.5 458.4 112.7 465.2" fill="#78ff98"/>
<polygon points="185.5 423.7 193.8 419.7 189.2 417.8 181 421.8" fill="#ffe761"/>
<polygon points="215.1 415 223.5 412.2 218.7 410.2 210.4 412.9" fill="#ffab4e"/>
<polygon points="258.3 411 266.7 409.7 261.7 407.2 253.4 408.5" fill="#ff8034"/>
<polygon points="236.6 412.2 245 410.1 240.2 407.9 231.8 409.8" fill="#ff8d41"/>
<polygon points="177.2 428.2 185.5 423.7 181 421.8 172.8 426.2" fill="#fff966"/>
<polygon points="206.7 418.2 215.1 415 210.4 412.9 202.1 416.1" fill="#ffb555"/>
<polygon points="169 433 177.2 428.2 172.8 426.2 164.6 431" fill="#f3ff6b"/>
<polygon points="89.9 502.5 97.5 493.7 93.7 490.7 86.2 499.4" fill="#78faff"/>
<polygon points="228.2 414.6 236.6 412.2 231.8 409.8 223.5 412.2" fill="#ff9149"/>
<polygon points="249.9 412.7 258.3 411 253.4 408.5 245 410.1" fill="#ff7e3c"/>
<polygon points="160.8 438.3 169 433 164.6 431 156.5 436.2" fill="#e0ff70"/>
<polygon points="97.5 493.7 105.1 485.3 101.2 482.4 93.7 490.7" fill="#78ffe2"/>
<polygon points="198.4 421.9 206.7 418.2 202.1 416.1 193.8 419.7" fill="#ffc25c"/>
<polygon points="152.6 443.9 160.8 438.3 156.5 436.2 148.4 441.8" fill="#cbff73"/>
<polygon points="105.1 485.3 112.8 477.4 108.9 474.7 101.2 482.4" fill="#78ffc2"/>
<polygon points="144.5 449.9 152.6 443.9 148.4 441.8 140.4 447.7" fill="#b4ff77"/>
<polygon points="112.8 477.4 120.6 469.9 116.7 467.4 108.9 474.7" fill="#78ffa5"/>
<polygon points="136.5 456.2 144.5 449.9 140.4 447.7 132.4 453.9" fill="#9cff78"/>
<polygon points="120.6 469.9 128.5 462.9 124.5 460.4 116.7 467.4" fill="#78ff8a"/>
<polygon points="128.5 462.9 136.5 456.2 132.4 453.9 124.5 460.4" fill="#80ff78"/>
<polygon points="263.2 413.9 271.6 412.5 266.7 409.7 258.3 411" fill="#ff7336"/>
<polygon points="219.8 417.5 228.2 414.6 223.5 412.2 215.1 415" fill="#ff9850"/>
<polygon points="190 426 198.4 421.9 193.8 419.7 185.5 423.7" fill="#ffd262"/>
<polygon points="241.4 414.8 249.9 412.7 245 410.1 236.6 412.2" fill="#ff7f43"/>
<polygon points="181.7 430.5 190 426 185.5 423.7 177.2 428.2" fill="#ffe568"/>
<polygon points="211.4 420.8 219.8 417.5 215.1 415 206.7 418.2" fill="#ffa257"/>
<polygon points="173.4 435.4 181.7 430.5 177.2 428.2 169 433" fill="#fff96d"/>
<polygon points="93.7 506.1 101.3 497.1 97.5 493.7 89.9 502.5" fill="#78fffb"/>
<polygon points="254.7 415.7 263.2 413.9 258.3 411 249.9 412.7" fill="#ff723d"/>
<polygon points="232.9 417.3 241.4 414.8 236.6 412.2 228.2 414.6" fill="#ff844a"/>
<polygon points="165.1 440.7 173.4 435.4 169 433 160.8 438.3" fill="#f1ff71"/>
<polygon points="101.3 497.1 109 488.6 105.1 485.3 97.5 493.7" fill="#78ffd8"/>
<polygon points="202.9 424.5 211.4 420.8 206.7 418.2 198.4 421.9" fill="#ffb15e"/>
<polygon points="156.9 446.4 165.1 440.7 160.8 438.3 152.6 443.9" fill="#dbff75"/>
<polygon points="109 488.6 116.7 480.5 112.8 477.4 105.1 485.3" fill="#78ffb8"/>
<polygon points="148.7 452.4 156.9 446.4 152.6 443.9 144.5 449.9" fill="#c4ff78"/>
<polygon points="116.7 480.5 124.6 472.9 120.6 469.9 112.8 477.4" fill="#78ff9a"/>
<polygon points="268 417.1 276.5 415.6 271.6 412.5 263.2 413.9" fill="#ff6937"/>
<polygon points="140.6 458.9 148.7 452.4 144.5 449.9 136.5 456.2" fill="#aaff78"/>
<polygon points="124.6 472.9 132.6 465.7 128.5 462.9 120.6 469.9" fill="#78ff7e"/>
<polygon points="132.6 465.7 140.6 458.9 136.5 456.2 128.5 462.9" fill="#8eff78"/>
<polygon points="224.5 420.3 232.9 417.3 228.2 414.6 219.8 417.5" fill="#ff8c52"/>
<polygon points="194.5 428.6 202.9 424.5 198.4 421.9 190 426" fill="#ffc164"/>
<polygon points="246.2 417.8 254.7 415.7 249.9 412.7 241.4 414.8" fill="#ff7445"/>
<polygon points="186.1 433.2 194.5 428.6 190 426 181.7 430.5" fill="#ffd46a"/>
<polygon points="216 423.6 224.5 420.3 219.8 417.5 211.4 420.8" fill="#ff9659"/>
<polygon points="97.5 510.1 105.1 500.9 101.3 497.1 93.7 506.1" fill="#78fff4"/>
<polygon points="259.5 418.9 268 417.1 263.2 413.9 254.7 415.7" fill="#ff693f"/>
<polygon points="177.8 438.1 186.1 433.2 181.7 430.5 173.4 435.4" fill="#ffe96f"/>
<polygon points="237.7 420.4 246.2 417.8 241.4 414.8 232.9 417.3" fill="#ff7a4c"/>
<polygon points="105.1 500.9 112.9 492.2 109 488.6 101.3 497.1" fill="#78ffd1"/>
<polygon points="169.4 443.5 177.8 438.1 173.4 435.4 165.1 440.7" fill="#feff73"/>
<polygon points="207.5 427.4 216 423.6 211.4 420.8 202.9 424.5" fill="#ffa35f"/>
<polygon points="112.9 492.2 120.7 484 116.7 480.5 109 488.6" fill="#78ffb0"/>
<polygon points="161.2 449.3 169.4 443.5 165.1 440.7 156.9 446.4" fill="#e9ff77"/>
<polygon points="272.9 420.6 281.4 419.1 276.5 415.6 268 417.1" fill="#ff6339"/>
<polygon points="120.7 484 128.7 476.3 124.6 472.9 116.7 480.5" fill="#78ff91"/>
<polygon points="152.9 455.4 161.2 449.3 156.9 446.4 148.7 452.4" fill="#d1ff78"/>
<polygon points="128.7 476.3 136.7 468.9 132.6 465.7 124.6 472.9" fill="#7bff78"/>
<polygon points="144.8 462 152.9 455.4 148.7 452.4 140.6 458.9" fill="#b7ff78"/>
<polygon points="229.2 423.5 237.7 420.4 232.9 417.3 224.5 420.3" fill="#ff8353"/>
<polygon points="136.7 468.9 144.8 462 140.6 458.9 132.6 465.7" fill="#9aff78"/>
<polygon points="251 421.2 259.5 418.9 254.7 415.7 246.2 417.8" fill="#ff6c46"/>
<polygon points="199 431.6 207.5 427.4 202.9 424.5 194.5 428.6" fill="#ffb466"/>
<polygon points="190.6 436.2 199 431.6 194.5 428.6 186.1 433.2" fill="#ffc86b"/>
<polygon points="101.3 514.4 109 505.1 105.1 500.9 97.5 510.1" fill="#78ffef"/>
<polygon points="220.6 426.9 229.2 423.5 224.5 420.3 216 423.6" fill="#ff8e5a"/>
<polygon points="264.3 422.6 272.9 420.6 268 417.1 259.5 418.9" fill="#ff6340"/>
<polygon points="242.4 423.9 251 421.2 246.2 417.8 237.7 420.4" fill="#ff734e"/>
<polygon points="182.2 441.3 190.6 436.2 186.1 433.2 177.8 438.1" fill="#ffdd70"/>
<polygon points="109 505.1 116.8 496.3 112.9 492.2 105.1 500.9" fill="#78ffcb"/>
<polygon points="173.8 446.7 182.2 441.3 177.8 438.1 169.4 443.5" fill="#fff475"/>
<polygon points="212.1 430.7 220.6 426.9 216 423.6 207.5 427.4" fill="#ff9b61"/>
<polygon points="116.8 496.3 124.7 487.9 120.7 484 112.9 492.2" fill="#78ffaa"/>
<polygon points="277.7 424.6 286.3 422.9 281.4 419.1 272.9 420.6" fill="#ff5f3a"/>
<polygon points="165.5 452.6 173.8 446.7 169.4 443.5 161.2 449.3" fill="#f3ff78"/>
<polygon points="124.7 487.9 132.7 480 128.7 476.3 120.7 484" fill="#78ff8b"/>
<polygon points="157.2 458.8 165.5 452.6 161.2 449.3 152.9 455.4" fill="#dbff78"/>
<polygon points="233.8 427 242.4 423.9 237.7 420.4 229.2 423.5" fill="#ff7c55"/>
<polygon points="132.7 480 140.8 472.5 136.7 468.9 128.7 476.3" fill="#83ff78"/>
<polygon points="255.7 425 264.3 422.6 259.5 418.9 251 421.2" fill="#ff6748"/>
<polygon points="149 465.5 157.2 458.8 152.9 455.4 144.8 462" fill="#c0ff78"/>
<polygon points="140.8 472.5 149 465.5 144.8 462 136.7 468.9" fill="#a3ff78"/>
<polygon points="203.6 435 212.1 430.7 207.5 427.4 199 431.6" fill="#ffaa67"/>
<polygon points="105.1 519.1 112.9 509.7 109 505.1 101.3 514.4" fill="#78ffed"/>
<polygon points="195.1 439.7 203.6 435 199 431.6 190.6 436.2" fill="#ffbe6c"/>
<polygon points="269.1 426.6 277.7 424.6 272.9 420.6 264.3 422.6" fill="#ff6142"/>
<polygon points="225.2 430.5 233.8 427 229.2 423.5 220.6 426.9" fill="#ff885c"/>
<polygon points="247.1 427.7 255.7 425 251 421.2 242.4 423.9" fill="#ff6f4f"/>
<polygon points="112.9 509.7 120.8 500.7 116.8 496.3 109 505.1" fill="#78ffc8"/>
<polygon points="186.6 444.8 195.1 439.7 190.6 436.2 182.2 441.3" fill="#ffd471"/>
<polygon points="282.5 428.9 291.1 427.1 286.3 422.9 277.7 424.6" fill="#ff5f3b"/>
<polygon points="120.8 500.7 128.7 492.2 124.7 487.9 116.8 496.3" fill="#78ffa6"/>
<polygon points="178.2 450.3 186.6 444.8 182.2 441.3 173.8 446.7" fill="#ffeb76"/>
<polygon points="216.7 434.4 225.2 430.5 220.6 426.9 212.1 430.7" fill="#ff9662"/>
<polygon points="128.7 492.2 136.8 484.2 132.7 480 124.7 487.9" fill="#78ff86"/>
<polygon points="169.8 456.3 178.2 450.3 173.8 446.7 165.5 452.6" fill="#faff78"/>
<polygon points="260.5 429.1 269.1 426.6 264.3 422.6 255.7 425" fill="#ff6549"/>
<polygon points="238.5 430.9 247.1 427.7 242.4 423.9 233.8 427" fill="#ff7856"/>
<polygon points="136.8 484.2 144.9 476.6 140.8 472.5 132.7 480" fill="#89ff78"/>
<polygon points="161.4 462.6 169.8 456.3 165.5 452.6 157.2 458.8" fill="#e2ff78"/>
<polygon points="144.9 476.6 153.1 469.4 149 465.5 140.8 472.5" fill="#a9ff78"/>
<polygon points="153.1 469.4 161.4 462.6 157.2 458.8 149 465.5" fill="#c6ff78"/>
<polygon points="208.1 438.8 216.7 434.4 212.1 430.7 203.6 435" fill="#ffa568"/>
<polygon points="109 524.2 116.8 514.7 112.9 509.7 105.1 519.1" fill="#78ffec"/>
<polygon points="273.9 431 282.5 428.9 277.7 424.6 269.1 426.6" fill="#ff6143"/>
<polygon points="199.5 443.5 208.1 438.8 203.6 435 195.1 439.7" fill="#ffb86e"/>
<polygon points="229.9 434.5 238.5 430.9 233.8 427 225.2 430.5" fill="#ff855d"/>
<polygon points="251.8 431.9 260.5 429.1 255.7 425 247.1 427.7" fill="#ff6d50"/>
<polygon points="116.8 514.7 124.7 505.6 120.8 500.7 112.9 509.7" fill="#78ffc7"/>
<polygon points="287.3 433.5 295.9 431.7 291.1 427.1 282.5 428.9" fill="#ff623c"/>
<polygon points="191 448.7 199.5 443.5 195.1 439.7 186.6 444.8" fill="#ffce72"/>
<polygon points="124.7 505.6 132.8 496.9 128.7 492.2 120.8 500.7" fill="#78ffa5"/>
<polygon points="221.2 438.5 229.9 434.5 225.2 430.5 216.7 434.4" fill="#ff9363"/>
<polygon points="182.5 454.3 191 448.7 186.6 444.8 178.2 450.3" fill="#ffe677"/>
<polygon points="132.8 496.9 140.9 488.7 136.8 484.2 128.7 492.2" fill="#78ff85"/>
<polygon points="265.2 433.5 273.9 431 269.1 426.6 260.5 429.1" fill="#ff664a"/>
<polygon points="174.1 460.4 182.5 454.3 178.2 450.3 169.8 456.3" fill="#ffff78"/>
<polygon points="243.1 435.2 251.8 431.9 247.1 427.7 238.5 430.9" fill="#ff7757"/>
<polygon points="140.9 488.7 149.1 481 144.9 476.6 136.8 484.2" fill="#8cff78"/>
<polygon points="165.7 466.8 174.1 460.4 169.8 456.3 161.4 462.6" fill="#e6ff78"/>
<polygon points="149.1 481 157.3 473.7 153.1 469.4 144.9 476.6" fill="#acff78"/>
<polygon points="157.3 473.7 165.7 466.8 161.4 462.6 153.1 469.4" fill="#caff78"/>
<polygon points="212.6 442.9 221.2 438.5 216.7 434.4 208.1 438.8" fill="#ffa269"/>
<polygon points="112.9 529.7 120.8 520 116.8 514.7 109 524.2" fill="#78ffee"/>
<polygon points="278.6 435.7 287.3 433.5 282.5 428.9 273.9 431" fill="#ff6444"/>
<polygon points="234.5 438.8 243.1 435.2 238.5 430.9 229.9 434.5" fill="#ff845e"/>
<polygon points="204 447.8 212.6 442.9 208.1 438.8 199.5 443.5" fill="#ffb56e"/>
<polygon points="256.5 436.5 265.2 433.5 260.5 429.1 251.8 431.9" fill="#ff6e51"/>
<polygon points="120.8 520 128.7 510.8 124.7 505.6 116.8 514.7" fill="#78ffc8"/>
<polygon points="292 438.6 300.7 436.7 295.9 431.7 287.3 433.5" fill="#ff683d"/>
<polygon points="195.4 453 204 447.8 199.5 443.5 191 448.7" fill="#ffcc73"/>
<polygon points="128.7 510.8 136.8 502 132.8 496.9 124.7 505.6" fill="#78ffa5"/>
<polygon points="225.8 442.9 234.5 438.8 229.9 434.5 221.2 438.5" fill="#ff9264"/>
<polygon points="269.9 438.4 278.6 435.7 273.9 431 265.2 433.5" fill="#ff6a4b"/>
<polygon points="186.9 458.8 195.4 453 191 448.7 182.5 454.3" fill="#ffe478"/>
<polygon points="136.8 502 145 493.7 140.9 488.7 132.8 496.9" fill="#78ff85"/>
<polygon points="247.8 439.8 256.5 436.5 251.8 431.9 243.1 435.2" fill="#ff7958"/>
<polygon points="178.4 464.9 186.9 458.8 182.5 454.3 174.1 460.4" fill="#fffd78"/>
<polygon points="145 493.7 153.2 485.9 149.1 481 140.9 488.7" fill="#8cff78"/>
<polygon points="169.9 471.4 178.4 464.9 174.1 460.4 165.7 466.8" fill="#e8ff78"/>
<polygon points="153.2 485.9 161.6 478.4 157.3 473.7 149.1 481" fill="#adff78"/>
<polygon points="116.8 535.6 124.7 525.8 120.8 520 112.9 529.7" fill="#78fff2"/>
<polygon points="161.6 478.4 169.9 471.4 165.7 466.8 157.3 473.7" fill="#ccff78"/>
<polygon points="217.1 447.4 225.8 442.9 221.2 438.5 212.6 442.9" fill="#ffa26a"/>
<polygon points="283.3 440.9 292 438.6 287.3 433.5 278.6 435.7" fill="#ff6a45"/>
<polygon points="239 443.6 247.8 439.8 243.1 435.2 234.5 438.8" fill="#ff865f"/>
<polygon points="261.1 441.4 269.9 438.4 265.2 433.5 256.5 436.5" fill="#ff7252"/>
<polygon points="124.7 525.8 132.7 516.4 128.7 510.8 120.8 520" fill="#78ffcc"/>
<polygon points="296.7 444 305.4 442 300.7 436.7 292 438.6" fill="#ff703e"/>
<polygon points="208.5 452.4 217.1 447.4 212.6 442.9 204 447.8" fill="#ffb56f"/>
<polygon points="132.7 516.4 140.9 507.5 136.8 502 128.7 510.8" fill="#78ffa8"/>
<polygon points="199.8 457.8 208.5 452.4 204 447.8 195.4 453" fill="#ffcc74"/>
<polygon points="274.5 443.6 283.3 440.9 278.6 435.7 269.9 438.4" fill="#ff704c"/>
<polygon points="230.3 447.8 239 443.6 234.5 438.8 225.8 442.9" fill="#ff9465"/>
<polygon points="140.9 507.5 149.1 499.1 145 493.7 136.8 502" fill="#78ff87"/>
<polygon points="191.3 463.6 199.8 457.8 195.4 453 186.9 458.8" fill="#ffe478"/>
<polygon points="252.4 444.8 261.1 441.4 256.5 436.5 247.8 439.8" fill="#ff7d59"/>
<polygon points="149.1 499.1 157.4 491.1 153.2 485.9 145 493.7" fill="#89ff78"/>
<polygon points="120.7 542 128.7 532 124.7 525.8 116.8 535.6" fill="#78fff8"/>
<polygon points="182.7 469.8 191.3 463.6 186.9 458.8 178.4 464.9" fill="#fffe78"/>
<polygon points="287.9 446.4 296.7 444 292 438.6 283.3 440.9" fill="#ff7345"/>
<polygon points="157.4 491.1 165.8 483.6 161.6 478.4 153.2 485.9" fill="#abff78"/>
<polygon points="174.2 476.5 182.7 469.8 178.4 464.9 169.9 471.4" fill="#e7ff78"/>
<polygon points="165.8 483.6 174.2 476.5 169.9 471.4 161.6 478.4" fill="#caff78"/>
<polygon points="221.6 452.4 230.3 447.8 225.8 442.9 217.1 447.4" fill="#ffa46a"/>
<polygon points="301.3 449.8 310.1 447.7 305.4 442 296.7 444" fill="#ff7c3f"/>
<polygon points="128.7 532 136.8 522.5 132.7 516.4 124.7 525.8" fill="#78ffd1"/>
<polygon points="265.7 446.7 274.5 443.6 269.9 438.4 261.1 441.4" fill="#ff7853"/>
<polygon points="243.6 448.7 252.4 444.8 247.8 439.8 239 443.6" fill="#ff8a5f"/>
<polygon points="212.9 457.4 221.6 452.4 217.1 447.4 208.5 452.4" fill="#ffb870"/>
<polygon points="136.8 522.5 144.9 513.5 140.9 507.5 132.7 516.4" fill="#78ffae"/>
<polygon points="279.1 449.2 287.9 446.4 283.3 440.9 274.5 443.6" fill="#ff794c"/>
<polygon points="204.2 462.9 212.9 457.4 208.5 452.4 199.8 457.8" fill="#ffcf74"/>
<polygon points="234.8 453 243.6 448.7 239 443.6 230.3 447.8" fill="#ff9865"/>
<polygon points="144.9 513.5 153.2 504.9 149.1 499.1 140.9 507.5" fill="#78ff8c"/>
<polygon points="257 450.3 265.7 446.7 261.1 441.4 252.4 444.8" fill="#ff8359"/>
<polygon points="124.6 548.7 132.6 538.6 128.7 532 120.7 542" fill="#78feff"/>
<polygon points="195.6 468.8 204.2 462.9 199.8 457.8 191.3 463.6" fill="#ffe778"/>
<polygon points="292.6 452.3 301.3 449.8 296.7 444 287.9 446.4" fill="#ff7e46"/>
<polygon points="153.2 504.9 161.6 496.8 157.4 491.1 149.1 499.1" fill="#84ff78"/>
<polygon points="187 475.1 195.6 468.8 191.3 463.6 182.7 469.8" fill="#fdff78"/>
<polygon points="161.6 496.8 170 489.1 165.8 483.6 157.4 491.1" fill="#a6ff78"/>
<polygon points="178.5 481.9 187 475.1 182.7 469.8 174.2 476.5" fill="#e3ff78"/>
<polygon points="170 489.1 178.5 481.9 174.2 476.5 165.8 483.6" fill="#c6ff78"/>
<polygon points="306 456 314.7 453.8 310.1 447.7 301.3 449.8" fill="#ff8a3f"/>
<polygon points="226.1 457.7 234.8 453 230.3 447.8 221.6 452.4" fill="#ffa96b"/>
<polygon points="132.6 538.6 140.8 529 136.8 522.5 128.7 532" fill="#78ffd9"/>
<polygon points="270.3 452.4 279.1 449.2 274.5 443.6 265.7 446.7" fill="#ff8153"/>
<polygon points="248.1 454.2 257 450.3 252.4 444.8 243.6 448.7" fill="#ff9060"/>
<polygon points="217.4 462.8 226.1 457.7 221.6 452.4 212.9 457.4" fill="#ffbd70"/>
<polygon points="140.8 529 149 519.8 144.9 513.5 136.8 522.5" fill="#78ffb5"/>
<polygon points="283.7 455.2 292.6 452.3 287.9 446.4 279.1 449.2" fill="#ff844d"/>
<polygon points="208.6 468.4 217.4 462.8 212.9 457.4 204.2 462.9" fill="#ffd574"/>
<polygon points="128.5 555.8 136.6 545.6 132.6 538.6 124.6 548.7" fill="#78f5ff"/>
<polygon points="149 519.8 157.3 511.1 153.2 504.9 144.9 513.5" fill="#78ff93"/>
<polygon points="239.3 458.6 248.1 454.2 243.6 448.7 234.8 453" fill="#ff9f65"/>
<polygon points="261.5 456.1 270.3 452.4 265.7 446.7 257 450.3" fill="#ff8c5a"/>
<polygon points="297.1 458.6 306 456 301.3 449.8 292.6 452.3" fill="#ff8d46"/>
<polygon points="200 474.4 208.6 468.4 204.2 462.9 195.6 468.8" fill="#ffed78"/>
<polygon points="157.3 511.1 165.7 502.9 161.6 496.8 153.2 504.9" fill="#7dff78"/>
<polygon points="191.3 480.8 200 474.4 195.6 468.8 187 475.1" fill="#f7ff78"/>
<polygon points="165.7 502.9 174.2 495.1 170 489.1 161.6 496.8" fill="#9fff78"/>
<polygon points="182.7 487.7 191.3 480.8 187 475.1 178.5 481.9" fill="#ddff78"/>
<polygon points="174.2 495.1 182.7 487.7 178.5 481.9 170 489.1" fill="#bfff78"/>
<polygon points="136.6 545.6 144.8 535.8 140.8 529 132.6 538.6" fill="#78ffe3"/>
<polygon points="230.5 463.4 239.3 458.6 234.8 453 226.1 457.7" fill="#ffb06b"/>
<polygon points="274.9 458.5 283.7 455.2 279.1 449.2 270.3 452.4" fill="#ff8d53"/>
<polygon points="252.7 460.1 261.5 456.1 257 450.3 248.1 454.2" fill="#ff9960"/>
<polygon points="144.8 535.8 153.1 526.5 149 519.8 140.8 529" fill="#78ffbe"/>
<polygon points="221.8 468.6 230.5 463.4 226.1 457.7 217.4 462.8" fill="#ffc670"/>
<polygon points="288.3 461.6 297.1 458.6 292.6 452.3 283.7 455.2" fill="#ff924d"/>
<polygon points="132.5 563.4 140.6 553 136.6 545.6 128.5 555.8" fill="#78e9ff"/>
<polygon points="153.1 526.5 161.4 517.7 157.3 511.1 149 519.8" fill="#78ff9c"/>
<polygon points="213 474.3 221.8 468.6 217.4 462.8 208.6 468.4" fill="#ffdd74"/>
<polygon points="243.8 464.6 252.7 460.1 248.1 454.2 239.3 458.6" fill="#ffa865"/>
<polygon points="266 462.3 274.9 458.5 270.3 452.4 261.5 456.1" fill="#ff975a"/>
<polygon points="161.4 517.7 169.9 509.3 165.7 502.9 157.3 511.1" fill="#78ff7c"/>
<polygon points="204.3 480.4 213 474.3 208.6 468.4 200 474.4" fill="#fff678"/>
<polygon points="140.6 553 148.8 543.1 144.8 535.8 136.6 545.6" fill="#78ffef"/>
<polygon points="169.9 509.3 178.4 501.4 174.2 495.1 165.7 502.9" fill="#96ff78"/>
<polygon points="195.6 487 204.3 480.4 200 474.4 191.3 480.8" fill="#efff78"/>
<polygon points="178.4 501.4 187 494 182.7 487.7 174.2 495.1" fill="#b6ff78"/>
<polygon points="187 494 195.6 487 191.3 480.8 182.7 487.7" fill="#d4ff78"/>
<polygon points="279.4 465 288.3 461.6 283.7 455.2 274.9 458.5" fill="#ff9b54"/>
<polygon points="235 469.5 243.8 464.6 239.3 458.6 230.5 463.4" fill="#ffbc6b"/>
<polygon points="257.1 466.4 266 462.3 261.5 456.1 252.7 460.1" fill="#ffa460"/>
<polygon points="148.8 543.1 157.1 533.7 153.1 526.5 144.8 535.8" fill="#78ffca"/>
<polygon points="136.4 571.4 144.5 560.9 140.6 553 132.5 563.4" fill="#78dbff"/>
<polygon points="226.2 474.9 235 469.5 230.5 463.4 221.8 468.6" fill="#ffd16f"/>
<polygon points="157.1 533.7 165.5 524.7 161.4 517.7 153.1 526.5" fill="#78ffa7"/>
<polygon points="270.5 468.8 279.4 465 274.9 458.5 266 462.3" fill="#ffa65a"/>
<polygon points="217.4 480.6 226.2 474.9 221.8 468.6 213 474.3" fill="#ffe974"/>
<polygon points="248.3 471 257.1 466.4 252.7 460.1 243.8 464.6" fill="#ffb665"/>
<polygon points="144.5 560.9 152.8 550.8 148.8 543.1 140.6 553" fill="#78fffd"/>
<polygon points="165.5 524.7 174 516.3 169.9 509.3 161.4 517.7" fill="#78ff87"/>
<polygon points="208.6 486.9 217.4 480.6 213 474.3 204.3 480.4" fill="#fcff78"/>
<polygon points="174 516.3 182.6 508.2 178.4 501.4 169.9 509.3" fill="#89ff78"/>
<polygon points="199.9 493.5 208.6 486.9 204.3 480.4 195.6 487" fill="#e4ff78"/>
<polygon points="182.6 508.2 191.2 500.7 187 494 178.4 501.4" fill="#aaff78"/>
<polygon points="191.2 500.7 199.9 493.5 195.6 487 187 494" fill="#c8ff78"/>
<polygon points="239.4 476 248.3 471 243.8 464.6 235 469.5" fill="#ffca6a"/>
<polygon points="140.3 579.8 148.5 569.1 144.5 560.9 136.4 571.4" fill="#78cbff"/>
<polygon points="152.8 550.8 161.2 541.3 157.1 533.7 148.8 543.1" fill="#78ffd7"/>
<polygon points="261.6 473.1 270.5 468.8 266 462.3 257.1 466.4" fill="#ffb65f"/>
<polygon points="230.5 481.5 239.4 476 235 469.5 226.2 474.9" fill="#ffe06f"/>
<polygon points="161.2 541.3 169.6 532.2 165.5 524.7 157.1 533.7" fill="#78ffb4"/>
<polygon points="148.5 569.1 156.8 559 152.8 550.8 144.5 560.9" fill="#78f1ff"/>
<polygon points="252.7 477.8 261.6 473.1 257.1 466.4 248.3 471" fill="#ffc865"/>
<polygon points="221.7 487.4 230.5 481.5 226.2 474.9 217.4 480.6" fill="#fff773"/>
<polygon points="169.6 532.2 178.1 523.6 174 516.3 165.5 524.7" fill="#78ff94"/>
<polygon points="212.9 493.7 221.7 487.4 217.4 480.6 208.6 486.9" fill="#efff77"/>
<polygon points="178.1 523.6 186.7 515.4 182.6 508.2 174 516.3" fill="#7bff78"/>
<polygon points="204.1 500.5 212.9 493.7 208.6 486.9 199.9 493.5" fill="#d6ff78"/>
<polygon points="186.7 515.4 195.4 507.7 191.2 500.7 182.6 508.2" fill="#9cff78"/>
<polygon points="156.8 559 165.2 549.3 161.2 541.3 152.8 550.8" fill="#78ffe7"/>
<polygon points="195.4 507.7 204.1 500.5 199.9 493.5 191.2 500.7" fill="#baff78"/>
<polygon points="243.7 482.9 252.7 477.8 248.3 471 239.4 476" fill="#ffdb6a"/>
<polygon points="165.2 549.3 173.7 540.1 169.6 532.2 161.2 541.3" fill="#78ffc4"/>
<polygon points="234.9 488.5 243.7 482.9 239.4 476 230.5 481.5" fill="#fff16e"/>
<polygon points="173.7 540.1 182.2 531.3 178.1 523.6 169.6 532.2" fill="#78ffa3"/>
<polygon points="226 494.5 234.9 488.5 230.5 481.5 221.7 487.4" fill="#f6ff73"/>
<polygon points="182.2 531.3 190.9 523 186.7 515.4 178.1 523.6" fill="#78ff84"/>
<polygon points="217.1 501 226 494.5 221.7 487.4 212.9 493.7" fill="#dfff76"/>
<polygon points="190.9 523 199.6 515.2 195.4 507.7 186.7 515.4" fill="#8bff78"/>
<polygon points="208.3 507.9 217.1 501 212.9 493.7 204.1 500.5" fill="#c6ff78"/>
<polygon points="199.6 515.2 208.3 507.9 204.1 500.5 195.4 507.7" fill="#aaff78"/>
</g>
<line x1="263.9" y1="400.4" x2="266.7" y2="409.7" stroke="#111" stroke-width="1.00"/>
<circle cx="263.9" cy="400.4" r="2.7" fill="#c00000" stroke="#300" stroke-width="1"/>
<line x1="182.2" y1="437.8" x2="182.2" y2="441.3" stroke="#111" stroke-width="1.00"/>
<circle cx="182.2" cy="437.8" r="2.7" fill="#c00000" stroke="#300" stroke-width="1"/>
<line x1="229.5" y1="486.6" x2="226.0" y2="494.5" stroke="#111" stroke-width="1.00"/>
<circle cx="229.5" cy="486.6" r="2.7" fill="#c00000" stroke="#300" stroke-width="1"/>
<circle cx="98.4" cy="513.1" r="2.7" fill="#c00000" stroke="#300" stroke-width="1"/>
<text x="149.7" y="645.0" font-size="15.5">500</text>
<text x="190.0" y="630.7" font-size="15.5">550</text>
<text x="229.7" y="615.4" font-size="15.5">600</text>
<text x="270.4" y="601.4" font-size="15.5">650</text>
<text x="312.0" y="586.9" font-size="15.5">700</text>
<text x="132.7" y="645.0" font-size="15.5" text-anchor="end">2</text>
<text x="114.9" y="618.9" font-size="15.5" text-anchor="end">2.5</text>
<text x="96.6" y="592.9" font-size="15.5" text-anchor="end">3</text>
<text x="78.6" y="567.0" font-size="15.5" text-anchor="end">3.5</text>
<text x="60.1" y="540.3" font-size="15.5" text-anchor="end">4</text>
<text x="57.4" y="490.8" font-size="15.5" text-anchor="end">2</text>
<text x="54.7" y="470.1" font-size="15.5" text-anchor="end">2.5</text>
<text x="52.5" y="448.6" font-size="15.5" text-anchor="end">3</text>
<text x="50.1" y="427.6" font-size="15.5" text-anchor="end">3.5</text>
<text x="49.4" y="406.3" font-size="15.5" text-anchor="end">4</text>
<text x="46.1" y="384.4" font-size="15.5" text-anchor="end">4.5</text>
<text transform="translate(25.4 460.0) rotate(-90)" font-size="14" text-anchor="middle">CO2 Adsorbed&#160; (mmol/g)</text>
<text x="188.2" y="647.8" font-size="14" textLength="129.2" lengthAdjust="spacingAndGlyphs">X1: Temperature (°C)</text>
<text x="0.8" y="603.9" font-size="14" textLength="105.5" lengthAdjust="spacingAndGlyphs">X3: KOH/C Ratio</text>
<line x1="56.1" y1="859.0" x2="154.2" y2="786.9" stroke="#111" stroke-width="1.00"/>
<line x1="154.2" y1="786.9" x2="293.1" y2="829.5" stroke="#111" stroke-width="1.00"/>
<line x1="54.2" y1="835.5" x2="153.7" y2="765.4" stroke="#111" stroke-width="1.00"/>
<line x1="153.7" y1="765.4" x2="294.7" y2="807.0" stroke="#111" stroke-width="1.00"/>
<line x1="52.4" y1="812.0" x2="153.2" y2="743.8" stroke="#111" stroke-width="1.00"/>
<line x1="153.2" y1="743.8" x2="296.3" y2="784.5" stroke="#111" stroke-width="1.00"/>
<line x1="50.6" y1="788.5" x2="152.8" y2="722.2" stroke="#111" stroke-width="1.00"/>
<line x1="152.8" y1="722.2" x2="298.0" y2="762.0" stroke="#111" stroke-width="1.00"/>
<line x1="48.8" y1="765.0" x2="152.3" y2="700.7" stroke="#111" stroke-width="1.00"/>
<line x1="152.3" y1="700.7" x2="299.6" y2="739.5" stroke="#111" stroke-width="1.00"/>
<line x1="80.6" y1="841.0" x2="73.2" y2="725.9" stroke="#111" stroke-width="1.00"/>
<line x1="258.3" y1="818.9" x2="263.9" y2="707.5" stroke="#111" stroke-width="1.00"/>
<line x1="105.1" y1="823.0" x2="99.4" y2="710.3" stroke="#111" stroke-width="1.00"/>
<line x1="223.6" y1="808.2" x2="226.5" y2="698.1" stroke="#111" stroke-width="1.00"/>
<line x1="129.7" y1="804.9" x2="125.6" y2="694.7" stroke="#111" stroke-width="1.00"/>
<line x1="188.9" y1="797.6" x2="189.1" y2="688.6" stroke="#111" stroke-width="1.00"/>
<line x1="46.9" y1="741.5" x2="151.8" y2="679.1" stroke="#111" stroke-width="1.10"/>
<line x1="151.8" y1="679.1" x2="301.2" y2="717.0" stroke="#111" stroke-width="1.10"/>
<line x1="58.9" y1="896.2" x2="46.9" y2="741.5" stroke="#111" stroke-width="1.10"/>
<line x1="155.0" y1="821.1" x2="151.8" y2="679.1" stroke="#111" stroke-width="1.10"/>
<line x1="290.5" y1="865.2" x2="301.2" y2="717.0" stroke="#111" stroke-width="1.10"/>
<polygon points="206.8 954.8 290.5 865.2 155.0 821.1 58.9 896.2" fill="#666" stroke="#111" stroke-width="1.4" stroke-linejoin="round"/>
<path d="M158.5 822.2 147.7 834.1 137 844.7 126 854.5 114.2 864 102.1 872.8 89.1 881.1 75.2 889.2 60.4 896.8" fill="none" stroke="#28ff00" stroke-width="2"/>
<path d="M167.8 825.2 157.1 837.9 146.9 848.8 135.7 859.3 124.7 868.5 112.6 877.4 99.6 885.9 86.3 893.5 71.4 901.1" fill="none" stroke="#76ff00" stroke-width="2"/>
<path d="M178.2 828.7 168.5 841.8 158.6 853.5 148.5 863.9 137.9 873.4 126.1 882.4 113.7 890.5 99.5 898.6 84.1 906.2" fill="none" stroke="#c3ff00" stroke-width="2"/>
<path d="M198.2 951.4 204.2 940.8 210.4 931.9 217.6 923.3 225.9 915.2 235.3 907.4 245.6 900 258.4 891.9 273.7 883.1" fill="none" stroke="#ffeb00" stroke-width="2"/>
<path d="M190.6 832.7 181.4 848.2 172.8 860.6 163.7 871.4 154.2 880.7 143.8 889 131.2 897.2 117.2 904.7 100 912.5" fill="none" stroke="#ffeb00" stroke-width="2"/>
<path d="M173.5 941.6 174.3 930.6 173.9 923.5 172.3 919 170.5 917 168.9 916.1 163.6 915.1 155.3 915.6 143.9 917.7 124.7 922.3" fill="none" stroke="#ff9500" stroke-width="2"/>
<path d="M206.8 838 201.2 859.6 199.7 867.5 199.1 873.7 199.2 878.1 200 881.8 202 884.6 204.2 885.9 208.3 886.6 213.4 886.4 220.7 885.1 228.6 883 254.2 874.9 284.9 863.4" fill="none" stroke="#ff9500" stroke-width="2"/>
<circle cx="206.8" cy="954.8" r="1.5" fill="#000"/>
<circle cx="206.8" cy="954.8" r="1.5" fill="#000"/>
<circle cx="227.7" cy="932.4" r="1.5" fill="#000"/>
<circle cx="169.8" cy="940.1" r="1.5" fill="#000"/>
<circle cx="248.6" cy="910.0" r="1.5" fill="#000"/>
<circle cx="132.8" cy="925.5" r="1.5" fill="#000"/>
<circle cx="269.5" cy="887.6" r="1.5" fill="#000"/>
<circle cx="95.9" cy="910.8" r="1.5" fill="#000"/>
<circle cx="290.5" cy="865.2" r="1.5" fill="#000"/>
<circle cx="58.9" cy="896.2" r="1.5" fill="#000"/>
<circle cx="56.1" cy="859.0" r="1.5" fill="#000"/>
<circle cx="54.2" cy="835.5" r="1.5" fill="#000"/>
<circle cx="52.4" cy="812.0" r="1.5" fill="#000"/>
<circle cx="50.6" cy="788.5" r="1.5" fill="#000"/>
<circle cx="48.8" cy="765.0" r="1.5" fill="#000"/>
<circle cx="46.9" cy="741.5" r="1.5" fill="#000"/>
<circle cx="104.3" cy="770.0" r="3" fill="#f4c4cc" stroke="#d99" stroke-width="0.6"/>
<g stroke="#1c1c1c" stroke-width="0.8" stroke-linejoin="round">
<polygon points="155.1 734.2 160.1 730 153 732.8 147.9 736.9" fill="#1ddf0f"/>
<polygon points="150 738.3 155.1 734.2 147.9 736.9 142.9 741" fill="#15de0e"/>
<polygon points="162.3 731.8 167.3 727.6 160.1 730 155.1 734.2" fill="#4fe212"/>
<polygon points="145 742.3 150 738.3 142.9 741 137.8 744.9" fill="#0edd0d"/>
<polygon points="157.2 735.9 162.3 731.8 155.1 734.2 150 738.3" fill="#46e111"/>
<polygon points="169.5 729.7 174.5 725.5 167.3 727.6 162.3 731.8" fill="#7ee515"/>
<polygon points="140 746.2 145 742.3 137.8 744.9 132.8 748.8" fill="#0cdc10"/>
<polygon points="152.2 739.9 157.2 735.9 150 738.3 145 742.3" fill="#3fe010"/>
<polygon points="164.5 733.9 169.5 729.7 162.3 731.8 157.2 735.9" fill="#75e414"/>
<polygon points="176.8 728.1 181.8 723.8 174.5 725.5 169.5 729.7" fill="#a8e819"/>
<polygon points="134.9 750 140 746.2 132.8 748.8 127.7 752.6" fill="#0bdb13"/>
<polygon points="147.2 743.9 152.2 739.9 145 742.3 140 746.2" fill="#38df0f"/>
<polygon points="159.5 738 164.5 733.9 157.2 735.9 152.2 739.9" fill="#6de313"/>
<polygon points="171.8 732.3 176.8 728.1 169.5 729.7 164.5 733.9" fill="#9fe718"/>
<polygon points="184.1 726.7 189.1 722.4 181.8 723.8 176.8 728.1" fill="#cfeb1c"/>
<polygon points="129.9 753.7 134.9 750 127.7 752.6 122.7 756.3" fill="#0ada15"/>
<polygon points="142.2 747.7 147.2 743.9 140 746.2 134.9 750" fill="#32de0e"/>
<polygon points="154.5 742 159.5 738 152.2 739.9 147.2 743.9" fill="#66e212"/>
<polygon points="166.8 736.4 171.8 732.3 164.5 733.9 159.5 738" fill="#97e617"/>
<polygon points="179.1 731 184.1 726.7 176.8 728.1 171.8 732.3" fill="#c6ea1b"/>
<polygon points="191.4 725.8 196.4 721.4 189.1 722.4 184.1 726.7" fill="#efeb20"/>
<polygon points="124.8 757.4 129.9 753.7 122.7 756.3 117.6 759.9" fill="#09d917"/>
<polygon points="137.1 751.5 142.2 747.7 134.9 750 129.9 753.7" fill="#2ddd0d"/>
<polygon points="149.5 745.9 154.5 742 147.2 743.9 142.2 747.7" fill="#5fe111"/>
<polygon points="161.8 740.4 166.8 736.4 159.5 738 154.5 742" fill="#90e515"/>
<polygon points="174.1 735.1 179.1 731 171.8 732.3 166.8 736.4" fill="#bde91a"/>
<polygon points="186.5 730.1 191.4 725.8 184.1 726.7 179.1 731" fill="#e9ee1f"/>
<polygon points="198.8 725.2 203.8 720.7 196.4 721.4 191.4 725.8" fill="#f2cf24"/>
<polygon points="119.8 760.9 124.8 757.4 117.6 759.9 112.6 763.4" fill="#08d817"/>
<polygon points="132.1 755.2 137.1 751.5 129.9 753.7 124.8 757.4" fill="#29dc0c"/>
<polygon points="144.5 749.7 149.5 745.9 142.2 747.7 137.1 751.5" fill="#5ae010"/>
<polygon points="156.8 744.4 161.8 740.4 154.5 742 149.5 745.9" fill="#89e414"/>
<polygon points="206.2 724.9 211.1 720.5 203.8 720.7 198.8 725.2" fill="#f6b828"/>
<polygon points="169.2 739.2 174.1 735.1 166.8 736.4 161.8 740.4" fill="#b6e819"/>
<polygon points="193.9 729.5 198.8 725.2 191.4 725.8 186.5 730.1" fill="#f1d823"/>
<polygon points="181.5 734.3 186.5 730.1 179.1 731 174.1 735.1" fill="#e0ed1e"/>
<polygon points="114.8 764.4 119.8 760.9 112.6 763.4 107.5 766.8" fill="#07d717"/>
<polygon points="127.1 758.8 132.1 755.2 124.8 757.4 119.8 760.9" fill="#25db0b"/>
<polygon points="213.6 725.1 218.5 720.5 211.1 720.5 206.2 724.9" fill="#f9a52d"/>
<polygon points="139.5 753.4 144.5 749.7 137.1 751.5 132.1 755.2" fill="#56df0f"/>
<polygon points="201.3 729.3 206.2 724.9 198.8 725.2 193.9 729.5" fill="#f5c127"/>
<polygon points="151.8 748.2 156.8 744.4 149.5 745.9 144.5 749.7" fill="#84e313"/>
<polygon points="188.9 733.8 193.9 729.5 186.5 730.1 181.5 734.3" fill="#f0df22"/>
<polygon points="164.2 743.2 169.2 739.2 161.8 740.4 156.8 744.4" fill="#afe718"/>
<polygon points="176.6 738.4 181.5 734.3 174.1 735.1 169.2 739.2" fill="#d8ec1d"/>
<polygon points="221 725.6 225.9 721 218.5 720.5 213.6 725.1" fill="#fd9731"/>
<polygon points="109.7 767.8 114.8 764.4 107.5 766.8 102.4 770.2" fill="#06d617"/>
<polygon points="208.7 729.5 213.6 725.1 206.2 724.9 201.3 729.3" fill="#f8ae2b"/>
<polygon points="122.1 762.3 127.1 758.8 119.8 760.9 114.8 764.4" fill="#23da0a"/>
<polygon points="196.4 733.6 201.3 729.3 193.9 729.5 188.9 733.8" fill="#f3c926"/>
<polygon points="134.5 757 139.5 753.4 132.1 755.2 127.1 758.8" fill="#52de0e"/>
<polygon points="184 737.9 188.9 733.8 181.5 734.3 176.6 738.4" fill="#efe620"/>
<polygon points="146.8 752 151.8 748.2 144.5 749.7 139.5 753.4" fill="#7fe212"/>
<polygon points="171.6 742.4 176.6 738.4 169.2 739.2 164.2 743.2" fill="#d2eb1b"/>
<polygon points="159.2 747.1 164.2 743.2 156.8 744.4 151.8 748.2" fill="#a9e617"/>
<polygon points="228.4 726.5 233.3 721.8 225.9 721 221 725.6" fill="#ff8d35"/>
<polygon points="216.1 730.1 221 725.6 213.6 725.1 208.7 729.5" fill="#fba030"/>
<polygon points="203.8 733.9 208.7 729.5 201.3 729.3 196.4 733.6" fill="#f7b62a"/>
<polygon points="104.7 771 109.7 767.8 102.4 770.2 97.4 773.4" fill="#05d515"/>
<polygon points="191.5 737.9 196.4 733.6 188.9 733.8 184 737.9" fill="#f2cf24"/>
<polygon points="117 765.7 122.1 762.3 114.8 764.4 109.7 767.8" fill="#22d909"/>
<polygon points="179.1 742 184 737.9 176.6 738.4 171.6 742.4" fill="#eeec1f"/>
<polygon points="129.4 760.6 134.5 757 127.1 758.8 122.1 762.3" fill="#50dd0d"/>
<polygon points="166.7 746.4 171.6 742.4 164.2 743.2 159.2 747.1" fill="#cbe91a"/>
<polygon points="141.9 755.7 146.8 752 139.5 753.4 134.5 757" fill="#7be111"/>
<polygon points="154.3 750.9 159.2 747.1 151.8 748.2 146.8 752" fill="#a5e515"/>
<polygon points="235.9 727.7 240.7 723 233.3 721.8 228.4 726.5" fill="#ff8739"/>
<polygon points="223.6 731 228.4 726.5 221 725.6 216.1 730.1" fill="#ff9634"/>
<polygon points="211.3 734.5 216.1 730.1 208.7 729.5 203.8 733.9" fill="#faa82e"/>
<polygon points="198.9 738.2 203.8 733.9 196.4 733.6 191.5 737.9" fill="#f6bd29"/>
<polygon points="186.5 742 191.5 737.9 184 737.9 179.1 742" fill="#f1d523"/>
<polygon points="99.6 774.2 104.7 771 97.4 773.4 92.3 776.6" fill="#04d413"/>
<polygon points="243.3 729.4 248.1 724.6 240.7 723 235.9 727.7" fill="#ff853d"/>
<polygon points="174.1 746 179.1 742 171.6 742.4 166.7 746.4" fill="#eaed1e"/>
<polygon points="112 769 117 765.7 109.7 767.8 104.7 771" fill="#21d808"/>
<polygon points="161.7 750.3 166.7 746.4 159.2 747.1 154.3 750.9" fill="#c6e819"/>
<polygon points="124.4 764.1 129.4 760.6 122.1 762.3 117 765.7" fill="#4edc0c"/>
<polygon points="149.3 754.7 154.3 750.9 146.8 752 141.9 755.7" fill="#a1e414"/>
<polygon points="136.9 759.3 141.9 755.7 134.5 757 129.4 760.6" fill="#78e010"/>
<polygon points="231 732.4 235.9 727.7 228.4 726.5 223.6 731" fill="#ff8f38"/>
<polygon points="218.7 735.5 223.6 731 216.1 730.1 211.3 734.5" fill="#fe9f33"/>
<polygon points="206.4 738.9 211.3 734.5 203.8 733.9 198.9 738.2" fill="#f9af2d"/>
<polygon points="250.7 731.4 255.5 726.6 248.1 724.6 243.3 729.4" fill="#ff8640"/>
<polygon points="194 742.4 198.9 738.2 191.5 737.9 186.5 742" fill="#f5c327"/>
<polygon points="181.6 746.1 186.5 742 179.1 742 174.1 746" fill="#f0da22"/>
<polygon points="238.5 734.1 243.3 729.4 235.9 727.7 231 732.4" fill="#ff8d3c"/>
<polygon points="169.2 750 174.1 746 166.7 746.4 161.7 750.3" fill="#e4ec1d"/>
<polygon points="94.5 777.3 99.6 774.2 92.3 776.6 87.2 779.6" fill="#04d310"/>
<polygon points="156.8 754 161.7 750.3 154.3 750.9 149.3 754.7" fill="#c2e718"/>
<polygon points="107 772.3 112 769 104.7 771 99.6 774.2" fill="#22d707"/>
<polygon points="144.3 758.3 149.3 754.7 141.9 755.7 136.9 759.3" fill="#9de313"/>
<polygon points="119.4 767.4 124.4 764.1 117 765.7 112 769" fill="#4ddb0b"/>
<polygon points="131.9 762.8 136.9 759.3 129.4 760.6 124.4 764.1" fill="#76df0f"/>
<polygon points="226.2 736.9 231 732.4 223.6 731 218.7 735.5" fill="#ff9837"/>
<polygon points="258 733.8 262.8 729 255.5 726.6 250.7 731.4" fill="#ff8a44"/>
<polygon points="213.9 739.9 218.7 735.5 211.3 734.5 206.4 738.9" fill="#fda631"/>
<polygon points="245.9 736.2 250.7 731.4 243.3 729.4 238.5 734.1" fill="#ff8e3f"/>
<polygon points="201.5 743.1 206.4 738.9 198.9 738.2 194 742.4" fill="#f8b62c"/>
<polygon points="189.2 746.5 194 742.4 186.5 742 181.6 746.1" fill="#f4c826"/>
<polygon points="265.4 736.7 270.1 731.7 262.8 729 258 733.8" fill="#ff9147"/>
<polygon points="233.7 738.7 238.5 734.1 231 732.4 226.2 736.9" fill="#ff953a"/>
<polygon points="176.7 750 181.6 746.1 174.1 746 169.2 750" fill="#efde21"/>
<polygon points="164.3 753.8 169.2 750 161.7 750.3 156.8 754" fill="#e0eb1b"/>
<polygon points="151.8 757.7 156.8 754 149.3 754.7 144.3 758.3" fill="#bfe617"/>
<polygon points="89.5 780.3 94.5 777.3 87.2 779.6 82.1 782.6" fill="#04d20d"/>
<polygon points="221.4 741.4 226.2 736.9 218.7 735.5 213.9 739.9" fill="#ffa036"/>
<polygon points="139.4 761.9 144.3 758.3 136.9 759.3 131.9 762.8" fill="#9be212"/>
<polygon points="101.9 775.4 107 772.3 99.6 774.2 94.5 777.3" fill="#23d606"/>
<polygon points="253.3 738.7 258 733.8 250.7 731.4 245.9 736.2" fill="#ff9243"/>
<polygon points="126.9 766.2 131.9 762.8 124.4 764.1 119.4 767.4" fill="#75de0e"/>
<polygon points="114.4 770.7 119.4 767.4 112 769 107 772.3" fill="#4dda0a"/>
<polygon points="272.7 739.8 277.4 734.8 270.1 731.7 265.4 736.7" fill="#ff9b4a"/>
<polygon points="209.1 744.2 213.9 739.9 206.4 738.9 201.5 743.1" fill="#fcac30"/>
<polygon points="241.1 740.8 245.9 736.2 238.5 734.1 233.7 738.7" fill="#ff963e"/>
<polygon points="196.7 747.3 201.5 743.1 194 742.4 189.2 746.5" fill="#f7bb2a"/>
<polygon points="260.7 741.5 265.4 736.7 258 733.8 253.3 738.7" fill="#ff9946"/>
<polygon points="184.3 750.5 189.2 746.5 181.6 746.1 176.7 750" fill="#f2cc25"/>
<polygon points="228.9 743.2 233.7 738.7 226.2 736.9 221.4 741.4" fill="#ff9d39"/>
<polygon points="280 743.4 284.7 738.3 277.4 734.8 272.7 739.8" fill="#ffa94d"/>
<polygon points="171.8 753.9 176.7 750 169.2 750 164.3 753.8" fill="#eee11f"/>
<polygon points="159.4 757.5 164.3 753.8 156.8 754 151.8 757.7" fill="#dce91a"/>
<polygon points="216.6 745.7 221.4 741.4 213.9 739.9 209.1 744.2" fill="#ffa734"/>
<polygon points="248.5 743.4 253.3 738.7 245.9 736.2 241.1 740.8" fill="#ff9a41"/>
<polygon points="146.9 761.3 151.8 757.7 144.3 758.3 139.4 761.9" fill="#bce515"/>
<polygon points="134.4 765.3 139.4 761.9 131.9 762.8 126.9 766.2" fill="#9ae111"/>
<polygon points="84.4 783.2 89.5 780.3 82.1 782.6 77 785.4" fill="#04d10a"/>
<polygon points="121.9 769.5 126.9 766.2 119.4 767.4 114.4 770.7" fill="#75dd0d"/>
<polygon points="96.9 778.4 101.9 775.4 94.5 777.3 89.5 780.3" fill="#25d505"/>
<polygon points="287.3 747.4 291.9 742.3 284.7 738.3 280 743.4" fill="#ffbb4f"/>
<polygon points="268 744.8 272.7 739.8 265.4 736.7 260.7 741.5" fill="#ffa549"/>
<polygon points="109.4 773.9 114.4 770.7 107 772.3 101.9 775.4" fill="#4ed909"/>
<polygon points="204.2 748.4 209.1 744.2 201.5 743.1 196.7 747.3" fill="#fab22e"/>
<polygon points="236.3 745.4 241.1 740.8 233.7 738.7 228.9 743.2" fill="#ff9e3d"/>
<polygon points="191.8 751.3 196.7 747.3 189.2 746.5 184.3 750.5" fill="#f6bf29"/>
<polygon points="294.5 751.8 299.1 746.6 291.9 742.3 287.3 747.4" fill="#ffd052"/>
<polygon points="255.9 746.3 260.7 741.5 253.3 738.7 248.5 743.4" fill="#ffa345"/>
<polygon points="275.3 748.4 280 743.4 272.7 739.8 268 744.8" fill="#ffb44c"/>
<polygon points="179.4 754.4 184.3 750.5 176.7 750 171.8 753.9" fill="#f1cf23"/>
<polygon points="224.1 747.6 228.9 743.2 221.4 741.4 216.6 745.7" fill="#ffa438"/>
<polygon points="166.9 757.7 171.8 753.9 164.3 753.8 159.4 757.5" fill="#ede31e"/>
<polygon points="243.8 748 248.5 743.4 241.1 740.8 236.3 745.4" fill="#ffa340"/>
<polygon points="154.5 761.2 159.4 757.5 151.8 757.7 146.9 761.3" fill="#dae819"/>
<polygon points="211.8 750 216.6 745.7 209.1 744.2 204.2 748.4" fill="#fead33"/>
<polygon points="282.6 752.5 287.3 747.4 280 743.4 275.3 748.4" fill="#ffc64e"/>
<polygon points="142 764.8 146.9 761.3 139.4 761.9 134.4 765.3" fill="#bbe414"/>
<polygon points="263.3 749.6 268 744.8 260.7 741.5 255.9 746.3" fill="#ffae48"/>
<polygon points="129.4 768.7 134.4 765.3 126.9 766.2 121.9 769.5" fill="#9ae010"/>
<polygon points="116.9 772.7 121.9 769.5 114.4 770.7 109.4 773.9" fill="#76dc0c"/>
<polygon points="79.3 786 84.4 783.2 77 785.4 71.9 788.2" fill="#04d005"/>
<polygon points="199.4 752.6 204.2 748.4 196.7 747.3 191.8 751.3" fill="#f9b62d"/>
<polygon points="104.4 777 109.4 773.9 101.9 775.4 96.9 778.4" fill="#50d808"/>
<polygon points="91.8 781.4 96.9 778.4 89.5 780.3 84.4 783.2" fill="#28d404"/>
<polygon points="231.6 749.9 236.3 745.4 228.9 743.2 224.1 747.6" fill="#ffa53b"/>
<polygon points="187 755.3 191.8 751.3 184.3 750.5 179.4 754.4" fill="#f5c227"/>
<polygon points="289.8 757 294.5 751.8 287.3 747.4 282.6 752.5" fill="#ffda51"/>
<polygon points="251.2 751 255.9 746.3 248.5 743.4 243.8 748" fill="#ffab43"/>
<polygon points="270.7 753.4 275.3 748.4 268 744.8 263.3 749.6" fill="#ffbd4a"/>
<polygon points="219.3 752 224.1 747.6 216.6 745.7 211.8 750" fill="#ffab37"/>
<polygon points="174.5 758.3 179.4 754.4 171.8 753.9 166.9 757.7" fill="#f0d122"/>
<polygon points="162 761.4 166.9 757.7 159.4 757.5 154.5 761.2" fill="#ece31d"/>
<polygon points="239.1 752.6 243.8 748 236.3 745.4 231.6 749.9" fill="#ffaa3f"/>
<polygon points="207 754.2 211.8 750 204.2 748.4 199.4 752.6" fill="#fdb231"/>
<polygon points="278 757.5 282.6 752.5 275.3 748.4 270.7 753.4" fill="#ffcf4d"/>
<polygon points="149.5 764.7 154.5 761.2 146.9 761.3 142 764.8" fill="#d8e718"/>
<polygon points="258.6 754.4 263.3 749.6 255.9 746.3 251.2 751" fill="#ffb746"/>
<polygon points="137 768.2 142 764.8 134.4 765.3 129.4 768.7" fill="#bae313"/>
<polygon points="124.4 771.9 129.4 768.7 121.9 769.5 116.9 772.7" fill="#9adf0f"/>
<polygon points="194.6 756.6 199.4 752.6 191.8 751.3 187 755.3" fill="#f8ba2c"/>
<polygon points="226.8 754.3 231.6 749.9 224.1 747.6 219.3 752" fill="#ffac3a"/>
<polygon points="111.9 775.8 116.9 772.7 109.4 773.9 104.4 777" fill="#78db0a"/>
<polygon points="99.3 779.9 104.4 777 96.9 778.4 91.8 781.4" fill="#53d707"/>
<polygon points="74.2 788.7 79.3 786 71.9 788.2 66.8 790.8" fill="#09cf04"/>
<polygon points="86.8 784.2 91.8 781.4 84.4 783.2 79.3 786" fill="#2dd304"/>
<polygon points="285.2 762 289.8 757 282.6 752.5 278 757.5" fill="#ffe44f"/>
<polygon points="246.5 755.6 251.2 751 243.8 748 239.1 752.6" fill="#ffb342"/>
<polygon points="182.1 759.2 187 755.3 179.4 754.4 174.5 758.3" fill="#f4c526"/>
<polygon points="266 758.2 270.7 753.4 263.3 749.6 258.6 754.4" fill="#ffc649"/>
<polygon points="214.5 756.2 219.3 752 211.8 750 207 754.2" fill="#ffb035"/>
<polygon points="169.7 762 174.5 758.3 166.9 757.7 162 761.4" fill="#efd321"/>
<polygon points="234.3 757 239.1 752.6 231.6 749.9 226.8 754.3" fill="#ffb13e"/>
<polygon points="157.2 765 162 761.4 154.5 761.2 149.5 764.7" fill="#ebe31b"/>
<polygon points="273.4 762.4 278 757.5 270.7 753.4 266 758.2" fill="#ffd84c"/>
<polygon points="202.2 758.3 207 754.2 199.4 752.6 194.6 756.6" fill="#fcb530"/>
<polygon points="254 759.1 258.6 754.4 251.2 751 246.5 755.6" fill="#ffbf45"/>
<polygon points="144.6 768.2 149.5 764.7 142 764.8 137 768.2" fill="#d7e617"/>
<polygon points="132 771.6 137 768.2 129.4 768.7 124.4 771.9" fill="#bae212"/>
<polygon points="189.8 760.6 194.6 756.6 187 755.3 182.1 759.2" fill="#f7bc2a"/>
<polygon points="222.1 758.6 226.8 754.3 219.3 752 214.5 756.2" fill="#ffb239"/>
<polygon points="119.5 775.1 124.4 771.9 116.9 772.7 111.9 775.8" fill="#9bde0d"/>
<polygon points="280.7 767 285.2 762 278 757.5 273.4 762.4" fill="#ffee4e"/>
<polygon points="106.9 778.9 111.9 775.8 104.4 777 99.3 779.9" fill="#7ad909"/>
<polygon points="94.3 782.8 99.3 779.9 91.8 781.4 86.8 784.2" fill="#57d606"/>
<polygon points="241.8 760.2 246.5 755.6 239.1 752.6 234.3 757" fill="#ffba41"/>
<polygon points="261.4 763 266 758.2 258.6 754.4 254 759.1" fill="#ffce48"/>
<polygon points="69.1 791.3 74.2 788.7 66.8 790.8 61.6 793.4" fill="#0fce04"/>
<polygon points="81.7 787 86.8 784.2 79.3 786 74.2 788.7" fill="#33d204"/>
<polygon points="177.3 763 182.1 759.2 174.5 758.3 169.7 762" fill="#f3c625"/>
<polygon points="209.8 760.4 214.5 756.2 207 754.2 202.2 758.3" fill="#ffb534"/>
<polygon points="164.8 765.7 169.7 762 162 761.4 157.2 765" fill="#eed31f"/>
<polygon points="229.6 761.4 234.3 757 226.8 754.3 222.1 758.6" fill="#ffb73c"/>
<polygon points="268.8 767.2 273.4 762.4 266 758.2 261.4 763" fill="#ffe14b"/>
<polygon points="152.3 768.5 157.2 765 149.5 764.7 144.6 768.2" fill="#e9e21a"/>
<polygon points="249.3 763.7 254 759.1 246.5 755.6 241.8 760.2" fill="#ffc644"/>
<polygon points="197.4 762.3 202.2 758.3 194.6 756.6 189.8 760.6" fill="#fab82e"/>
<polygon points="139.7 771.6 144.6 768.2 137 768.2 132 771.6" fill="#d7e515"/>
<polygon points="184.9 764.4 189.8 760.6 182.1 759.2 177.3 763" fill="#f6be29"/>
<polygon points="217.3 762.8 222.1 758.6 214.5 756.2 209.8 760.4" fill="#ffb638"/>
<polygon points="127.1 774.8 132 771.6 124.4 771.9 119.5 775.1" fill="#bce111"/>
<polygon points="276.1 771.9 280.7 767 273.4 762.4 268.8 767.2" fill="#fff64d"/>
<polygon points="114.5 778.2 119.5 775.1 111.9 775.8 106.9 778.9" fill="#9edc0c"/>
<polygon points="237.2 764.6 241.8 760.2 234.3 757 229.6 761.4" fill="#ffc040"/>
<polygon points="256.7 767.6 261.4 763 254 759.1 249.3 763.7" fill="#ffd547"/>
<polygon points="101.9 781.8 106.9 778.9 99.3 779.9 94.3 782.8" fill="#7ed808"/>
<polygon points="172.4 766.8 177.3 763 169.7 762 164.8 765.7" fill="#f1c623"/>
<polygon points="89.2 785.6 94.3 782.8 86.8 784.2 81.7 787" fill="#5bd505"/>
<polygon points="76.6 789.6 81.7 787 74.2 788.7 69.1 791.3" fill="#39d104"/>
<polygon points="64 793.8 69.1 791.3 61.6 793.4 56.5 795.9" fill="#16cd04"/>
<polygon points="205 764.4 209.8 760.4 202.2 758.3 197.4 762.3" fill="#feb833"/>
<polygon points="159.9 769.3 164.8 765.7 157.2 765 152.3 768.5" fill="#edd21e"/>
<polygon points="264.2 772 268.8 767.2 261.4 763 256.7 767.6" fill="#ffe849"/>
<polygon points="224.9 765.7 229.6 761.4 222.1 758.6 217.3 762.8" fill="#ffbc3b"/>
<polygon points="244.7 768.2 249.3 763.7 241.8 760.2 237.2 764.6" fill="#ffcc43"/>
<polygon points="192.6 766.2 197.4 762.3 189.8 760.6 184.9 764.4" fill="#f9ba2d"/>
<polygon points="147.4 771.9 152.3 768.5 144.6 768.2 139.7 771.6" fill="#e8e019"/>
<polygon points="134.8 774.8 139.7 771.6 132 771.6 127.1 774.8" fill="#d8e414"/>
<polygon points="271.5 776.7 276.1 771.9 268.8 767.2 264.2 772" fill="#fffe4c"/>
<polygon points="212.6 767 217.3 762.8 209.8 760.4 205 764.4" fill="#ffba36"/>
<polygon points="180.1 768.2 184.9 764.4 177.3 763 172.4 766.8" fill="#f5be27"/>
<polygon points="122.1 777.9 127.1 774.8 119.5 775.1 114.5 778.2" fill="#bee010"/>
<polygon points="252.1 772.2 256.7 767.6 249.3 763.7 244.7 768.2" fill="#ffdc46"/>
<polygon points="232.5 769 237.2 764.6 229.6 761.4 224.9 765.7" fill="#ffc53e"/>
<polygon points="109.5 781.2 114.5 778.2 106.9 778.9 101.9 781.8" fill="#a1db0b"/>
<polygon points="167.6 770.4 172.4 766.8 164.8 765.7 159.9 769.3" fill="#f0c622"/>
<polygon points="96.8 784.6 101.9 781.8 94.3 782.8 89.2 785.6" fill="#82d707"/>
<polygon points="200.2 768.4 205 764.4 197.4 762.3 192.6 766.2" fill="#fdba31"/>
<polygon points="84.2 788.3 89.2 785.6 81.7 787 76.6 789.6" fill="#61d304"/>
<polygon points="71.5 792.1 76.6 789.6 69.1 791.3 64 793.8" fill="#41d004"/>
<polygon points="58.8 796.2 64 793.8 56.5 795.9 51.3 798.2" fill="#1fcc04"/>
<polygon points="259.6 776.6 264.2 772 256.7 767.6 252.1 772.2" fill="#ffef48"/>
<polygon points="155 772.7 159.9 769.3 152.3 768.5 147.4 771.9" fill="#ecd01d"/>
<polygon points="220.2 769.9 224.9 765.7 217.3 762.8 212.6 767" fill="#ffc03a"/>
<polygon points="240 772.6 244.7 768.2 237.2 764.6 232.5 769" fill="#ffd241"/>
<polygon points="187.8 770.1 192.6 766.2 184.9 764.4 180.1 768.2" fill="#f8ba2b"/>
<polygon points="142.4 775.3 147.4 771.9 139.7 771.6 134.8 774.8" fill="#e7dd18"/>
<polygon points="267 781.4 271.5 776.7 264.2 772 259.6 776.6" fill="#faff4b"/>
<polygon points="129.8 778 134.8 774.8 127.1 774.8 122.1 777.9" fill="#dae313"/>
<polygon points="207.9 771 212.6 767 205 764.4 200.2 768.4" fill="#ffbd35"/>
<polygon points="175.3 771.9 180.1 768.2 172.4 766.8 167.6 770.4" fill="#f4be26"/>
<polygon points="247.5 776.7 252.1 772.2 244.7 768.2 240 772.6" fill="#ffe244"/>
<polygon points="227.8 773.2 232.5 769 224.9 765.7 220.2 769.9" fill="#ffc93d"/>
<polygon points="117.2 780.9 122.1 777.9 114.5 778.2 109.5 781.2" fill="#c1de0e"/>
<polygon points="104.5 784 109.5 781.2 101.9 781.8 96.8 784.6" fill="#a5da0a"/>
<polygon points="162.8 773.9 167.6 770.4 159.9 769.3 155 772.7" fill="#efc421"/>
<polygon points="195.5 772.3 200.2 768.4 192.6 766.2 187.8 770.1" fill="#fbbb30"/>
<polygon points="91.8 787.4 96.8 784.6 89.2 785.6 84.2 788.3" fill="#87d606"/>
<polygon points="255 781.2 259.6 776.6 252.1 772.2 247.5 776.7" fill="#fff547"/>
<polygon points="79.1 790.9 84.2 788.3 76.6 789.6 71.5 792.1" fill="#68d204"/>
<polygon points="215.5 774 220.2 769.9 212.6 767 207.9 771" fill="#ffc339"/>
<polygon points="66.4 794.6 71.5 792.1 64 793.8 58.8 796.2" fill="#49cf04"/>
<polygon points="150.2 776.1 155 772.7 147.4 771.9 142.4 775.3" fill="#ebcd1b"/>
<polygon points="235.4 777 240 772.6 232.5 769 227.8 773.2" fill="#ffd640"/>
<polygon points="183 773.8 187.8 770.1 180.1 768.2 175.3 771.9" fill="#f7ba2a"/>
<polygon points="137.5 778.5 142.4 775.3 134.8 774.8 129.8 778" fill="#e6d916"/>
<polygon points="262.4 786.1 267 781.4 259.6 776.6 255 781.2" fill="#f4ff49"/>
<polygon points="203.1 775 207.9 771 200.2 768.4 195.5 772.3" fill="#ffbf34"/>
<polygon points="124.9 781.1 129.8 778 122.1 777.9 117.2 780.9" fill="#dce212"/>
<polygon points="242.9 781.1 247.5 776.7 240 772.6 235.4 777" fill="#ffe643"/>
<polygon points="170.5 775.5 175.3 771.9 167.6 770.4 162.8 773.9" fill="#f2bc25"/>
<polygon points="223.1 777.4 227.8 773.2 220.2 769.9 215.5 774" fill="#ffcd3c"/>
<polygon points="112.2 783.8 117.2 780.9 109.5 781.2 104.5 784" fill="#c4dd0d"/>
<polygon points="157.9 777.3 162.8 773.9 155 772.7 150.2 776.1" fill="#eec11f"/>
<polygon points="190.7 776.1 195.5 772.3 187.8 770.1 183 773.8" fill="#fabb2e"/>
<polygon points="99.5 786.8 104.5 784 96.8 784.6 91.8 787.4" fill="#aad909"/>
<polygon points="250.4 785.7 255 781.2 247.5 776.7 242.9 781.1" fill="#fffa46"/>
<polygon points="86.7 790 91.8 787.4 84.2 788.3 79.1 790.9" fill="#8ed505"/>
<polygon points="210.8 778 215.5 774 207.9 771 203.1 775" fill="#ffc537"/>
<polygon points="230.7 781.2 235.4 777 227.8 773.2 223.1 777.4" fill="#ffda3f"/>
<polygon points="74 793.3 79.1 790.9 71.5 792.1 66.4 794.6" fill="#70d104"/>
<polygon points="145.3 779.4 150.2 776.1 142.4 775.3 137.5 778.5" fill="#e9c91a"/>
<polygon points="178.2 777.4 183 773.8 175.3 771.9 170.5 775.5" fill="#f6b929"/>
<polygon points="257.9 790.6 262.4 786.1 255 781.2 250.4 785.7" fill="#efff48"/>
<polygon points="132.6 781.6 137.5 778.5 129.8 778 124.9 781.1" fill="#e5d415"/>
<polygon points="198.4 778.8 203.1 775 195.5 772.3 190.7 776.1" fill="#fdbf32"/>
<polygon points="238.3 785.4 242.9 781.1 235.4 777 230.7 781.2" fill="#ffea42"/>
<polygon points="218.5 781.5 223.1 777.4 215.5 774 210.8 778" fill="#ffcf3a"/>
<polygon points="165.7 779 170.5 775.5 162.8 773.9 157.9 777.3" fill="#f1ba23"/>
<polygon points="119.9 784 124.9 781.1 117.2 780.9 112.2 783.8" fill="#e0e110"/>
<polygon points="107.2 786.7 112.2 783.8 104.5 784 99.5 786.8" fill="#c9dc0c"/>
<polygon points="186 779.8 190.7 776.1 183 773.8 178.2 777.4" fill="#f9ba2d"/>
<polygon points="153.1 780.7 157.9 777.3 150.2 776.1 145.3 779.4" fill="#edbe1e"/>
<polygon points="245.8 790 250.4 785.7 242.9 781.1 238.3 785.4" fill="#fffe44"/>
<polygon points="94.5 789.5 99.5 786.8 91.8 787.4 86.7 790" fill="#b0d808"/>
<polygon points="206.1 782 210.8 778 203.1 775 198.4 778.8" fill="#ffc736"/>
<polygon points="226.1 785.4 230.7 781.2 223.1 777.4 218.5 781.5" fill="#ffdd3e"/>
<polygon points="81.7 792.5 86.7 790 79.1 790.9 74 793.3" fill="#95d404"/>
<polygon points="140.4 782.6 145.3 779.4 137.5 778.5 132.6 781.6" fill="#e8c419"/>
<polygon points="173.4 781 178.2 777.4 170.5 775.5 165.7 779" fill="#f5b727"/>
<polygon points="253.3 795.1 257.9 790.6 250.4 785.7 245.8 790" fill="#ebff47"/>
<polygon points="127.7 784.6 132.6 781.6 124.9 781.1 119.9 784" fill="#e4cd14"/>
<polygon points="193.7 782.6 198.4 778.8 190.7 776.1 186 779.8" fill="#fcbf31"/>
<polygon points="233.7 789.6 238.3 785.4 230.7 781.2 226.1 785.4" fill="#ffee40"/>
<polygon points="213.8 785.5 218.5 781.5 210.8 778 206.1 782" fill="#ffd139"/>
<polygon points="160.8 782.3 165.7 779 157.9 777.3 153.1 780.7" fill="#f0b622"/>
<polygon points="115 786.9 119.9 784 112.2 783.8 107.2 786.7" fill="#dfda0f"/>
<polygon points="241.3 794.3 245.8 790 238.3 785.4 233.7 789.6" fill="#fdff43"/>
<polygon points="102.2 789.4 107.2 786.7 99.5 786.8 94.5 789.5" fill="#cfdb0b"/>
<polygon points="181.2 783.4 186 779.8 178.2 777.4 173.4 781" fill="#f8b82b"/>
<polygon points="148.2 783.9 153.1 780.7 145.3 779.4 140.4 782.6" fill="#ecb91d"/>
<polygon points="221.5 789.4 226.1 785.4 218.5 781.5 213.8 785.5" fill="#ffdf3c"/>
<polygon points="201.4 785.8 206.1 782 198.4 778.8 193.7 782.6" fill="#ffc735"/>
<polygon points="89.4 792.1 94.5 789.5 86.7 790 81.7 792.5" fill="#b7d707"/>
<polygon points="248.8 799.4 253.3 795.1 245.8 790 241.3 794.3" fill="#e7ff46"/>
<polygon points="135.5 785.6 140.4 782.6 132.6 781.6 127.7 784.6" fill="#e7be17"/>
<polygon points="168.6 784.4 173.4 781 165.7 779 160.8 782.3" fill="#f3b326"/>
<polygon points="229.1 793.8 233.7 789.6 226.1 785.4 221.5 789.4" fill="#fff03f"/>
<polygon points="189 786.3 193.7 782.6 186 779.8 181.2 783.4" fill="#fbbd2f"/>
<polygon points="122.8 787.6 127.7 784.6 119.9 784 115 786.9" fill="#e3c613"/>
<polygon points="209.1 789.4 213.8 785.5 206.1 782 201.4 785.8" fill="#ffd238"/>
<polygon points="156 785.6 160.8 782.3 153.1 780.7 148.2 783.9" fill="#efb220"/>
<polygon points="110 789.7 115 786.9 107.2 786.7 102.2 789.4" fill="#ded10e"/>
<polygon points="236.7 798.5 241.3 794.3 233.7 789.6 229.1 793.8" fill="#faff42"/>
<polygon points="176.4 786.9 181.2 783.4 173.4 781 168.6 784.4" fill="#f7b52a"/>
<polygon points="97.2 792 102.2 789.4 94.5 789.5 89.4 792.1" fill="#d5da0a"/>
<polygon points="143.3 787 148.2 783.9 140.4 782.6 135.5 785.6" fill="#eab31b"/>
<polygon points="216.8 793.4 221.5 789.4 213.8 785.5 209.1 789.4" fill="#ffe03b"/>
<polygon points="196.7 789.5 201.4 785.8 193.7 782.6 189 786.3" fill="#fec633"/>
<polygon points="244.3 803.7 248.8 799.4 241.3 794.3 236.7 798.5" fill="#e5ff44"/>
<polygon points="130.6 788.6 135.5 785.6 127.7 784.6 122.8 787.6" fill="#e6b716"/>
<polygon points="163.8 787.8 168.6 784.4 160.8 782.3 156 785.6" fill="#f2af24"/>
<polygon points="224.5 797.8 229.1 793.8 221.5 789.4 216.8 793.4" fill="#fff13e"/>
<polygon points="184.2 789.8 189 786.3 181.2 783.4 176.4 786.9" fill="#faba2e"/>
<polygon points="204.5 793.2 209.1 789.4 201.4 785.8 196.7 789.5" fill="#ffd137"/>
<polygon points="117.8 790.4 122.8 787.6 115 786.9 110 789.7" fill="#e1be11"/>
<polygon points="151.2 788.8 156 785.6 148.2 783.9 143.3 787" fill="#eeac1f"/>
<polygon points="105 792.4 110 789.7 102.2 789.4 97.2 792" fill="#ddc80d"/>
<polygon points="232.2 802.6 236.7 798.5 229.1 793.8 224.5 797.8" fill="#f9ff41"/>
<polygon points="171.7 790.3 176.4 786.9 168.6 784.4 163.8 787.8" fill="#f5b128"/>
<polygon points="212.2 797.2 216.8 793.4 209.1 789.4 204.5 793.2" fill="#ffe03a"/>
<polygon points="138.5 790.1 143.3 787 135.5 785.6 130.6 788.6" fill="#e9ac1a"/>
<polygon points="192 793.1 196.7 789.5 189 786.3 184.2 789.8" fill="#fdc332"/>
<polygon points="239.8 807.9 244.3 803.7 236.7 798.5 232.2 802.6" fill="#e3ff43"/>
<polygon points="159.1 791 163.8 787.8 156 785.6 151.2 788.8" fill="#f1aa23"/>
<polygon points="125.7 791.5 130.6 788.6 122.8 787.6 117.8 790.4" fill="#e5af15"/>
<polygon points="219.9 801.7 224.5 797.8 216.8 793.4 212.2 797.2" fill="#fff23d"/>
<polygon points="179.5 793.3 184.2 789.8 176.4 786.9 171.7 790.3" fill="#f9b62c"/>
<polygon points="199.8 796.9 204.5 793.2 196.7 789.5 192 793.1" fill="#ffd035"/>
<polygon points="112.9 793.1 117.8 790.4 110 789.7 105 792.4" fill="#e0b510"/>
<polygon points="146.4 791.9 151.2 788.8 143.3 787 138.5 790.1" fill="#eca61e"/>
<polygon points="227.6 806.6 232.2 802.6 224.5 797.8 219.9 801.7" fill="#f8ff3f"/>
<polygon points="166.9 793.7 171.7 790.3 163.8 787.8 159.1 791" fill="#f4ac27"/>
<polygon points="207.6 801 212.2 797.2 204.5 793.2 199.8 796.9" fill="#ffdf38"/>
<polygon points="187.4 796.7 192 793.1 184.2 789.8 179.5 793.3" fill="#fcc030"/>
<polygon points="133.6 793 138.5 790.1 130.6 788.6 125.7 791.5" fill="#e8a519"/>
<polygon points="235.3 812 239.8 807.9 232.2 802.6 227.6 806.6" fill="#e2ff42"/>
<polygon points="154.2 794.2 159.1 791 151.2 788.8 146.4 791.9" fill="#f0a421"/>
<polygon points="120.8 794.3 125.7 791.5 117.8 790.4 112.9 793.1" fill="#e4a614"/>
<polygon points="215.3 805.6 219.9 801.7 212.2 797.2 207.6 801" fill="#fff13b"/>
<polygon points="174.8 796.7 179.5 793.3 171.7 790.3 166.9 793.7" fill="#f7b22b"/>
<polygon points="195.2 800.5 199.8 796.9 192 793.1 187.4 796.7" fill="#ffce34"/>
<polygon points="141.5 794.9 146.4 791.9 138.5 790.1 133.6 793" fill="#eb9f1c"/>
<polygon points="223.1 810.6 227.6 806.6 219.9 801.7 215.3 805.6" fill="#f8ff3e"/>
<polygon points="162.2 796.9 166.9 793.7 159.1 791 154.2 794.2" fill="#f3a625"/>
<polygon points="203 804.7 207.6 801 199.8 796.9 195.2 800.5" fill="#ffdd37"/>
<polygon points="182.7 800.1 187.4 796.7 179.5 793.3 174.8 796.7" fill="#fbbc2f"/>
<polygon points="230.8 816 235.3 812 227.6 806.6 223.1 810.6" fill="#e2ff41"/>
<polygon points="128.7 795.8 133.6 793 125.7 791.5 120.8 794.3" fill="#e79c17"/>
<polygon points="210.8 809.3 215.3 805.6 207.6 801 203 804.7" fill="#fff03a"/>
<polygon points="149.4 797.2 154.2 794.2 146.4 791.9 141.5 794.9" fill="#ef9d20"/>
<polygon points="190.5 804 195.2 800.5 187.4 796.7 182.7 800.1" fill="#fdc932"/>
<polygon points="170.1 800 174.8 796.7 166.9 793.7 162.2 796.9" fill="#f6ac29"/>
<polygon points="218.5 814.4 223.1 810.6 215.3 805.6 210.8 809.3" fill="#f9ff3d"/>
<polygon points="136.7 797.8 141.5 794.9 133.6 793 128.7 795.8" fill="#ea961b"/>
<polygon points="198.4 808.3 203 804.7 195.2 800.5 190.5 804" fill="#ffda36"/>
<polygon points="157.4 800 162.2 796.9 154.2 794.2 149.4 797.2" fill="#f29f24"/>
<polygon points="178 803.5 182.7 800.1 174.8 796.7 170.1 800" fill="#f9b62d"/>
<polygon points="226.3 819.8 230.8 816 223.1 810.6 218.5 814.4" fill="#e2ff3f"/>
<polygon points="206.2 813 210.8 809.3 203 804.7 198.4 808.3" fill="#ffed39"/>
<polygon points="144.6 800.2 149.4 797.2 141.5 794.9 136.7 797.8" fill="#ed941f"/>
<polygon points="185.9 807.4 190.5 804 182.7 800.1 178 803.5" fill="#fcc431"/>
<polygon points="165.3 803.1 170.1 800 162.2 796.9 157.4 800" fill="#f5a528"/>
<polygon points="214 818.1 218.5 814.4 210.8 809.3 206.2 813" fill="#fbff3b"/>
<polygon points="193.7 811.7 198.4 808.3 190.5 804 185.9 807.4" fill="#ffd634"/>
<polygon points="152.6 803 157.4 800 149.4 797.2 144.6 800.2" fill="#f19722"/>
<polygon points="173.3 806.7 178 803.5 170.1 800 165.3 803.1" fill="#f8b02b"/>
<polygon points="221.7 823.6 226.3 819.8 218.5 814.4 214 818.1" fill="#e4ff3e"/>
<polygon points="201.6 816.5 206.2 813 198.4 808.3 193.7 811.7" fill="#ffea37"/>
<polygon points="181.2 810.7 185.9 807.4 178 803.5 173.3 806.7" fill="#fbbe2f"/>
<polygon points="160.6 806.2 165.3 803.1 157.4 800 152.6 803" fill="#f49e26"/>
<polygon points="209.4 821.7 214 818.1 206.2 813 201.6 816.5" fill="#fdff3a"/>
<polygon points="189.1 815.1 193.7 811.7 185.9 807.4 181.2 810.7" fill="#fed133"/>
<polygon points="217.2 827.3 221.7 823.6 214 818.1 209.4 821.7" fill="#e6ff3d"/>
<polygon points="168.6 809.8 173.3 806.7 165.3 803.1 160.6 806.2" fill="#f7a82a"/>
<polygon points="197 819.9 201.6 816.5 193.7 811.7 189.1 815.1" fill="#ffe536"/>
<polygon points="176.5 813.9 181.2 810.7 173.3 806.7 168.6 809.8" fill="#fab72e"/>
<polygon points="204.9 825.2 209.4 821.7 201.6 816.5 197 819.9" fill="#fffd39"/>
<polygon points="184.5 818.4 189.1 815.1 181.2 810.7 176.5 813.9" fill="#fdca31"/>
<polygon points="212.7 830.9 217.2 827.3 209.4 821.7 204.9 825.2" fill="#e9ff3b"/>
<polygon points="192.4 823.3 197 819.9 189.1 815.1 184.5 818.4" fill="#ffe035"/>
<polygon points="200.3 828.6 204.9 825.2 197 819.9 192.4 823.3" fill="#fff837"/>
<polygon points="208.2 834.4 212.7 830.9 204.9 825.2 200.3 828.6" fill="#edff3a"/>
</g>
<line x1="222.5" y1="710.6" x2="225.9" y2="721.0" stroke="#111" stroke-width="1.00"/>
<circle cx="222.5" cy="710.6" r="2.7" fill="#c00000" stroke="#300" stroke-width="1"/>
<line x1="177.2" y1="759.1" x2="177.3" y2="763.0" stroke="#111" stroke-width="1.00"/>
<circle cx="177.2" cy="759.1" r="2.7" fill="#c00000" stroke="#300" stroke-width="1"/>
<line x1="256.8" y1="782.8" x2="253.3" y2="795.1" stroke="#111" stroke-width="1.00"/>
<circle cx="256.8" cy="782.8" r="2.7" fill="#c00000" stroke="#300" stroke-width="1"/>
<circle cx="124.7" cy="796.6" r="3.2" fill="#f4c4cc" stroke="#d99" stroke-width="0.6"/>
<text x="214.8" y="968.5" font-size="15">1.5</text>
<text x="234.7" y="947.3" font-size="15">2</text>
<text x="255.6" y="924.5" font-size="15">2.5</text>
<text x="276.5" y="902.2" font-size="15">3</text>
<text x="297.9" y="880.9" font-size="15">3.5</text>
<text x="198.5" y="968.3" font-size="15" text-anchor="end">2</text>
<text x="161.4" y="953.7" font-size="15" text-anchor="end">2.5</text>
<text x="124.0" y="939.4" font-size="15" text-anchor="end">3</text>
<text x="87.0" y="924.5" font-size="15" text-anchor="end">3.5</text>
<text x="50.5" y="910.6" font-size="15" text-anchor="end">4</text>
<text x="48.3" y="855.7" font-size="15" text-anchor="end">2</text>
<text x="45.7" y="831.9" font-size="15" text-anchor="end">2.5</text>
<text x="44.3" y="808.2" font-size="15" text-anchor="end">3</text>
<text x="41.5" y="785.3" font-size="15" text-anchor="end">3.5</text>
<text x="40.2" y="761.2" font-size="15" text-anchor="end">4</text>
<text x="38.6" y="737.6" font-size="15" text-anchor="end">4.5</text>
<text transform="translate(17.2 821.0) rotate(-90)" font-size="14" text-anchor="middle">CO2 Adsorbed&#160; (mmol/g)</text>
<text x="262.1" y="937.1" font-size="14" textLength="72.0" lengthAdjust="spacingAndGlyphs">X2: Time (h)</text>
<text x="45.6" y="966.0" font-size="14" textLength="101.6" lengthAdjust="spacingAndGlyphs">X3: KOH/C Ratio</text>
<g clip-path="url(#clipa)"><g filter="url(#blurr)" shape-rendering="crispEdges">
<rect x="420.4" y="22" width="244.8" height="7" fill="url(#ga0)"/>
<rect x="420.4" y="28" width="244.8" height="7" fill="url(#ga1)"/>
<rect x="420.4" y="34" width="244.8" height="7" fill="url(#ga2)"/>
<rect x="420.4" y="40" width="244.8" height="7" fill="url(#ga3)"/>
<rect x="420.4" y="46" width="244.8" height="7" fill="url(#ga4)"/>
<rect x="420.4" y="52" width="244.8" height="7" fill="url(#ga5)"/>
<rect x="420.4" y="58" width="244.8" height="7" fill="url(#ga6)"/>
<rect x="420.4" y="64" width="244.8" height="7" fill="url(#ga7)"/>
<rect x="420.4" y="70" width="244.8" height="8" fill="url(#ga8)"/>
<rect x="420.4" y="77" width="244.8" height="7" fill="url(#ga9)"/>
<rect x="420.4" y="83" width="244.8" height="7" fill="url(#ga10)"/>
<rect x="420.4" y="89" width="244.8" height="7" fill="url(#ga11)"/>
<rect x="420.4" y="95" width="244.8" height="7" fill="url(#ga12)"/>
<rect x="420.4" y="101" width="244.8" height="7" fill="url(#ga13)"/>
<rect x="420.4" y="107" width="244.8" height="7" fill="url(#ga14)"/>
<rect x="420.4" y="113" width="244.8" height="7" fill="url(#ga15)"/>
<rect x="420.4" y="119" width="244.8" height="8" fill="url(#ga16)"/>
<rect x="420.4" y="126" width="244.8" height="7" fill="url(#ga17)"/>
<rect x="420.4" y="132" width="244.8" height="7" fill="url(#ga18)"/>
<rect x="420.4" y="138" width="244.8" height="7" fill="url(#ga19)"/>
<rect x="420.4" y="144" width="244.8" height="7" fill="url(#ga20)"/>
<rect x="420.4" y="150" width="244.8" height="7" fill="url(#ga21)"/>
<rect x="420.4" y="156" width="244.8" height="7" fill="url(#ga22)"/>
<rect x="420.4" y="162" width="244.8" height="7" fill="url(#ga23)"/>
<rect x="420.4" y="168" width="244.8" height="8" fill="url(#ga24)"/>
<rect x="420.4" y="175" width="244.8" height="7" fill="url(#ga25)"/>
<rect x="420.4" y="181" width="244.8" height="7" fill="url(#ga26)"/>
<rect x="420.4" y="187" width="244.8" height="7" fill="url(#ga27)"/>
<rect x="420.4" y="193" width="244.8" height="7" fill="url(#ga28)"/>
<rect x="420.4" y="199" width="244.8" height="7" fill="url(#ga29)"/>
<rect x="420.4" y="205" width="244.8" height="7" fill="url(#ga30)"/>
<rect x="420.4" y="211" width="244.8" height="7" fill="url(#ga31)"/>
<rect x="420.4" y="217" width="244.8" height="8" fill="url(#ga32)"/>
<rect x="420.4" y="224" width="244.8" height="7" fill="url(#ga33)"/>
<rect x="420.4" y="230" width="244.8" height="7" fill="url(#ga34)"/>
<rect x="420.4" y="236" width="244.8" height="7" fill="url(#ga35)"/>
<rect x="420.4" y="242" width="244.8" height="7" fill="url(#ga36)"/>
<rect x="420.4" y="248" width="244.8" height="7" fill="url(#ga37)"/>
<rect x="420.4" y="254" width="244.8" height="7" fill="url(#ga38)"/>
<rect x="420.4" y="260" width="244.8" height="7" fill="url(#ga39)"/>
<rect x="420.4" y="266" width="244.8" height="8" fill="url(#ga40)"/>
<rect x="420.4" y="273" width="244.8" height="7" fill="url(#ga41)"/>
<rect x="420.4" y="279" width="244.8" height="7" fill="url(#ga42)"/>
<rect x="420.4" y="285" width="244.8" height="7" fill="url(#ga43)"/>
</g></g>
<path d="M430.6 34 435.5 64.7 439.6 96.4 442.4 127 444.2 156.7 445 186.4 444.7 217 443.4 247.7 441 279.4" fill="none" stroke="#111" stroke-width="1"/>
<path d="M476.4 34 482.8 65.7 487.7 96.4 491.2 127 493.2 156.7 493.8 186.4 493 217 490.9 247.7 487.3 279.4" fill="none" stroke="#111" stroke-width="1"/>
<path d="M546.9 34 554.8 54.5 561.4 72.9 566.7 89.2 571.1 104.6 574.6 118.9 577.1 132.2 579 145.5 580.1 158.7 580.4 171 579.9 184.3 578.6 197.6 576.6 211.9 573.8 226.2 570 242.6 565 261 559.5 279.4" fill="none" stroke="#111" stroke-width="1"/>
<rect x="439.6" y="136.4" width="8.8" height="14.8" fill="#fff" stroke="#222" stroke-width="0.9"/>
<text x="444.0" y="148.4" font-size="13" text-anchor="middle">3</text>
<rect x="483.8" y="136.4" width="18.6" height="14.8" fill="#fff" stroke="#222" stroke-width="0.9"/>
<text x="493.1" y="148.4" font-size="13" text-anchor="middle">3.5</text>
<rect x="575.1" y="139.6" width="8.8" height="14.8" fill="#fff" stroke="#222" stroke-width="0.9"/>
<text x="579.5" y="151.6" font-size="13" text-anchor="middle">4</text>
<rect x="420.4" y="34.0" width="244.8" height="245.4" fill="none" stroke="#222" stroke-width="1.1"/>
<circle cx="420.4" cy="156.7" r="2.6" fill="#c00000" stroke="#111" stroke-width="1.1"/>
<circle cx="665.2" cy="156.7" r="2.6" fill="#c00000" stroke="#111" stroke-width="1.1"/>
<circle cx="542.8" cy="279.4" r="2.6" fill="#c00000" stroke="#111" stroke-width="1.1"/>
<circle cx="542.8" cy="34.0" r="2.6" fill="#c00000" stroke="#111" stroke-width="1.1"/>
<circle cx="542.8" cy="156.7" r="2.6" fill="#c00000" stroke="#111" stroke-width="1.1"/>
<text x="537.3" y="161.2" font-size="13" text-anchor="end" fill="#222">6</text>
<line x1="420.4" y1="279.4" x2="420.4" y2="284.9" stroke="#333" stroke-width="1"/>
<text x="420.4" y="300.7" font-size="14" text-anchor="middle">500</text>
<line x1="481.6" y1="279.4" x2="481.6" y2="284.9" stroke="#333" stroke-width="1"/>
<text x="481.6" y="300.7" font-size="14" text-anchor="middle">550</text>
<line x1="542.8" y1="279.4" x2="542.8" y2="284.9" stroke="#333" stroke-width="1"/>
<text x="542.8" y="300.7" font-size="14" text-anchor="middle">600</text>
<line x1="604.0" y1="279.4" x2="604.0" y2="284.9" stroke="#333" stroke-width="1"/>
<text x="604.0" y="300.7" font-size="14" text-anchor="middle">650</text>
<line x1="665.2" y1="279.4" x2="665.2" y2="284.9" stroke="#333" stroke-width="1"/>
<text x="665.2" y="300.7" font-size="14" text-anchor="middle">700</text>
<line x1="414.9" y1="279.4" x2="420.4" y2="279.4" stroke="#333" stroke-width="1"/>
<text x="412.2" y="284.2" font-size="14" text-anchor="end">1.5</text>
<line x1="414.9" y1="218.0" x2="420.4" y2="218.0" stroke="#333" stroke-width="1"/>
<text x="412.2" y="222.8" font-size="14" text-anchor="end">2</text>
<line x1="414.9" y1="156.7" x2="420.4" y2="156.7" stroke="#333" stroke-width="1"/>
<text x="412.2" y="161.5" font-size="14" text-anchor="end">2.5</text>
<line x1="414.9" y1="95.3" x2="420.4" y2="95.3" stroke="#333" stroke-width="1"/>
<text x="412.2" y="100.1" font-size="14" text-anchor="end">3</text>
<line x1="414.9" y1="34.0" x2="420.4" y2="34.0" stroke="#333" stroke-width="1"/>
<text x="412.2" y="38.8" font-size="14" text-anchor="end">3.5</text>
<text x="542.9" y="29.2" font-size="13" text-anchor="middle" textLength="132.2" lengthAdjust="spacingAndGlyphs">CO2 Adsorbed&#160; (mmol/g)</text>
<text x="542.3" y="316.2" font-size="13" text-anchor="middle" textLength="113.8" lengthAdjust="spacingAndGlyphs">X1: Temperature (°C)</text>
<text transform="translate(387.2 156.6) rotate(-90)" font-size="13.8" text-anchor="middle" textLength="67.2" lengthAdjust="spacingAndGlyphs">X2: Time (h)</text>
<g clip-path="url(#clipb)"><g filter="url(#blurr)" shape-rendering="crispEdges">
<rect x="416.0" y="350" width="253.5" height="7" fill="url(#gb0)"/>
<rect x="416.0" y="356" width="253.5" height="8" fill="url(#gb1)"/>
<rect x="416.0" y="363" width="253.5" height="7" fill="url(#gb2)"/>
<rect x="416.0" y="369" width="253.5" height="7" fill="url(#gb3)"/>
<rect x="416.0" y="375" width="253.5" height="7" fill="url(#gb4)"/>
<rect x="416.0" y="381" width="253.5" height="8" fill="url(#gb5)"/>
<rect x="416.0" y="388" width="253.5" height="7" fill="url(#gb6)"/>
<rect x="416.0" y="394" width="253.5" height="7" fill="url(#gb7)"/>
<rect x="416.0" y="400" width="253.5" height="8" fill="url(#gb8)"/>
<rect x="416.0" y="407" width="253.5" height="7" fill="url(#gb9)"/>
<rect x="416.0" y="413" width="253.5" height="7" fill="url(#gb10)"/>
<rect x="416.0" y="419" width="253.5" height="8" fill="url(#gb11)"/>
<rect x="416.0" y="426" width="253.5" height="7" fill="url(#gb12)"/>
<rect x="416.0" y="432" width="253.5" height="7" fill="url(#gb13)"/>
<rect x="416.0" y="438" width="253.5" height="8" fill="url(#gb14)"/>
<rect x="416.0" y="445" width="253.5" height="7" fill="url(#gb15)"/>
<rect x="416.0" y="451" width="253.5" height="7" fill="url(#gb16)"/>
<rect x="416.0" y="457" width="253.5" height="7" fill="url(#gb17)"/>
<rect x="416.0" y="463" width="253.5" height="8" fill="url(#gb18)"/>
<rect x="416.0" y="470" width="253.5" height="7" fill="url(#gb19)"/>
<rect x="416.0" y="476" width="253.5" height="7" fill="url(#gb20)"/>
<rect x="416.0" y="482" width="253.5" height="8" fill="url(#gb21)"/>
<rect x="416.0" y="489" width="253.5" height="7" fill="url(#gb22)"/>
<rect x="416.0" y="495" width="253.5" height="7" fill="url(#gb23)"/>
<rect x="416.0" y="501" width="253.5" height="8" fill="url(#gb24)"/>
<rect x="416.0" y="508" width="253.5" height="7" fill="url(#gb25)"/>
<rect x="416.0" y="514" width="253.5" height="7" fill="url(#gb26)"/>
<rect x="416.0" y="520" width="253.5" height="8" fill="url(#gb27)"/>
<rect x="416.0" y="527" width="253.5" height="7" fill="url(#gb28)"/>
<rect x="416.0" y="533" width="253.5" height="7" fill="url(#gb29)"/>
<rect x="416.0" y="539" width="253.5" height="7" fill="url(#gb30)"/>
<rect x="416.0" y="545" width="253.5" height="8" fill="url(#gb31)"/>
<rect x="416.0" y="552" width="253.5" height="7" fill="url(#gb32)"/>
<rect x="416.0" y="558" width="253.5" height="7" fill="url(#gb33)"/>
<rect x="416.0" y="564" width="253.5" height="8" fill="url(#gb34)"/>
<rect x="416.0" y="571" width="253.5" height="7" fill="url(#gb35)"/>
<rect x="416.0" y="577" width="253.5" height="7" fill="url(#gb36)"/>
<rect x="416.0" y="583" width="253.5" height="8" fill="url(#gb37)"/>
<rect x="416.0" y="590" width="253.5" height="7" fill="url(#gb38)"/>
<rect x="416.0" y="596" width="253.5" height="7" fill="url(#gb39)"/>
<rect x="416.0" y="602" width="253.5" height="8" fill="url(#gb40)"/>
<rect x="416.0" y="609" width="253.5" height="7" fill="url(#gb41)"/>
<rect x="416.0" y="615" width="253.5" height="7" fill="url(#gb42)"/>
<rect x="416.0" y="621" width="253.5" height="7" fill="url(#gb43)"/>
</g></g>
<path d="M416 592.2 420.6 604.4 425.6 616" fill="none" stroke="#111" stroke-width="1"/>
<path d="M445 362.4 436.4 374 428.7 386.3 421.7 399.4 416 412.2" fill="none" stroke="#111" stroke-width="1"/>
<path d="M508.6 362.4 496.3 372.3 484.7 383.7 474.3 396.2 465 409.9 457.2 424.6 450.9 439.9 445.7 456.4 442.2 473.4 440.1 491.3 439.6 509.3 440.6 527.2 443 545.2 447 563.2 452.4 581.1 459.3 599 467.4 616" fill="none" stroke="#111" stroke-width="1"/>
<path d="M669.5 395.3 658.9 391.6 647.3 388.5 635.7 386.3 624.1 385 612.5 384.7 601.9 385.3 590.3 386.9 579.7 389.3 569.2 392.7 559.6 396.7 550.1 401.8 541.7 407.3 533.2 414 525.9 420.9 518.7 429 512.1 438 506.7 446.9 501.5 457.5 497.4 468.1 494.3 478.6 492 489.2 490.5 500.8 489.9 512.4 490.1 524.1 491.2 535.7 493.1 547.3 496.1 560 499.7 571.6 504.2 583.2 509.6 594.9 515.4 605.4 522 616" fill="none" stroke="#111" stroke-width="1"/>
<path d="M669.5 482.6 661 477.5 652.6 473.7 644.1 471.1 635.7 469.5 627.2 469 618.8 469.7 610.4 471.6 603 474.4 595.6 478.6 589.2 483.6 583.9 489.2 578.8 496.6 575.2 504 572.5 512.4 571 520.9 570.5 529.4 571.2 538.9 572.8 547.3 575.5 556.2 579.4 565.3 583.9 573.3 589.6 581.1 596.2 588.5 603 594.6 610.5 600.1 618.8 604.8 627.2 608.4 635.7 610.8 644.1 612.2 652.6 612.5 661 611.6 669.5 609.4" fill="none" stroke="#111" stroke-width="1"/>
<rect x="420.7" y="373.7" width="18.6" height="14.8" fill="#fff" stroke="#222" stroke-width="0.9"/>
<text x="430.0" y="385.7" font-size="13" text-anchor="middle">2.5</text>
<rect x="439.2" y="455.7" width="8.8" height="14.8" fill="#fff" stroke="#222" stroke-width="0.9"/>
<text x="443.6" y="467.7" font-size="13" text-anchor="middle">3</text>
<rect x="502.2" y="424.9" width="18.6" height="14.8" fill="#fff" stroke="#222" stroke-width="0.9"/>
<text x="511.5" y="436.9" font-size="13" text-anchor="middle">3.5</text>
<rect x="563.6" y="519.1" width="8.8" height="14.8" fill="#fff" stroke="#222" stroke-width="0.9"/>
<text x="568.0" y="531.1" font-size="13" text-anchor="middle">4</text>
<rect x="416.0" y="362.4" width="253.5" height="253.6" fill="none" stroke="#222" stroke-width="1.1"/>
<circle cx="416.0" cy="489.2" r="2.6" fill="#c00000" stroke="#111" stroke-width="1.1"/>
<circle cx="669.5" cy="489.2" r="2.6" fill="#c00000" stroke="#111" stroke-width="1.1"/>
<circle cx="542.8" cy="616.0" r="2.6" fill="#c00000" stroke="#111" stroke-width="1.1"/>
<circle cx="542.8" cy="362.4" r="2.6" fill="#c00000" stroke="#111" stroke-width="1.1"/>
<circle cx="542.8" cy="489.2" r="2.6" fill="#c00000" stroke="#111" stroke-width="1.1"/>
<text x="537.2" y="493.7" font-size="13" text-anchor="end" fill="#222">6</text>
<line x1="416.0" y1="616.0" x2="416.0" y2="621.5" stroke="#333" stroke-width="1"/>
<text x="416.0" y="637.3" font-size="14" text-anchor="middle">500</text>
<line x1="479.4" y1="616.0" x2="479.4" y2="621.5" stroke="#333" stroke-width="1"/>
<text x="479.4" y="637.3" font-size="14" text-anchor="middle">550</text>
<line x1="542.8" y1="616.0" x2="542.8" y2="621.5" stroke="#333" stroke-width="1"/>
<text x="542.8" y="637.3" font-size="14" text-anchor="middle">600</text>
<line x1="606.1" y1="616.0" x2="606.1" y2="621.5" stroke="#333" stroke-width="1"/>
<text x="606.1" y="637.3" font-size="14" text-anchor="middle">650</text>
<line x1="669.5" y1="616.0" x2="669.5" y2="621.5" stroke="#333" stroke-width="1"/>
<text x="669.5" y="637.3" font-size="14" text-anchor="middle">700</text>
<line x1="410.5" y1="616.0" x2="416.0" y2="616.0" stroke="#333" stroke-width="1"/>
<text x="407.8" y="620.8" font-size="14" text-anchor="end">2</text>
<line x1="410.5" y1="552.6" x2="416.0" y2="552.6" stroke="#333" stroke-width="1"/>
<text x="407.8" y="557.4" font-size="14" text-anchor="end">2.5</text>
<line x1="410.5" y1="489.2" x2="416.0" y2="489.2" stroke="#333" stroke-width="1"/>
<text x="407.8" y="494.0" font-size="14" text-anchor="end">3</text>
<line x1="410.5" y1="425.8" x2="416.0" y2="425.8" stroke="#333" stroke-width="1"/>
<text x="407.8" y="430.6" font-size="14" text-anchor="end">3.5</text>
<line x1="410.5" y1="362.4" x2="416.0" y2="362.4" stroke="#333" stroke-width="1"/>
<text x="407.8" y="367.2" font-size="14" text-anchor="end">4</text>
<text x="542.6" y="358.2" font-size="13" text-anchor="middle" textLength="136.2" lengthAdjust="spacingAndGlyphs">CO2 Adsorbed&#160; (mmol/g)</text>
<text x="542.5" y="653.3" font-size="13" text-anchor="middle" textLength="116.7" lengthAdjust="spacingAndGlyphs">X1: Temperature (°C)</text>
<text transform="translate(381.4 488.2) rotate(-90)" font-size="13.8" text-anchor="middle" textLength="95.3" lengthAdjust="spacingAndGlyphs">X3: KOH/C Ratio</text>
<g clip-path="url(#clipc)"><g filter="url(#blurc)" shape-rendering="crispEdges">
<rect x="408" y="692.6" width="7" height="247.8" fill="url(#gc0)"/>
<rect x="414" y="692.6" width="7" height="247.8" fill="url(#gc1)"/>
<rect x="420" y="692.6" width="7" height="247.8" fill="url(#gc2)"/>
<rect x="426" y="692.6" width="7" height="247.8" fill="url(#gc3)"/>
<rect x="433" y="692.6" width="7" height="247.8" fill="url(#gc4)"/>
<rect x="439" y="692.6" width="7" height="247.8" fill="url(#gc5)"/>
<rect x="445" y="692.6" width="7" height="247.8" fill="url(#gc6)"/>
<rect x="451" y="692.6" width="7" height="247.8" fill="url(#gc7)"/>
<rect x="457" y="692.6" width="7" height="247.8" fill="url(#gc8)"/>
<rect x="463" y="692.6" width="8" height="247.8" fill="url(#gc9)"/>
<rect x="470" y="692.6" width="7" height="247.8" fill="url(#gc10)"/>
<rect x="476" y="692.6" width="7" height="247.8" fill="url(#gc11)"/>
<rect x="482" y="692.6" width="7" height="247.8" fill="url(#gc12)"/>
<rect x="488" y="692.6" width="7" height="247.8" fill="url(#gc13)"/>
<rect x="494" y="692.6" width="7" height="247.8" fill="url(#gc14)"/>
<rect x="500" y="692.6" width="8" height="247.8" fill="url(#gc15)"/>
<rect x="507" y="692.6" width="7" height="247.8" fill="url(#gc16)"/>
<rect x="513" y="692.6" width="7" height="247.8" fill="url(#gc17)"/>
<rect x="519" y="692.6" width="7" height="247.8" fill="url(#gc18)"/>
<rect x="525" y="692.6" width="7" height="247.8" fill="url(#gc19)"/>
<rect x="531" y="692.6" width="7" height="247.8" fill="url(#gc20)"/>
<rect x="537" y="692.6" width="8" height="247.8" fill="url(#gc21)"/>
<rect x="544" y="692.6" width="7" height="247.8" fill="url(#gc22)"/>
<rect x="550" y="692.6" width="7" height="247.8" fill="url(#gc23)"/>
<rect x="556" y="692.6" width="7" height="247.8" fill="url(#gc24)"/>
<rect x="562" y="692.6" width="7" height="247.8" fill="url(#gc25)"/>
<rect x="568" y="692.6" width="8" height="247.8" fill="url(#gc26)"/>
<rect x="575" y="692.6" width="7" height="247.8" fill="url(#gc27)"/>
<rect x="581" y="692.6" width="7" height="247.8" fill="url(#gc28)"/>
<rect x="587" y="692.6" width="7" height="247.8" fill="url(#gc29)"/>
<rect x="593" y="692.6" width="7" height="247.8" fill="url(#gc30)"/>
<rect x="599" y="692.6" width="7" height="247.8" fill="url(#gc31)"/>
<rect x="605" y="692.6" width="8" height="247.8" fill="url(#gc32)"/>
<rect x="612" y="692.6" width="7" height="247.8" fill="url(#gc33)"/>
<rect x="618" y="692.6" width="7" height="247.8" fill="url(#gc34)"/>
<rect x="624" y="692.6" width="7" height="247.8" fill="url(#gc35)"/>
<rect x="630" y="692.6" width="7" height="247.8" fill="url(#gc36)"/>
<rect x="636" y="692.6" width="7" height="247.8" fill="url(#gc37)"/>
<rect x="642" y="692.6" width="8" height="247.8" fill="url(#gc38)"/>
<rect x="649" y="692.6" width="7" height="247.8" fill="url(#gc39)"/>
<rect x="655" y="692.6" width="7" height="247.8" fill="url(#gc40)"/>
<rect x="661" y="692.6" width="7" height="247.8" fill="url(#gc41)"/>
<rect x="667" y="692.6" width="7" height="247.8" fill="url(#gc42)"/>
<rect x="673" y="692.6" width="7" height="247.8" fill="url(#gc43)"/>
</g></g>
<path d="M622.3 692.6 587.5 695.1 554.5 695.9 521.4 695.1 489.2 692.6" fill="none" stroke="#111" stroke-width="1"/>
<path d="M668 709 633.9 714.6 601.9 718.3 571 720.3 541.1 720.7 511.1 719.5 481.2 716.6 451.3 712.1 420.3 705.9" fill="none" stroke="#111" stroke-width="1"/>
<path d="M668 735.1 632.9 742.6 599.9 747.8 568.9 750.8 540 751.8 525.6 751.5 511.1 750.7 482.2 747.7 452.3 742.4 420.3 734.7" fill="none" stroke="#111" stroke-width="1"/>
<path d="M420.3 912.7 436.8 908.5 452.3 905.1 465.7 902.8 479.1 901.1 491.5 900.2 503.9 899.9 516.3 900.3 528.7 901.5 541.1 903.4 553.4 905.9 566.9 909.4 581.3 913.7 596.8 919.1 613.3 925.4 648.5 940.4" fill="none" stroke="#111" stroke-width="1"/>
<path d="M668 768.4 626.7 781.8 608.1 787 591.6 791.1 576.1 794.4 561.7 796.8 547.2 798.4 533.8 799.1 521.4 799.1 508 798.2 494.6 796.5 481.2 794 466.7 790.5 452.3 786.3 436.8 781 420.3 774.8" fill="none" stroke="#111" stroke-width="1"/>
<path d="M668 826.4 661.6 834.1 656.7 842.3 654 849.5 653.2 853.7 652.9 857.8 653.9 866.1 656.8 874.3 661.4 882.6 668 891.3" fill="none" stroke="#111" stroke-width="1"/>
<rect x="531.2" y="706.4" width="18.6" height="14.8" fill="#fff" stroke="#222" stroke-width="0.9"/>
<text x="540.5" y="718.4" font-size="13" text-anchor="middle">3.4</text>
<rect x="531.2" y="737.1" width="18.6" height="14.8" fill="#fff" stroke="#222" stroke-width="0.9"/>
<text x="540.5" y="749.1" font-size="13" text-anchor="middle">3.6</text>
<rect x="534.9" y="783.1" width="18.6" height="14.8" fill="#fff" stroke="#222" stroke-width="0.9"/>
<text x="544.2" y="795.1" font-size="13" text-anchor="middle">3.8</text>
<rect x="531.2" y="890.1" width="18.6" height="14.8" fill="#fff" stroke="#222" stroke-width="0.9"/>
<text x="540.5" y="902.1" font-size="13" text-anchor="middle">3.8</text>
<rect x="646.4" y="841.8" width="8.8" height="14.8" fill="#fff" stroke="#222" stroke-width="0.9"/>
<text x="650.8" y="853.8" font-size="13" text-anchor="middle">4</text>
<rect x="420.3" y="692.6" width="247.7" height="247.8" fill="none" stroke="#222" stroke-width="1.1"/>
<circle cx="420.3" cy="816.5" r="2.6" fill="#c00000" stroke="#111" stroke-width="1.1"/>
<circle cx="668.0" cy="816.5" r="2.6" fill="#c00000" stroke="#111" stroke-width="1.1"/>
<circle cx="544.1" cy="940.4" r="2.6" fill="#c00000" stroke="#111" stroke-width="1.1"/>
<circle cx="544.1" cy="692.6" r="2.6" fill="#c00000" stroke="#111" stroke-width="1.1"/>
<circle cx="544.1" cy="816.5" r="2.6" fill="#c00000" stroke="#111" stroke-width="1.1"/>
<text x="538.6" y="821.0" font-size="13" text-anchor="end" fill="#222">6</text>
<line x1="420.3" y1="940.4" x2="420.3" y2="945.9" stroke="#333" stroke-width="1"/>
<text x="420.3" y="961.7" font-size="14" text-anchor="middle">1.5</text>
<line x1="482.2" y1="940.4" x2="482.2" y2="945.9" stroke="#333" stroke-width="1"/>
<text x="482.2" y="961.7" font-size="14" text-anchor="middle">2</text>
<line x1="544.1" y1="940.4" x2="544.1" y2="945.9" stroke="#333" stroke-width="1"/>
<text x="544.1" y="961.7" font-size="14" text-anchor="middle">2.5</text>
<line x1="606.1" y1="940.4" x2="606.1" y2="945.9" stroke="#333" stroke-width="1"/>
<text x="606.1" y="961.7" font-size="14" text-anchor="middle">3</text>
<line x1="668.0" y1="940.4" x2="668.0" y2="945.9" stroke="#333" stroke-width="1"/>
<text x="668.0" y="961.7" font-size="14" text-anchor="middle">3.5</text>
<line x1="414.8" y1="940.4" x2="420.3" y2="940.4" stroke="#333" stroke-width="1"/>
<text x="412.1" y="945.2" font-size="14" text-anchor="end">2</text>
<line x1="414.8" y1="878.5" x2="420.3" y2="878.5" stroke="#333" stroke-width="1"/>
<text x="412.1" y="883.2" font-size="14" text-anchor="end">2.5</text>
<line x1="414.8" y1="816.5" x2="420.3" y2="816.5" stroke="#333" stroke-width="1"/>
<text x="412.1" y="821.3" font-size="14" text-anchor="end">3</text>
<line x1="414.8" y1="754.5" x2="420.3" y2="754.5" stroke="#333" stroke-width="1"/>
<text x="412.1" y="759.3" font-size="14" text-anchor="end">3.5</text>
<line x1="414.8" y1="692.6" x2="420.3" y2="692.6" stroke="#333" stroke-width="1"/>
<text x="412.1" y="697.4" font-size="14" text-anchor="end">4</text>
<text x="544.1" y="688.7" font-size="13" text-anchor="middle" textLength="133.2" lengthAdjust="spacingAndGlyphs">CO2 Adsorbed&#160; (mmol/g)</text>
<text x="543.4" y="976.6" font-size="13" text-anchor="middle" textLength="67.9" lengthAdjust="spacingAndGlyphs">X2: Time (h)</text>
<text transform="translate(386.3 815.5) rotate(-90)" font-size="13.8" text-anchor="middle" textLength="93.9" lengthAdjust="spacingAndGlyphs">X3: KOH/C Ratio</text>
<text x="332.5" y="13.2" font-size="18" font-weight="bold">(a)</text>
<text x="332.2" y="343.1" font-size="18" font-weight="bold">(b)</text>
<text x="333.0" y="673.1" font-size="18" font-weight="bold">(c)</text>
<line x1="369" y1="982.5" x2="685" y2="982.5" stroke="#f2f2f2" stroke-width="1"/>
</svg></body></html>
